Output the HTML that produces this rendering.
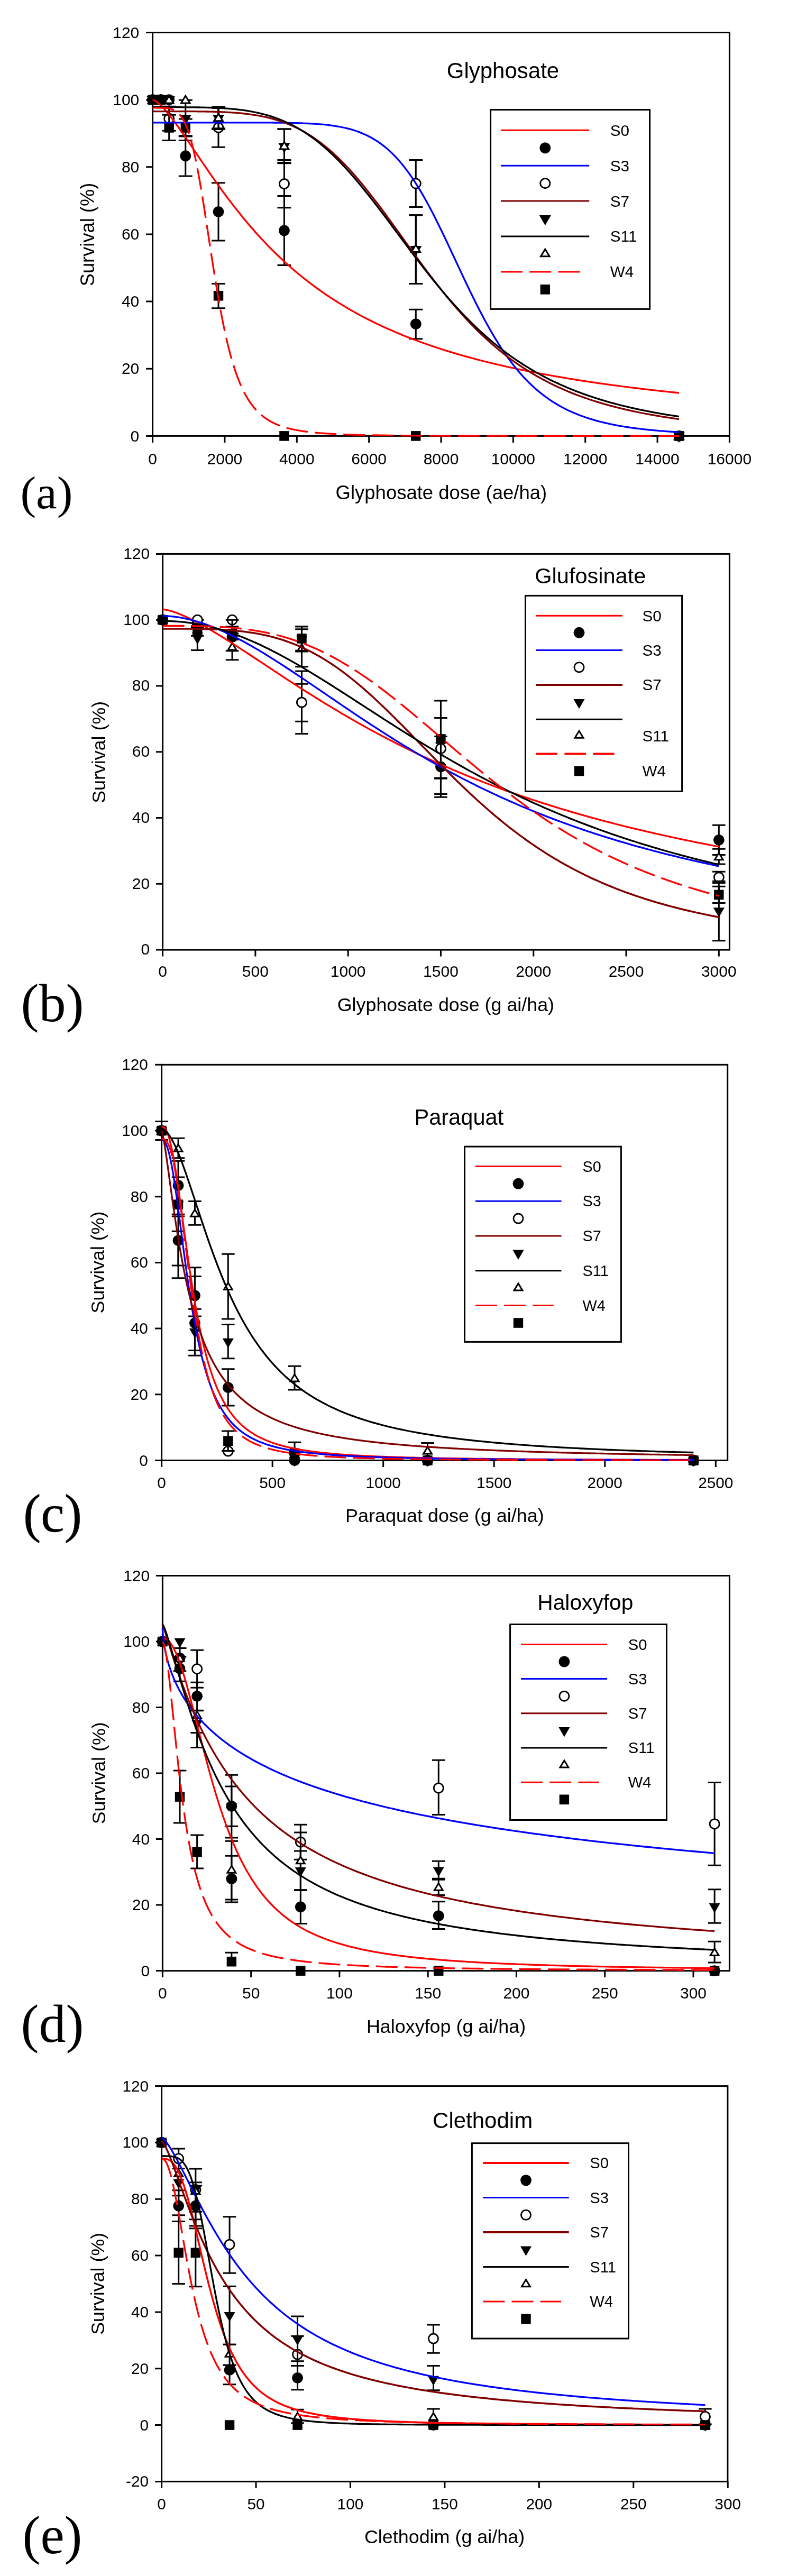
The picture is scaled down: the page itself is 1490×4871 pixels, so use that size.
<!DOCTYPE html>
<html><head><meta charset="utf-8"><title>Dose-response curves</title>
<style>html,body{margin:0;padding:0;background:#fff}svg{display:block;will-change:transform}text{fill:#000}</style></head>
<body>
<svg width="1490" height="4871" viewBox="0 0 1490 4871">
<rect width="1490" height="4871" fill="#fff"/>
<g id="panel_a">
<rect x="288.6" y="61.5" width="1090.8" height="762.9" fill="none" stroke="#000" stroke-width="3.0"/>
<path d="M288.6 824.4V836.9M424.95 824.4V836.9M561.3 824.4V836.9M697.65 824.4V836.9M834 824.4V836.9M970.35 824.4V836.9M1106.7 824.4V836.9M1243.05 824.4V836.9M1379.4 824.4V836.9M288.6 824.4H276.1M288.6 697.25H276.1M288.6 570.1H276.1M288.6 442.95H276.1M288.6 315.8H276.1M288.6 188.65H276.1M288.6 61.5H276.1" stroke="#000" stroke-width="3.0" fill="none"/>
<g font-family="Liberation Sans, sans-serif" font-size="30" fill="#000">
<text x="288.6" y="877.56" text-anchor="middle">0</text>
<text x="424.95" y="877.56" text-anchor="middle">2000</text>
<text x="561.3" y="877.56" text-anchor="middle">4000</text>
<text x="697.65" y="877.56" text-anchor="middle">6000</text>
<text x="834" y="877.56" text-anchor="middle">8000</text>
<text x="970.35" y="877.56" text-anchor="middle">10000</text>
<text x="1106.7" y="877.56" text-anchor="middle">12000</text>
<text x="1243.05" y="877.56" text-anchor="middle">14000</text>
<text x="1379.4" y="877.56" text-anchor="middle">16000</text>
<text x="263.3" y="834.56" text-anchor="end">0</text>
<text x="263.3" y="707.41" text-anchor="end">20</text>
<text x="263.3" y="580.26" text-anchor="end">40</text>
<text x="263.3" y="453.11" text-anchor="end">60</text>
<text x="263.3" y="325.96" text-anchor="end">80</text>
<text x="263.3" y="198.81" text-anchor="end">100</text>
<text x="263.3" y="71.66" text-anchor="end">120</text>
</g>
<path d="M350.78 256.68V332.97M337.78 256.68H363.78M337.78 332.97H363.78M413.02 345.68V455.03M400.02 345.68H426.02M400.02 455.03H426.02M537.44 370.47V501.44M524.44 370.47H550.44M524.44 501.44H550.44M786.28 585.36V640.67M773.28 585.36H799.28M773.28 640.67H799.28" stroke="#000" stroke-width="3.0" fill="none"/>
<circle cx="288.6" cy="188.65" r="10.45" fill="#000"/>
<circle cx="304.14" cy="188.65" r="10.45" fill="#000"/>
<circle cx="319.69" cy="188.65" r="10.45" fill="#000"/>
<circle cx="350.78" cy="294.82" r="10.45" fill="#000"/>
<circle cx="413.02" cy="400.35" r="10.45" fill="#000"/>
<circle cx="537.44" cy="435.96" r="10.45" fill="#000"/>
<circle cx="786.28" cy="612.7" r="10.45" fill="#000"/>
<circle cx="1283.95" cy="824.4" r="10.45" fill="#000"/>
<path d="M319.69 201.37V247.14M306.69 201.37H332.69M306.69 247.14H332.69M413.02 204.54V278.29M400.02 204.54H426.02M400.02 278.29H426.02M537.44 302.45V392.73M524.44 302.45H550.44M524.44 392.73H550.44M786.28 302.45V391.45M773.28 302.45H799.28M773.28 391.45H799.28" stroke="#000" stroke-width="3.0" fill="none"/>
<circle cx="288.6" cy="188.65" r="9.1" fill="#fff" stroke="#000" stroke-width="2.8"/>
<circle cx="304.14" cy="188.65" r="9.1" fill="#fff" stroke="#000" stroke-width="2.8"/>
<circle cx="319.69" cy="224.25" r="9.1" fill="#fff" stroke="#000" stroke-width="2.8"/>
<circle cx="413.02" cy="241.42" r="9.1" fill="#fff" stroke="#000" stroke-width="2.8"/>
<circle cx="537.44" cy="347.59" r="9.1" fill="#fff" stroke="#000" stroke-width="2.8"/>
<circle cx="786.28" cy="346.95" r="9.1" fill="#fff" stroke="#000" stroke-width="2.8"/>
<circle cx="1283.95" cy="824.4" r="9.1" fill="#fff" stroke="#000" stroke-width="2.8"/>
<path d="M350.78 189.29V257.95M337.78 189.29H363.78M337.78 257.95H363.78M413.02 202.64V244.6M400.02 202.64H426.02M400.02 244.6H426.02M537.44 243.96V308.81M524.44 243.96H550.44M524.44 308.81H550.44M786.28 406.71V536.41M773.28 406.71H799.28M773.28 536.41H799.28" stroke="#000" stroke-width="3.0" fill="none"/>
<path d="M277.52 182.05H299.68L288.6 201.25Z" fill="#000"/>
<path d="M293.07 182.05H315.22L304.14 201.25Z" fill="#000"/>
<path d="M308.61 182.05H330.77L319.69 201.25Z" fill="#000"/>
<path d="M339.7 217.02H361.85L350.78 236.22Z" fill="#000"/>
<path d="M401.94 217.02H424.1L413.02 236.22Z" fill="#000"/>
<path d="M526.36 270.42H548.52L537.44 289.62Z" fill="#000"/>
<path d="M775.2 464.96H797.36L786.28 484.16Z" fill="#000"/>
<path d="M1272.88 817.8H1295.03L1283.95 837Z" fill="#000"/>
<path d="M413.02 202V242.69M400.02 202H426.02M400.02 242.69H426.02M537.44 243.96V307.54M524.44 243.96H550.44M524.44 307.54H550.44M786.28 406.71V536.41M773.28 406.71H799.28M773.28 536.41H799.28" stroke="#000" stroke-width="3.0" fill="none"/>
<path d="M280.31 194.95H296.9L288.6 181.19Z" fill="#fff" stroke="#000" stroke-width="3.0" stroke-linejoin="miter"/>
<path d="M295.85 194.95H312.44L304.14 181.19Z" fill="#fff" stroke="#000" stroke-width="3.0" stroke-linejoin="miter"/>
<path d="M311.39 194.95H327.98L319.69 181.19Z" fill="#fff" stroke="#000" stroke-width="3.0" stroke-linejoin="miter"/>
<path d="M342.48 194.95H359.07L350.78 181.19Z" fill="#fff" stroke="#000" stroke-width="3.0" stroke-linejoin="miter"/>
<path d="M404.72 228.64H421.31L413.02 214.89Z" fill="#fff" stroke="#000" stroke-width="3.0" stroke-linejoin="miter"/>
<path d="M529.14 282.05H545.73L537.44 268.29Z" fill="#fff" stroke="#000" stroke-width="3.0" stroke-linejoin="miter"/>
<path d="M777.98 476.59H794.57L786.28 462.83Z" fill="#fff" stroke="#000" stroke-width="3.0" stroke-linejoin="miter"/>
<path d="M1275.66 830.7H1292.25L1283.95 816.94Z" fill="#fff" stroke="#000" stroke-width="3.0" stroke-linejoin="miter"/>
<path d="M319.69 217.26V265.58M306.69 217.26H332.69M306.69 265.58H332.69M350.78 224.89V265.58M337.78 224.89H363.78M337.78 265.58H363.78M413.02 536.41V582.81M400.02 536.41H426.02M400.02 582.81H426.02" stroke="#000" stroke-width="3.0" fill="none"/>
<rect x="279.4" y="179.35" width="18.4" height="18.6" fill="#000"/>
<rect x="294.94" y="179.35" width="18.4" height="18.6" fill="#000"/>
<rect x="310.49" y="232.12" width="18.4" height="18.6" fill="#000"/>
<rect x="341.58" y="232.12" width="18.4" height="18.6" fill="#000"/>
<rect x="403.82" y="549.99" width="18.4" height="18.6" fill="#000"/>
<rect x="528.24" y="815.1" width="18.4" height="18.6" fill="#000"/>
<rect x="777.08" y="815.1" width="18.4" height="18.6" fill="#000"/>
<rect x="1274.75" y="815.1" width="18.4" height="18.6" fill="#000"/>
<path d="M288.6 188.6 289.5 188.8 289.5 188.8 290.4 189.1 290.5 189.2 291.3 189.5 291.4 189.6 292.2 190.0 292.4 190.1 293.1 190.5 293.3 190.6 293.6 190.8 294.0 191.0 294.2 191.2 294.9 191.6 295.2 191.8 295.8 192.3 296.1 192.5 296.7 192.9 297.1 193.2 297.6 193.6 298.0 193.9 298.6 194.3 298.6 194.4 298.9 194.7 299.9 195.4 300.8 196.3 301.7 197.1 302.7 198.0 303.6 198.9 303.6 198.9 304.6 199.8 305.5 200.7 306.4 201.7 307.4 202.7 308.3 203.6 308.6 204.0 309.3 204.7 310.2 205.7 311.1 206.7 312.1 207.8 313.0 208.9 313.6 209.6 314.0 210.0 314.9 211.1 315.8 212.2 316.8 213.3 317.7 214.5 318.6 215.6 318.6 215.6 319.6 216.8 320.5 218.0 321.5 219.1 322.4 220.3 323.3 221.5 323.6 221.9 324.3 222.8 325.2 224.0 326.2 225.2 327.1 226.5 328.0 227.7 328.6 228.5 329.0 229.0 329.9 230.3 330.9 231.5 331.8 232.8 332.7 234.1 333.6 235.3 333.7 235.4 334.6 236.7 335.6 238.0 336.5 239.3 337.4 240.6 338.4 242.0 338.6 242.3 339.3 243.3 340.2 244.6 341.2 245.9 342.1 247.3 343.1 248.6 343.6 249.4 344.0 250.0 344.9 251.3 345.9 252.7 346.8 254.1 347.8 255.4 348.6 256.7 348.7 256.8 349.6 258.2 350.6 259.5 351.5 260.9 352.5 262.3 353.4 263.7 353.6 264.0 354.3 265.0 355.3 266.4 356.2 267.8 357.1 269.2 358.1 270.6 358.6 271.4 359.0 272.0 360.0 273.3 360.9 274.7 361.8 276.1 362.8 277.5 363.6 278.8 363.7 278.9 364.7 280.3 365.6 281.7 366.5 283.1 367.5 284.5 368.4 285.9 368.6 286.2 369.4 287.3 370.3 288.7 371.2 290.1 372.2 291.5 373.1 292.8 373.6 293.6 374.1 294.2 375.0 295.6 375.9 297.0 376.9 298.4 377.8 299.8 378.6 301.0 378.7 301.2 379.7 302.6 380.6 304.0 381.6 305.3 382.5 306.7 383.4 308.1 383.6 308.4 384.4 309.5 385.3 310.9 386.3 312.3 387.2 313.6 388.1 315.0 388.6 315.7 389.1 316.4 390.0 317.7 391.0 319.1 391.9 320.5 392.8 321.9 393.6 323.0 393.8 323.2 394.7 324.6 395.6 325.9 396.6 327.3 397.5 328.6 398.5 330.0 398.6 330.3 399.4 331.4 400.3 332.7 401.3 334.0 402.2 335.4 403.2 336.7 403.6 337.4 404.1 338.1 405.0 339.4 406.0 340.7 406.9 342.1 407.9 343.4 408.6 344.5 408.8 344.7 409.7 346.0 410.7 347.4 411.6 348.7 412.5 350.0 413.5 351.3 413.6 351.5 414.4 352.6 415.4 353.9 416.3 355.2 417.2 356.5 418.2 357.8 418.6 358.4 419.1 359.1 420.1 360.4 421.0 361.7 421.9 363.0 422.9 364.2 423.6 365.3 423.8 365.5 424.8 366.8 425.7 368.1 426.6 369.3 427.6 370.6 428.5 371.9 428.6 372.0 429.5 373.1 430.4 374.4 431.3 375.6 432.3 376.9 433.2 378.1 433.7 378.7 434.1 379.3 435.1 380.6 436.0 381.8 437.0 383.1 437.9 384.3 438.7 385.3 443.7 391.7 448.7 398.1 453.7 404.3 458.7 410.5 463.7 416.6 468.7 422.5 473.7 428.4 478.7 434.1 483.7 439.8 488.7 445.3 493.7 450.8 498.7 456.2 503.7 461.4 508.7 466.6 513.7 471.6 518.7 476.6 523.7 481.5 528.7 486.3 533.7 491.0 538.7 495.6 543.7 500.1 548.7 504.6 553.7 508.9 558.7 513.2 563.7 517.4 568.7 521.5 573.7 525.5 578.7 529.5 583.7 533.4 588.7 537.2 593.7 540.9 598.7 544.6 603.7 548.2 608.7 551.7 613.7 555.2 618.7 558.6 623.7 561.9 628.7 565.2 633.7 568.4 638.7 571.6 643.7 574.7 648.7 577.7 653.7 580.7 658.7 583.7 663.7 586.5 668.7 589.4 673.7 592.2 678.7 594.9 683.7 597.6 688.7 600.2 693.7 602.8 698.7 605.3 703.7 607.8 708.7 610.3 713.8 612.7 718.8 615.1 723.8 617.4 728.8 619.7 733.8 621.9 738.8 624.1 743.8 626.3 748.8 628.5 753.8 630.6 758.8 632.6 763.8 634.7 768.8 636.7 773.8 638.6 778.8 640.6 783.8 642.5 788.8 644.3 793.8 646.2 798.8 648.0 803.8 649.8 808.8 651.5 813.8 653.2 818.8 654.9 823.8 656.6 828.8 658.3 833.8 659.9 838.8 661.5 843.8 663.1 848.8 664.6 853.8 666.1 858.8 667.6 863.8 669.1 868.8 670.6 873.8 672.0 878.8 673.4 883.8 674.8 888.8 676.2 893.8 677.5 898.8 678.9 903.8 680.2 908.8 681.5 913.8 682.8 918.8 684.0 923.8 685.3 928.8 686.5 933.8 687.7 938.8 688.9 943.8 690.0 948.8 691.2 953.8 692.3 958.8 693.5 963.8 694.6 968.8 695.7 973.8 696.7 978.8 697.8 983.8 698.9 988.8 699.9 993.9 700.9 998.9 701.9 1003.9 702.9 1008.9 703.9 1013.9 704.9 1018.9 705.8 1023.9 706.8 1028.9 707.7 1033.9 708.6 1038.9 709.5 1043.9 710.4 1048.9 711.3 1053.9 712.2 1058.9 713.0 1063.9 713.9 1068.9 714.7 1073.9 715.6 1078.9 716.4 1083.9 717.2 1088.9 718.0 1093.9 718.8 1098.9 719.6 1103.9 720.4 1108.9 721.1 1113.9 721.9 1118.9 722.6 1123.9 723.4 1128.9 724.1 1133.9 724.8 1138.9 725.5 1143.9 726.2 1148.9 726.9 1153.9 727.6 1158.9 728.3 1163.9 728.9 1168.9 729.6 1173.9 730.3 1178.9 730.9 1183.9 731.6 1188.9 732.2 1193.9 732.8 1198.9 733.4 1203.9 734.0 1208.9 734.7 1213.9 735.3 1218.9 735.8 1223.9 736.4 1228.9 737.0 1233.9 737.6 1238.9 738.2 1243.9 738.7 1248.9 739.3 1253.9 739.8 1258.9 740.4 1263.9 740.9 1268.9 741.4 1274.0 742.0 1279.0 742.5 1284.0 743.0" fill="none" stroke="#ff0000" stroke-width="3.3" stroke-linejoin="round"/>
<path d="M288.6 231.8 289.5 231.8 289.5 231.8 290.4 231.8 290.5 231.8 291.3 231.8 291.4 231.8 292.2 231.8 292.4 231.8 293.1 231.8 293.3 231.8 293.6 231.8 294.0 231.8 294.2 231.8 294.9 231.8 295.2 231.8 295.8 231.8 296.1 231.8 296.7 231.8 297.1 231.8 297.6 231.8 298.0 231.8 298.6 231.8 298.6 231.8 298.9 231.8 299.9 231.8 300.8 231.8 301.7 231.8 302.7 231.8 303.6 231.8 303.6 231.8 304.6 231.8 305.5 231.8 306.4 231.8 307.4 231.8 308.3 231.8 308.6 231.8 309.3 231.8 310.2 231.8 311.1 231.8 312.1 231.8 313.0 231.8 313.6 231.8 314.0 231.8 314.9 231.8 315.8 231.8 316.8 231.8 317.7 231.8 318.6 231.8 318.6 231.8 319.6 231.8 320.5 231.8 321.5 231.8 322.4 231.8 323.3 231.8 323.6 231.8 324.3 231.8 325.2 231.8 326.2 231.8 327.1 231.8 328.0 231.8 328.6 231.8 329.0 231.8 329.9 231.8 330.9 231.8 331.8 231.8 332.7 231.8 333.6 231.8 333.7 231.8 334.6 231.8 335.6 231.8 336.5 231.8 337.4 231.8 338.4 231.8 338.6 231.8 339.3 231.8 340.2 231.8 341.2 231.8 342.1 231.8 343.1 231.8 343.6 231.8 344.0 231.8 344.9 231.8 345.9 231.8 346.8 231.8 347.8 231.8 348.6 231.8 348.7 231.8 349.6 231.8 350.6 231.8 351.5 231.8 352.5 231.8 353.4 231.8 353.6 231.8 354.3 231.8 355.3 231.8 356.2 231.8 357.1 231.8 358.1 231.8 358.6 231.8 359.0 231.8 360.0 231.8 360.9 231.8 361.8 231.8 362.8 231.8 363.6 231.8 363.7 231.8 364.7 231.8 365.6 231.8 366.5 231.8 367.5 231.8 368.4 231.8 368.6 231.8 369.4 231.8 370.3 231.8 371.2 231.8 372.2 231.8 373.1 231.8 373.6 231.8 374.1 231.8 375.0 231.8 375.9 231.8 376.9 231.8 377.8 231.8 378.6 231.8 378.7 231.8 379.7 231.8 380.6 231.8 381.6 231.8 382.5 231.8 383.4 231.8 383.6 231.8 384.4 231.8 385.3 231.8 386.3 231.8 387.2 231.8 388.1 231.8 388.6 231.8 389.1 231.8 390.0 231.8 391.0 231.8 391.9 231.8 392.8 231.8 393.6 231.8 393.8 231.8 394.7 231.8 395.6 231.8 396.6 231.8 397.5 231.8 398.5 231.8 398.6 231.8 399.4 231.8 400.3 231.8 401.3 231.8 402.2 231.8 403.2 231.8 403.6 231.8 404.1 231.8 405.0 231.8 406.0 231.8 406.9 231.8 407.9 231.8 408.6 231.8 408.8 231.8 409.7 231.8 410.7 231.8 411.6 231.8 412.5 231.8 413.5 231.8 413.6 231.8 414.4 231.8 415.4 231.8 416.3 231.8 417.2 231.8 418.2 231.8 418.6 231.8 419.1 231.8 420.1 231.8 421.0 231.8 421.9 231.8 422.9 231.8 423.6 231.8 423.8 231.8 424.8 231.8 425.7 231.8 426.6 231.8 427.6 231.8 428.5 231.8 428.6 231.8 429.5 231.8 430.4 231.8 431.3 231.8 432.3 231.8 433.2 231.8 433.7 231.8 434.1 231.8 435.1 231.8 436.0 231.8 437.0 231.8 437.9 231.8 438.7 231.8 443.7 231.8 448.7 231.8 453.7 231.8 458.7 231.8 463.7 231.8 468.7 231.8 473.7 231.8 478.7 231.8 483.7 231.8 488.7 231.8 493.7 231.8 498.7 231.9 503.7 231.9 508.7 231.9 513.7 231.9 518.7 232.0 523.7 232.0 528.7 232.1 533.7 232.1 538.7 232.2 543.7 232.3 548.7 232.4 553.7 232.5 558.7 232.6 563.7 232.7 568.7 232.9 573.7 233.1 578.7 233.3 583.7 233.5 588.7 233.8 593.7 234.1 598.7 234.4 603.7 234.8 608.7 235.2 613.7 235.7 618.7 236.2 623.7 236.8 628.7 237.5 633.7 238.3 638.7 239.1 643.7 240.0 648.7 241.0 653.7 242.1 658.7 243.4 663.7 244.7 668.7 246.2 673.7 247.8 678.7 249.6 683.7 251.6 688.7 253.7 693.7 256.0 698.7 258.5 703.7 261.3 708.7 264.2 713.8 267.4 718.8 270.9 723.8 274.6 728.8 278.6 733.8 282.8 738.8 287.4 743.8 292.2 748.8 297.4 753.8 302.9 758.8 308.8 763.8 314.9 768.8 321.4 773.8 328.3 778.8 335.4 783.8 342.9 788.8 350.8 793.8 358.9 798.8 367.4 803.8 376.2 808.8 385.2 813.8 394.6 818.8 404.1 823.8 413.9 828.8 424.0 833.8 434.2 838.8 444.5 843.8 455.0 848.8 465.6 853.8 476.3 858.8 487.0 863.8 497.7 868.8 508.4 873.8 519.1 878.8 529.7 883.8 540.2 888.8 550.6 893.8 560.8 898.8 570.9 903.8 580.8 908.8 590.5 913.8 600.0 918.8 609.3 923.8 618.3 928.8 627.1 933.8 635.6 938.8 643.9 943.8 651.8 948.8 659.6 953.8 667.0 958.8 674.2 963.8 681.1 968.8 687.7 973.8 694.1 978.8 700.2 983.8 706.1 988.8 711.7 993.9 717.0 998.9 722.2 1003.9 727.0 1008.9 731.7 1013.9 736.2 1018.9 740.4 1023.9 744.5 1028.9 748.4 1033.9 752.0 1038.9 755.5 1043.9 758.9 1048.9 762.0 1053.9 765.0 1058.9 767.9 1063.9 770.6 1068.9 773.2 1073.9 775.7 1078.9 778.0 1083.9 780.2 1088.9 782.3 1093.9 784.3 1098.9 786.2 1103.9 788.0 1108.9 789.8 1113.9 791.4 1118.9 792.9 1123.9 794.4 1128.9 795.8 1133.9 797.1 1138.9 798.4 1143.9 799.6 1148.9 800.7 1153.9 801.8 1158.9 802.8 1163.9 803.8 1168.9 804.8 1173.9 805.6 1178.9 806.5 1183.9 807.3 1188.9 808.0 1193.9 808.8 1198.9 809.5 1203.9 810.1 1208.9 810.7 1213.9 811.3 1218.9 811.9 1223.9 812.4 1228.9 813.0 1233.9 813.4 1238.9 813.9 1243.9 814.4 1248.9 814.8 1253.9 815.2 1258.9 815.6 1263.9 815.9 1268.9 816.3 1274.0 816.6 1279.0 816.9 1284.0 817.3" fill="none" stroke="#0000ff" stroke-width="3.3" stroke-linejoin="round"/>
<path d="M288.6 210.6 289.5 210.6 289.5 210.6 290.4 210.6 290.5 210.6 291.3 210.6 291.4 210.6 292.2 210.6 292.4 210.6 293.1 210.6 293.3 210.6 293.6 210.6 294.0 210.6 294.2 210.6 294.9 210.6 295.2 210.6 295.8 210.6 296.1 210.6 296.7 210.6 297.1 210.6 297.6 210.6 298.0 210.6 298.6 210.6 298.6 210.6 298.9 210.6 299.9 210.6 300.8 210.6 301.7 210.6 302.7 210.6 303.6 210.6 303.6 210.6 304.6 210.6 305.5 210.6 306.4 210.6 307.4 210.6 308.3 210.6 308.6 210.6 309.3 210.6 310.2 210.6 311.1 210.6 312.1 210.6 313.0 210.6 313.6 210.6 314.0 210.6 314.9 210.6 315.8 210.6 316.8 210.6 317.7 210.6 318.6 210.6 318.6 210.6 319.6 210.6 320.5 210.6 321.5 210.6 322.4 210.6 323.3 210.6 323.6 210.6 324.3 210.6 325.2 210.6 326.2 210.6 327.1 210.6 328.0 210.6 328.6 210.6 329.0 210.6 329.9 210.6 330.9 210.6 331.8 210.6 332.7 210.6 333.6 210.6 333.7 210.6 334.6 210.6 335.6 210.6 336.5 210.6 337.4 210.6 338.4 210.6 338.6 210.6 339.3 210.6 340.2 210.6 341.2 210.6 342.1 210.6 343.1 210.6 343.6 210.6 344.0 210.6 344.9 210.6 345.9 210.6 346.8 210.6 347.8 210.6 348.6 210.6 348.7 210.6 349.6 210.6 350.6 210.6 351.5 210.6 352.5 210.6 353.4 210.6 353.6 210.6 354.3 210.6 355.3 210.6 356.2 210.6 357.1 210.6 358.1 210.7 358.6 210.7 359.0 210.7 360.0 210.7 360.9 210.7 361.8 210.7 362.8 210.7 363.6 210.7 363.7 210.7 364.7 210.7 365.6 210.7 366.5 210.7 367.5 210.7 368.4 210.7 368.6 210.7 369.4 210.7 370.3 210.7 371.2 210.7 372.2 210.7 373.1 210.8 373.6 210.8 374.1 210.8 375.0 210.8 375.9 210.8 376.9 210.8 377.8 210.8 378.6 210.8 378.7 210.8 379.7 210.8 380.6 210.8 381.6 210.8 382.5 210.9 383.4 210.9 383.6 210.9 384.4 210.9 385.3 210.9 386.3 210.9 387.2 210.9 388.1 210.9 388.6 210.9 389.1 211.0 390.0 211.0 391.0 211.0 391.9 211.0 392.8 211.0 393.6 211.0 393.8 211.0 394.7 211.1 395.6 211.1 396.6 211.1 397.5 211.1 398.5 211.1 398.6 211.1 399.4 211.2 400.3 211.2 401.3 211.2 402.2 211.2 403.2 211.2 403.6 211.3 404.1 211.3 405.0 211.3 406.0 211.3 406.9 211.4 407.9 211.4 408.6 211.4 408.8 211.4 409.7 211.4 410.7 211.5 411.6 211.5 412.5 211.5 413.5 211.6 413.6 211.6 414.4 211.6 415.4 211.6 416.3 211.7 417.2 211.7 418.2 211.7 418.6 211.8 419.1 211.8 420.1 211.8 421.0 211.9 421.9 211.9 422.9 211.9 423.6 212.0 423.8 212.0 424.8 212.0 425.7 212.1 426.6 212.1 427.6 212.2 428.5 212.2 428.6 212.2 429.5 212.3 430.4 212.3 431.3 212.4 432.3 212.4 433.2 212.5 433.7 212.5 434.1 212.5 435.1 212.6 436.0 212.7 437.0 212.7 437.9 212.8 438.7 212.8 443.7 213.2 448.7 213.6 453.7 214.0 458.7 214.5 463.7 215.0 468.7 215.6 473.7 216.3 478.7 217.0 483.7 217.8 488.7 218.7 493.7 219.6 498.7 220.6 503.7 221.7 508.7 222.9 513.7 224.2 518.7 225.6 523.7 227.1 528.7 228.7 533.7 230.4 538.7 232.2 543.7 234.1 548.7 236.2 553.7 238.3 558.7 240.7 563.7 243.1 568.7 245.7 573.7 248.4 578.7 251.3 583.7 254.3 588.7 257.5 593.7 260.8 598.7 264.3 603.7 268.0 608.7 271.7 613.7 275.7 618.7 279.8 623.7 284.1 628.7 288.5 633.7 293.1 638.7 297.8 643.7 302.7 648.7 307.7 653.7 312.9 658.7 318.2 663.7 323.7 668.7 329.3 673.7 335.1 678.7 340.9 683.7 346.9 688.7 353.0 693.7 359.2 698.7 365.5 703.7 371.9 708.7 378.4 713.8 385.0 718.8 391.6 723.8 398.3 728.8 405.1 733.8 411.9 738.8 418.8 743.8 425.7 748.8 432.6 753.8 439.5 758.8 446.5 763.8 453.4 768.8 460.4 773.8 467.3 778.8 474.2 783.8 481.1 788.8 488.0 793.8 494.8 798.8 501.6 803.8 508.3 808.8 515.0 813.8 521.6 818.8 528.1 823.8 534.6 828.8 541.0 833.8 547.3 838.8 553.5 843.8 559.7 848.8 565.7 853.8 571.7 858.8 577.6 863.8 583.4 868.8 589.0 873.8 594.6 878.8 600.1 883.8 605.5 888.8 610.8 893.8 615.9 898.8 621.0 903.8 626.0 908.8 630.8 913.8 635.6 918.8 640.2 923.8 644.8 928.8 649.2 933.8 653.6 938.8 657.8 943.8 662.0 948.8 666.0 953.8 670.0 958.8 673.9 963.8 677.6 968.8 681.3 973.8 684.9 978.8 688.4 983.8 691.8 988.8 695.1 993.9 698.4 998.9 701.5 1003.9 704.6 1008.9 707.6 1013.9 710.5 1018.9 713.3 1023.9 716.1 1028.9 718.8 1033.9 721.4 1038.9 724.0 1043.9 726.5 1048.9 728.9 1053.9 731.2 1058.9 733.5 1063.9 735.8 1068.9 737.9 1073.9 740.1 1078.9 742.1 1083.9 744.1 1088.9 746.1 1093.9 748.0 1098.9 749.8 1103.9 751.6 1108.9 753.3 1113.9 755.0 1118.9 756.7 1123.9 758.3 1128.9 759.9 1133.9 761.4 1138.9 762.9 1143.9 764.3 1148.9 765.7 1153.9 767.1 1158.9 768.4 1163.9 769.7 1168.9 771.0 1173.9 772.2 1178.9 773.4 1183.9 774.6 1188.9 775.7 1193.9 776.8 1198.9 777.9 1203.9 779.0 1208.9 780.0 1213.9 781.0 1218.9 782.0 1223.9 782.9 1228.9 783.8 1233.9 784.7 1238.9 785.6 1243.9 786.4 1248.9 787.3 1253.9 788.1 1258.9 788.9 1263.9 789.6 1268.9 790.4 1274.0 791.1 1279.0 791.8 1284.0 792.5" fill="none" stroke="#800000" stroke-width="3.3" stroke-linejoin="round"/>
<path d="M288.6 202.7 289.5 202.7 289.5 202.7 290.4 202.7 290.5 202.7 291.3 202.7 291.4 202.7 292.2 202.7 292.4 202.7 293.1 202.7 293.3 202.7 293.6 202.7 294.0 202.7 294.2 202.7 294.9 202.7 295.2 202.7 295.8 202.7 296.1 202.7 296.7 202.7 297.1 202.7 297.6 202.7 298.0 202.7 298.6 202.7 298.6 202.7 298.9 202.7 299.9 202.7 300.8 202.7 301.7 202.7 302.7 202.7 303.6 202.7 303.6 202.7 304.6 202.7 305.5 202.7 306.4 202.7 307.4 202.7 308.3 202.7 308.6 202.7 309.3 202.7 310.2 202.7 311.1 202.7 312.1 202.7 313.0 202.7 313.6 202.7 314.0 202.7 314.9 202.7 315.8 202.7 316.8 202.7 317.7 202.7 318.6 202.7 318.6 202.7 319.6 202.7 320.5 202.7 321.5 202.7 322.4 202.7 323.3 202.7 323.6 202.7 324.3 202.7 325.2 202.7 326.2 202.7 327.1 202.7 328.0 202.7 328.6 202.7 329.0 202.7 329.9 202.7 330.9 202.7 331.8 202.7 332.7 202.7 333.6 202.7 333.7 202.7 334.6 202.7 335.6 202.7 336.5 202.7 337.4 202.7 338.4 202.7 338.6 202.7 339.3 202.7 340.2 202.7 341.2 202.7 342.1 202.7 343.1 202.7 343.6 202.7 344.0 202.7 344.9 202.8 345.9 202.8 346.8 202.8 347.8 202.8 348.6 202.8 348.7 202.8 349.6 202.8 350.6 202.8 351.5 202.8 352.5 202.8 353.4 202.8 353.6 202.8 354.3 202.8 355.3 202.8 356.2 202.8 357.1 202.8 358.1 202.8 358.6 202.8 359.0 202.8 360.0 202.8 360.9 202.8 361.8 202.9 362.8 202.9 363.6 202.9 363.7 202.9 364.7 202.9 365.6 202.9 366.5 202.9 367.5 202.9 368.4 202.9 368.6 202.9 369.4 202.9 370.3 202.9 371.2 203.0 372.2 203.0 373.1 203.0 373.6 203.0 374.1 203.0 375.0 203.0 375.9 203.0 376.9 203.0 377.8 203.1 378.6 203.1 378.7 203.1 379.7 203.1 380.6 203.1 381.6 203.1 382.5 203.1 383.4 203.2 383.6 203.2 384.4 203.2 385.3 203.2 386.3 203.2 387.2 203.3 388.1 203.3 388.6 203.3 389.1 203.3 390.0 203.3 391.0 203.3 391.9 203.4 392.8 203.4 393.6 203.4 393.8 203.4 394.7 203.5 395.6 203.5 396.6 203.5 397.5 203.5 398.5 203.6 398.6 203.6 399.4 203.6 400.3 203.6 401.3 203.7 402.2 203.7 403.2 203.7 403.6 203.8 404.1 203.8 405.0 203.8 406.0 203.9 406.9 203.9 407.9 203.9 408.6 204.0 408.8 204.0 409.7 204.0 410.7 204.1 411.6 204.1 412.5 204.2 413.5 204.2 413.6 204.2 414.4 204.2 415.4 204.3 416.3 204.3 417.2 204.4 418.2 204.5 418.6 204.5 419.1 204.5 420.1 204.6 421.0 204.6 421.9 204.7 422.9 204.7 423.6 204.8 423.8 204.8 424.8 204.9 425.7 204.9 426.6 205.0 427.6 205.1 428.5 205.1 428.6 205.1 429.5 205.2 430.4 205.3 431.3 205.3 432.3 205.4 433.2 205.5 433.7 205.5 434.1 205.6 435.1 205.6 436.0 205.7 437.0 205.8 437.9 205.9 438.7 206.0 443.7 206.4 448.7 207.0 453.7 207.6 458.7 208.2 463.7 208.9 468.7 209.7 473.7 210.6 478.7 211.5 483.7 212.5 488.7 213.6 493.7 214.8 498.7 216.0 503.7 217.4 508.7 218.8 513.7 220.4 518.7 222.1 523.7 223.9 528.7 225.8 533.7 227.8 538.7 229.9 543.7 232.2 548.7 234.6 553.7 237.1 558.7 239.8 563.7 242.6 568.7 245.6 573.7 248.7 578.7 251.9 583.7 255.3 588.7 258.8 593.7 262.5 598.7 266.3 603.7 270.3 608.7 274.4 613.7 278.7 618.7 283.1 623.7 287.7 628.7 292.4 633.7 297.2 638.7 302.2 643.7 307.3 648.7 312.6 653.7 318.0 658.7 323.5 663.7 329.1 668.7 334.9 673.7 340.7 678.7 346.7 683.7 352.7 688.7 358.9 693.7 365.1 698.7 371.4 703.7 377.8 708.7 384.3 713.8 390.8 718.8 397.4 723.8 404.0 728.8 410.6 733.8 417.3 738.8 424.0 743.8 430.7 748.8 437.4 753.8 444.1 758.8 450.9 763.8 457.6 768.8 464.3 773.8 470.9 778.8 477.6 783.8 484.2 788.8 490.8 793.8 497.3 798.8 503.8 803.8 510.2 808.8 516.6 813.8 522.9 818.8 529.1 823.8 535.2 828.8 541.3 833.8 547.3 838.8 553.3 843.8 559.1 848.8 564.9 853.8 570.5 858.8 576.1 863.8 581.6 868.8 587.0 873.8 592.3 878.8 597.6 883.8 602.7 888.8 607.7 893.8 612.7 898.8 617.5 903.8 622.2 908.8 626.9 913.8 631.4 918.8 635.9 923.8 640.3 928.8 644.6 933.8 648.7 938.8 652.8 943.8 656.8 948.8 660.7 953.8 664.6 958.8 668.3 963.8 672.0 968.8 675.5 973.8 679.0 978.8 682.4 983.8 685.7 988.8 689.0 993.9 692.2 998.9 695.2 1003.9 698.3 1008.9 701.2 1013.9 704.1 1018.9 706.9 1023.9 709.6 1028.9 712.3 1033.9 714.9 1038.9 717.4 1043.9 719.9 1048.9 722.3 1053.9 724.6 1058.9 726.9 1063.9 729.1 1068.9 731.3 1073.9 733.4 1078.9 735.5 1083.9 737.5 1088.9 739.5 1093.9 741.4 1098.9 743.3 1103.9 745.1 1108.9 746.9 1113.9 748.6 1118.9 750.3 1123.9 751.9 1128.9 753.5 1133.9 755.1 1138.9 756.6 1143.9 758.1 1148.9 759.6 1153.9 761.0 1158.9 762.4 1163.9 763.7 1168.9 765.0 1173.9 766.3 1178.9 767.5 1183.9 768.7 1188.9 769.9 1193.9 771.1 1198.9 772.2 1203.9 773.3 1208.9 774.4 1213.9 775.4 1218.9 776.4 1223.9 777.4 1228.9 778.4 1233.9 779.4 1238.9 780.3 1243.9 781.2 1248.9 782.1 1253.9 782.9 1258.9 783.8 1263.9 784.6 1268.9 785.4 1274.0 786.2 1279.0 786.9 1284.0 787.7" fill="none" stroke="#000000" stroke-width="3.3" stroke-linejoin="round"/>
<path d="M288.6 203.9 289.5 203.9 289.5 203.9 290.4 203.9 290.5 203.9 291.3 203.9 291.4 203.9 292.2 203.9 292.4 203.9 293.1 203.9 293.3 203.9 293.6 203.9 294.0 203.9 294.2 203.9 294.9 203.9 295.2 203.9 295.8 203.9 296.1 203.9 296.7 203.9 297.1 203.9 297.6 203.9 298.0 203.9 298.6 203.9 298.6 203.9 298.9 203.9 299.9 203.9 300.8 203.9 301.7 203.9 302.7 203.9 303.6 203.9 303.6 203.9 304.6 204.0 305.5 204.0 306.4 204.0 307.4 204.0 308.3 204.1 308.6 204.1 309.3 204.1 310.2 204.1 311.1 204.2 312.1 204.2 313.0 204.3 313.6 204.4 314.0 204.4 314.9 204.5 315.8 204.6 316.8 204.7 317.7 204.8 318.6 205.0 318.6 205.0 319.6 205.1 320.5 205.3 321.5 205.5 322.4 205.8 323.3 206.0 323.6 206.1 324.3 206.3 325.2 206.6 326.2 207.0 327.1 207.3 328.0 207.7 328.6 208.0 329.0 208.2 329.9 208.7 330.9 209.2 331.8 209.8 332.7 210.4 333.6 211.0 333.7 211.1 334.6 211.8 335.6 212.6 336.5 213.4 337.4 214.3 338.4 215.2 338.6 215.5 339.3 216.3 340.2 217.3 341.2 218.5 342.1 219.7 343.1 221.1 343.6 221.9 344.0 222.5 344.9 223.9 345.9 225.5 346.8 227.1 347.8 228.9 348.6 230.6 348.7 230.7 349.6 232.7 350.6 234.7 351.5 236.8 352.5 239.1 353.4 241.4 353.6 242.0 354.3 243.9 355.3 246.4 356.2 249.1 357.1 251.9 358.1 254.8 358.6 256.5 359.0 257.9 360.0 261.0 360.9 264.3 361.8 267.7 362.8 271.2 363.6 274.4 363.7 274.8 364.7 278.5 365.6 282.4 366.5 286.4 367.5 290.5 368.4 294.8 368.6 295.7 369.4 299.1 370.3 303.6 371.2 308.2 372.2 312.8 373.1 317.6 373.6 320.3 374.1 322.6 375.0 327.6 375.9 332.7 376.9 337.9 377.8 343.2 378.6 347.9 378.7 348.6 379.7 354.1 380.6 359.6 381.6 365.2 382.5 370.9 383.4 376.7 383.6 377.9 384.4 382.6 385.3 388.5 386.3 394.4 387.2 400.4 388.1 406.4 388.6 409.7 389.1 412.5 390.0 418.6 391.0 424.7 391.9 430.9 392.8 437.0 393.6 442.3 393.8 443.2 394.7 449.4 395.6 455.5 396.6 461.7 397.5 467.9 398.5 474.0 398.6 475.1 399.4 480.1 400.3 486.2 401.3 492.3 402.2 498.3 403.2 504.3 403.6 507.4 404.1 510.3 405.0 516.2 406.0 522.0 406.9 527.8 407.9 533.6 408.6 538.4 408.8 539.3 409.7 544.9 410.7 550.5 411.6 556.0 412.5 561.4 413.5 566.8 413.6 567.7 414.4 572.1 415.4 577.3 416.3 582.4 417.2 587.5 418.2 592.5 418.6 594.9 419.1 597.4 420.1 602.2 421.0 607.0 421.9 611.6 422.9 616.2 423.6 619.9 423.8 620.7 424.8 625.2 425.7 629.5 426.6 633.8 427.6 638.0 428.5 642.1 428.6 642.7 429.5 646.1 430.4 650.0 431.3 653.9 432.3 657.7 433.2 661.4 433.7 663.1 434.1 665.0 435.1 668.6 436.0 672.1 437.0 675.5 437.9 678.8 438.7 681.4 443.7 697.7 448.7 712.1 453.7 724.8 458.7 736.0 463.7 745.8 468.7 754.5 473.7 762.1 478.7 768.8 483.7 774.6 488.7 779.8 493.7 784.4 498.7 788.4 503.7 792.0 508.7 795.2 513.7 798.0 518.7 800.5 523.7 802.7 528.7 804.7 533.7 806.4 538.7 808.0 543.7 809.5 548.7 810.7 553.7 811.9 558.7 812.9 563.7 813.8 568.7 814.7 573.7 815.5 578.7 816.1 583.7 816.8 588.7 817.3 593.7 817.9 598.7 818.3 603.7 818.8 608.7 819.2 613.7 819.5 618.7 819.9 623.7 820.2 628.7 820.5 633.7 820.7 638.7 821.0 643.7 821.2 648.7 821.4 653.7 821.6 658.7 821.8 663.7 821.9 668.7 822.1 673.7 822.2 678.7 822.3 683.7 822.5 688.7 822.6 693.7 822.7 698.7 822.8 703.7 822.9 708.7 822.9 713.8 823.0 718.8 823.1 723.8 823.2 728.8 823.2 733.8 823.3 738.8 823.3 743.8 823.4 748.8 823.4 753.8 823.5 758.8 823.5 763.8 823.6 768.8 823.6 773.8 823.7 778.8 823.7 783.8 823.7 788.8 823.8 793.8 823.8 798.8 823.8 803.8 823.8 808.8 823.9 813.8 823.9 818.8 823.9 823.8 823.9 828.8 824.0 833.8 824.0 838.8 824.0 843.8 824.0 848.8 824.0 853.8 824.0 858.8 824.1 863.8 824.1 868.8 824.1 873.8 824.1 878.8 824.1 883.8 824.1 888.8 824.1 893.8 824.1 898.8 824.1 903.8 824.2 908.8 824.2 913.8 824.2 918.8 824.2 923.8 824.2 928.8 824.2 933.8 824.2 938.8 824.2 943.8 824.2 948.8 824.2 953.8 824.2 958.8 824.2 963.8 824.2 968.8 824.2 973.8 824.3 978.8 824.3 983.8 824.3 988.8 824.3 993.9 824.3 998.9 824.3 1003.9 824.3 1008.9 824.3 1013.9 824.3 1018.9 824.3 1023.9 824.3 1028.9 824.3 1033.9 824.3 1038.9 824.3 1043.9 824.3 1048.9 824.3 1053.9 824.3 1058.9 824.3 1063.9 824.3 1068.9 824.3 1073.9 824.3 1078.9 824.3 1083.9 824.3 1088.9 824.3 1093.9 824.3 1098.9 824.3 1103.9 824.3 1108.9 824.3 1113.9 824.3 1118.9 824.3 1123.9 824.3 1128.9 824.3 1133.9 824.3 1138.9 824.3 1143.9 824.3 1148.9 824.3 1153.9 824.4 1158.9 824.4 1163.9 824.4 1168.9 824.4 1173.9 824.4 1178.9 824.4 1183.9 824.4 1188.9 824.4 1193.9 824.4 1198.9 824.4 1203.9 824.4 1208.9 824.4 1213.9 824.4 1218.9 824.4 1223.9 824.4 1228.9 824.4 1233.9 824.4 1238.9 824.4 1243.9 824.4 1248.9 824.4 1253.9 824.4 1258.9 824.4 1263.9 824.4 1268.9 824.4 1274.0 824.4 1279.0 824.4 1284.0 824.4" fill="none" stroke="#ff0000" stroke-width="3.3" stroke-dasharray="41 13.2" stroke-linejoin="round"/>
<text x="951" y="148" font-family="Liberation Sans, sans-serif" font-size="42" text-anchor="middle" >Glyphosate</text>
<rect x="927.6" y="207.5" width="301" height="376.9" fill="#fff" stroke="#000" stroke-width="3.0"/>
<path d="M947.1 246.3H1114.2" stroke="#ff0000" stroke-width="3"/>
<circle cx="1030.8" cy="279.75" r="10.45" fill="#000"/>
<text x="1153.8" y="256.75" font-family="Liberation Sans, sans-serif" font-size="29.7">S0</text>
<path d="M947.1 313.2H1114.2" stroke="#0000ff" stroke-width="3"/>
<circle cx="1030.8" cy="346.65" r="9.1" fill="#fff" stroke="#000" stroke-width="2.8"/>
<text x="1153.8" y="323.65" font-family="Liberation Sans, sans-serif" font-size="29.7">S3</text>
<path d="M947.1 380.1H1114.2" stroke="#800000" stroke-width="3"/>
<path d="M1019.72 406.96H1041.88L1030.8 426.15Z" fill="#000"/>
<text x="1153.8" y="390.55" font-family="Liberation Sans, sans-serif" font-size="29.7">S7</text>
<path d="M947.1 447H1114.2" stroke="#000000" stroke-width="3"/>
<path d="M1022.5 484.85H1039.1L1030.8 471.1Z" fill="#fff" stroke="#000" stroke-width="3.0" stroke-linejoin="miter"/>
<text x="1153.8" y="457.45" font-family="Liberation Sans, sans-serif" font-size="29.7">S11</text>
<path d="M947.1 513.9H1110" stroke="#ff0000" stroke-width="3" stroke-dasharray="41 13.2"/>
<rect x="1021.6" y="538.05" width="18.4" height="18.6" fill="#000"/>
<text x="1153.8" y="524.35" font-family="Liberation Sans, sans-serif" font-size="29.7">W4</text>
<text x="834.4" y="944.2" font-family="Liberation Sans, sans-serif" font-size="36.5" text-anchor="middle" >Glyphosate dose (ae/ha)</text>
<text transform="translate(178.2 443.5) rotate(-90)" font-family="Liberation Sans, sans-serif" font-size="36.3" text-anchor="middle">Survival (%)</text>
<text x="38.4" y="960.5" font-family="Liberation Serif, serif" font-size="87" textLength="99" lengthAdjust="spacingAndGlyphs">(a)</text>
</g>
<g id="panel_b">
<rect x="307.6" y="1047.4" width="1071.8" height="748.7" fill="none" stroke="#000" stroke-width="3.0"/>
<path d="M307.6 1796.1V1808.6M482.88 1796.1V1808.6M658.17 1796.1V1808.6M833.46 1796.1V1808.6M1008.74 1796.1V1808.6M1184.03 1796.1V1808.6M1359.31 1796.1V1808.6M307.6 1796.1H295.1M307.6 1671.32H295.1M307.6 1546.53H295.1M307.6 1421.75H295.1M307.6 1296.97H295.1M307.6 1172.18H295.1M307.6 1047.4H295.1" stroke="#000" stroke-width="3.0" fill="none"/>
<g font-family="Liberation Sans, sans-serif" font-size="30" fill="#000">
<text x="307.6" y="1847.46" text-anchor="middle">0</text>
<text x="482.88" y="1847.46" text-anchor="middle">500</text>
<text x="658.17" y="1847.46" text-anchor="middle">1000</text>
<text x="833.46" y="1847.46" text-anchor="middle">1500</text>
<text x="1008.74" y="1847.46" text-anchor="middle">2000</text>
<text x="1184.03" y="1847.46" text-anchor="middle">2500</text>
<text x="1359.31" y="1847.46" text-anchor="middle">3000</text>
<text x="283.2" y="1805.46" text-anchor="end">0</text>
<text x="283.2" y="1680.68" text-anchor="end">20</text>
<text x="283.2" y="1555.89" text-anchor="end">40</text>
<text x="283.2" y="1431.11" text-anchor="end">60</text>
<text x="283.2" y="1306.33" text-anchor="end">80</text>
<text x="283.2" y="1181.54" text-anchor="end">100</text>
<text x="283.2" y="1056.76" text-anchor="end">120</text>
</g>
<path d="M373.33 1172.18V1187.16M361.03 1172.18H385.63M361.03 1187.16H385.63M570.53 1293.22V1364.35M558.23 1293.22H582.83M558.23 1364.35H582.83M833.46 1392.43V1507.23M821.16 1392.43H845.75M821.16 1507.23H845.75M1359.31 1560.26V1616.41M1347.01 1560.26H1371.61M1347.01 1616.41H1371.61" stroke="#000" stroke-width="3.0" fill="none"/>
<circle cx="307.6" cy="1172.18" r="10.45" fill="#000"/>
<circle cx="373.33" cy="1179.67" r="10.45" fill="#000"/>
<circle cx="439.06" cy="1204.63" r="10.45" fill="#000"/>
<circle cx="570.53" cy="1328.16" r="10.45" fill="#000"/>
<circle cx="833.46" cy="1449.83" r="10.45" fill="#000"/>
<circle cx="1359.31" cy="1588.34" r="10.45" fill="#000"/>
<path d="M570.53 1268.89V1387.43M558.23 1268.89H582.83M558.23 1387.43H582.83M833.46 1357.49V1472.29M821.16 1357.49H845.75M821.16 1472.29H845.75M1359.31 1648.23V1669.44M1347.01 1648.23H1371.61M1347.01 1669.44H1371.61" stroke="#000" stroke-width="3.0" fill="none"/>
<circle cx="307.6" cy="1172.18" r="9.1" fill="#fff" stroke="#000" stroke-width="2.8"/>
<circle cx="373.33" cy="1172.18" r="9.1" fill="#fff" stroke="#000" stroke-width="2.8"/>
<circle cx="439.06" cy="1172.18" r="9.1" fill="#fff" stroke="#000" stroke-width="2.8"/>
<circle cx="570.53" cy="1328.16" r="9.1" fill="#fff" stroke="#000" stroke-width="2.8"/>
<circle cx="833.46" cy="1415.51" r="9.1" fill="#fff" stroke="#000" stroke-width="2.8"/>
<circle cx="1359.31" cy="1658.84" r="9.1" fill="#fff" stroke="#000" stroke-width="2.8"/>
<path d="M373.33 1183.41V1229.58M361.03 1183.41H385.63M361.03 1229.58H385.63M439.06 1172.18V1230.83M426.76 1172.18H451.36M426.76 1230.83H451.36M570.53 1184.66V1232.08M558.23 1184.66H582.83M558.23 1232.08H582.83M1359.31 1666.33V1778.63M1347.01 1666.33H1371.61M1347.01 1778.63H1371.61" stroke="#000" stroke-width="3.0" fill="none"/>
<path d="M297.05 1165.88H318.15L307.6 1184.18Z" fill="#000"/>
<path d="M362.78 1200.2H383.88L373.33 1218.5Z" fill="#000"/>
<path d="M428.51 1195.21H449.61L439.06 1213.51Z" fill="#000"/>
<path d="M559.98 1202.07H581.08L570.53 1220.37Z" fill="#000"/>
<path d="M822.91 1391.12H844L833.46 1409.42Z" fill="#000"/>
<path d="M1348.76 1716.18H1369.86L1359.31 1734.48Z" fill="#000"/>
<path d="M439.06 1197.76V1247.68M426.76 1197.76H451.36M426.76 1247.68H451.36M570.53 1189.65V1260.78M558.23 1189.65H582.83M558.23 1260.78H582.83M833.46 1397.42V1501.61M821.16 1501.61H845.75M1359.31 1605.18V1633.88M1347.01 1605.18H1371.61M1347.01 1633.88H1371.61" stroke="#000" stroke-width="3.0" fill="none"/>
<path d="M299.7 1178.48H315.5L307.6 1165.38Z" fill="#fff" stroke="#000" stroke-width="3.0" stroke-linejoin="miter"/>
<path d="M365.43 1195.95H381.23L373.33 1182.85Z" fill="#fff" stroke="#000" stroke-width="3.0" stroke-linejoin="miter"/>
<path d="M431.16 1229.02H446.96L439.06 1215.92Z" fill="#fff" stroke="#000" stroke-width="3.0" stroke-linejoin="miter"/>
<path d="M562.63 1230.89H578.43L570.53 1217.79Z" fill="#fff" stroke="#000" stroke-width="3.0" stroke-linejoin="miter"/>
<path d="M825.56 1403.72H841.36L833.46 1390.62Z" fill="#fff" stroke="#000" stroke-width="3.0" stroke-linejoin="miter"/>
<path d="M1351.41 1625.83H1367.21L1359.31 1612.73Z" fill="#fff" stroke="#000" stroke-width="3.0" stroke-linejoin="miter"/>
<path d="M373.33 1184.66V1202.13M361.03 1184.66H385.63M361.03 1202.13H385.63M439.06 1184.66V1209.62M426.76 1184.66H451.36M426.76 1209.62H451.36M570.53 1184.66V1230.21M558.23 1184.66H582.83M558.23 1230.21H582.83M833.46 1325.04V1471.04M821.16 1325.04H845.75M821.16 1471.04H845.75M1359.31 1676.31V1707.5M1347.01 1676.31H1371.61M1347.01 1707.5H1371.61" stroke="#000" stroke-width="3.0" fill="none"/>
<rect x="298.4" y="1162.88" width="18.4" height="18.6" fill="#000"/>
<rect x="364.13" y="1184.1" width="18.4" height="18.6" fill="#000"/>
<rect x="429.86" y="1189.09" width="18.4" height="18.6" fill="#000"/>
<rect x="561.33" y="1198.13" width="18.4" height="18.6" fill="#000"/>
<rect x="824.25" y="1388.12" width="18.4" height="18.6" fill="#000"/>
<rect x="1350.11" y="1682.61" width="18.4" height="18.6" fill="#000"/>
<path d="M307.6 1152.2 308.6 1152.3 308.6 1152.3 309.5 1152.4 309.6 1152.4 310.5 1152.5 310.6 1152.5 311.4 1152.6 311.6 1152.6 312.4 1152.8 312.6 1152.8 312.9 1152.9 313.3 1153.0 313.6 1153.0 314.3 1153.1 314.5 1153.2 315.2 1153.3 315.5 1153.4 316.2 1153.6 316.5 1153.6 317.2 1153.8 317.5 1153.9 318.1 1154.0 318.2 1154.0 318.5 1154.1 319.5 1154.4 320.5 1154.6 321.5 1154.9 322.5 1155.2 323.5 1155.5 323.5 1155.5 324.5 1155.8 325.5 1156.1 326.5 1156.4 327.4 1156.7 328.4 1157.0 328.7 1157.1 329.4 1157.4 330.4 1157.7 331.4 1158.1 332.4 1158.4 333.4 1158.8 334.0 1159.0 334.4 1159.1 335.4 1159.5 336.4 1159.9 337.4 1160.3 338.4 1160.7 339.3 1161.0 339.3 1161.1 340.3 1161.5 341.3 1161.9 342.3 1162.3 343.3 1162.7 344.3 1163.1 344.6 1163.2 345.3 1163.5 346.3 1164.0 347.3 1164.4 348.3 1164.8 349.3 1165.3 349.9 1165.6 350.3 1165.7 351.3 1166.2 352.2 1166.6 353.2 1167.1 354.2 1167.6 355.2 1168.0 355.2 1168.0 356.2 1168.5 357.2 1169.0 358.2 1169.4 359.2 1169.9 360.2 1170.4 360.4 1170.5 361.2 1170.9 362.2 1171.4 363.2 1171.9 364.2 1172.4 365.1 1172.9 365.7 1173.2 366.1 1173.4 367.1 1173.9 368.1 1174.4 369.1 1174.9 370.1 1175.4 371.0 1175.9 371.1 1176.0 372.1 1176.5 373.1 1177.0 374.1 1177.5 375.1 1178.1 376.1 1178.6 376.3 1178.7 377.1 1179.1 378.0 1179.7 379.0 1180.2 380.0 1180.8 381.0 1181.3 381.6 1181.6 382.0 1181.9 383.0 1182.4 384.0 1183.0 385.0 1183.5 386.0 1184.1 386.9 1184.6 387.0 1184.6 388.0 1185.2 389.0 1185.8 390.0 1186.3 390.9 1186.9 391.9 1187.5 392.2 1187.6 392.9 1188.0 393.9 1188.6 394.9 1189.2 395.9 1189.8 396.9 1190.4 397.4 1190.7 397.9 1190.9 398.9 1191.5 399.9 1192.1 400.9 1192.7 401.9 1193.3 402.7 1193.8 402.8 1193.9 403.8 1194.5 404.8 1195.1 405.8 1195.7 406.8 1196.3 407.8 1196.9 408.0 1197.0 408.8 1197.5 409.8 1198.1 410.8 1198.7 411.8 1199.3 412.8 1199.9 413.3 1200.2 413.8 1200.5 414.8 1201.1 415.7 1201.7 416.7 1202.3 417.7 1202.9 418.6 1203.5 418.7 1203.5 419.7 1204.2 420.7 1204.8 421.7 1205.4 422.7 1206.0 423.7 1206.6 423.9 1206.8 424.7 1207.3 425.7 1207.9 426.7 1208.5 427.7 1209.1 428.6 1209.8 429.2 1210.1 429.6 1210.4 430.6 1211.0 431.6 1211.6 432.6 1212.3 433.6 1212.9 434.4 1213.4 434.6 1213.5 435.6 1214.2 436.6 1214.8 437.6 1215.4 438.6 1216.1 439.6 1216.7 439.7 1216.8 440.6 1217.3 441.5 1218.0 442.5 1218.6 443.5 1219.3 444.5 1219.9 445.0 1220.2 445.5 1220.5 446.5 1221.2 447.5 1221.8 448.5 1222.5 449.5 1223.1 450.3 1223.6 450.5 1223.8 451.5 1224.4 452.5 1225.0 453.5 1225.7 454.4 1226.3 455.4 1227.0 455.6 1227.1 456.4 1227.6 457.4 1228.3 458.4 1228.9 459.4 1229.6 460.4 1230.2 460.9 1230.5 461.4 1230.9 462.4 1231.5 463.4 1232.2 464.4 1232.8 465.4 1233.5 466.1 1234.0 471.4 1237.5 476.7 1241.0 482.0 1244.5 487.3 1248.0 492.6 1251.4 497.9 1254.9 503.1 1258.4 508.4 1261.9 513.7 1265.4 519.0 1268.9 524.3 1272.4 529.6 1275.9 534.9 1279.3 540.1 1282.8 545.4 1286.3 550.7 1289.7 556.0 1293.1 561.3 1296.5 566.6 1299.9 571.8 1303.3 577.1 1306.7 582.4 1310.0 587.7 1313.3 593.0 1316.7 598.3 1320.0 603.6 1323.2 608.8 1326.5 614.1 1329.8 619.4 1333.0 624.7 1336.2 630.0 1339.4 635.3 1342.5 640.6 1345.7 645.8 1348.8 651.1 1351.9 656.4 1355.0 661.7 1358.0 667.0 1361.1 672.3 1364.1 677.5 1367.1 682.8 1370.1 688.1 1373.0 693.4 1375.9 698.7 1378.9 704.0 1381.7 709.3 1384.6 714.5 1387.4 719.8 1390.3 725.1 1393.1 730.4 1395.8 735.7 1398.6 741.0 1401.3 746.3 1404.0 751.5 1406.7 756.8 1409.4 762.1 1412.0 767.4 1414.6 772.7 1417.2 778.0 1419.8 783.2 1422.3 788.5 1424.9 793.8 1427.4 799.1 1429.9 804.4 1432.3 809.7 1434.8 815.0 1437.2 820.2 1439.6 825.5 1442.0 830.8 1444.4 836.1 1446.7 841.4 1449.0 846.7 1451.3 852.0 1453.6 857.2 1455.9 862.5 1458.1 867.8 1460.3 873.1 1462.5 878.4 1464.7 883.7 1466.9 888.9 1469.0 894.2 1471.1 899.5 1473.2 904.8 1475.3 910.1 1477.4 915.4 1479.5 920.7 1481.5 925.9 1483.5 931.2 1485.5 936.5 1487.5 941.8 1489.4 947.1 1491.4 952.4 1493.3 957.7 1495.2 962.9 1497.1 968.2 1499.0 973.5 1500.8 978.8 1502.7 984.1 1504.5 989.4 1506.3 994.6 1508.1 999.9 1509.9 1005.2 1511.7 1010.5 1513.4 1015.8 1515.1 1021.1 1516.9 1026.4 1518.6 1031.6 1520.2 1036.9 1521.9 1042.2 1523.6 1047.5 1525.2 1052.8 1526.8 1058.1 1528.5 1063.4 1530.1 1068.6 1531.6 1073.9 1533.2 1079.2 1534.8 1084.5 1536.3 1089.8 1537.9 1095.1 1539.4 1100.3 1540.9 1105.6 1542.4 1110.9 1543.8 1116.2 1545.3 1121.5 1546.8 1126.8 1548.2 1132.1 1549.6 1137.3 1551.1 1142.6 1552.5 1147.9 1553.9 1153.2 1555.2 1158.5 1556.6 1163.8 1558.0 1169.1 1559.3 1174.3 1560.6 1179.6 1562.0 1184.9 1563.3 1190.2 1564.6 1195.5 1565.9 1200.8 1567.1 1206.0 1568.4 1211.3 1569.7 1216.6 1570.9 1221.9 1572.2 1227.2 1573.4 1232.5 1574.6 1237.8 1575.8 1243.0 1577.0 1248.3 1578.2 1253.6 1579.4 1258.9 1580.5 1264.2 1581.7 1269.5 1582.8 1274.8 1584.0 1280.0 1585.1 1285.3 1586.2 1290.6 1587.3 1295.9 1588.4 1301.2 1589.5 1306.5 1590.6 1311.7 1591.7 1317.0 1592.8 1322.3 1593.8 1327.6 1594.9 1332.9 1595.9 1338.2 1596.9 1343.5 1598.0 1348.7 1599.0 1354.0 1600.0 1359.3 1601.0" fill="none" stroke="#ff0000" stroke-width="3.3" stroke-linejoin="round"/>
<path d="M307.6 1164.7 308.6 1164.7 308.6 1164.7 309.5 1164.7 309.6 1164.7 310.5 1164.7 310.6 1164.7 311.4 1164.8 311.6 1164.8 312.4 1164.8 312.6 1164.8 312.9 1164.8 313.3 1164.8 313.6 1164.8 314.3 1164.9 314.5 1164.9 315.2 1164.9 315.5 1164.9 316.2 1164.9 316.5 1165.0 317.2 1165.0 317.5 1165.0 318.1 1165.1 318.2 1165.1 318.5 1165.1 319.5 1165.2 320.5 1165.2 321.5 1165.3 322.5 1165.4 323.5 1165.5 323.5 1165.5 324.5 1165.6 325.5 1165.7 326.5 1165.8 327.4 1165.9 328.4 1166.0 328.7 1166.0 329.4 1166.1 330.4 1166.2 331.4 1166.3 332.4 1166.5 333.4 1166.6 334.0 1166.7 334.4 1166.8 335.4 1166.9 336.4 1167.0 337.4 1167.2 338.4 1167.4 339.3 1167.5 339.3 1167.5 340.3 1167.7 341.3 1167.8 342.3 1168.0 343.3 1168.2 344.3 1168.4 344.6 1168.4 345.3 1168.6 346.3 1168.8 347.3 1169.0 348.3 1169.1 349.3 1169.4 349.9 1169.5 350.3 1169.6 351.3 1169.8 352.2 1170.0 353.2 1170.2 354.2 1170.4 355.2 1170.6 355.2 1170.6 356.2 1170.9 357.2 1171.1 358.2 1171.4 359.2 1171.6 360.2 1171.8 360.4 1171.9 361.2 1172.1 362.2 1172.3 363.2 1172.6 364.2 1172.9 365.1 1173.1 365.7 1173.3 366.1 1173.4 367.1 1173.7 368.1 1173.9 369.1 1174.2 370.1 1174.5 371.0 1174.8 371.1 1174.8 372.1 1175.1 373.1 1175.4 374.1 1175.7 375.1 1176.0 376.1 1176.3 376.3 1176.4 377.1 1176.6 378.0 1176.9 379.0 1177.2 380.0 1177.5 381.0 1177.8 381.6 1178.0 382.0 1178.2 383.0 1178.5 384.0 1178.8 385.0 1179.2 386.0 1179.5 386.9 1179.8 387.0 1179.8 388.0 1180.2 389.0 1180.5 390.0 1180.9 390.9 1181.2 391.9 1181.6 392.2 1181.7 392.9 1182.0 393.9 1182.3 394.9 1182.7 395.9 1183.1 396.9 1183.4 397.4 1183.7 397.9 1183.8 398.9 1184.2 399.9 1184.6 400.9 1185.0 401.9 1185.4 402.7 1185.7 402.8 1185.8 403.8 1186.2 404.8 1186.5 405.8 1187.0 406.8 1187.4 407.8 1187.8 408.0 1187.8 408.8 1188.2 409.8 1188.6 410.8 1189.0 411.8 1189.4 412.8 1189.8 413.3 1190.1 413.8 1190.3 414.8 1190.7 415.7 1191.1 416.7 1191.6 417.7 1192.0 418.6 1192.4 418.7 1192.4 419.7 1192.9 420.7 1193.3 421.7 1193.8 422.7 1194.2 423.7 1194.7 423.9 1194.8 424.7 1195.1 425.7 1195.6 426.7 1196.0 427.7 1196.5 428.6 1197.0 429.2 1197.2 429.6 1197.4 430.6 1197.9 431.6 1198.4 432.6 1198.9 433.6 1199.3 434.4 1199.7 434.6 1199.8 435.6 1200.3 436.6 1200.8 437.6 1201.3 438.6 1201.8 439.6 1202.2 439.7 1202.3 440.6 1202.7 441.5 1203.2 442.5 1203.7 443.5 1204.2 444.5 1204.7 445.0 1205.0 445.5 1205.2 446.5 1205.8 447.5 1206.3 448.5 1206.8 449.5 1207.3 450.3 1207.7 450.5 1207.8 451.5 1208.3 452.5 1208.9 453.5 1209.4 454.4 1209.9 455.4 1210.4 455.6 1210.5 456.4 1211.0 457.4 1211.5 458.4 1212.0 459.4 1212.6 460.4 1213.1 460.9 1213.4 461.4 1213.6 462.4 1214.2 463.4 1214.7 464.4 1215.3 465.4 1215.8 466.1 1216.3 471.4 1219.2 476.7 1222.2 482.0 1225.3 487.3 1228.4 492.6 1231.6 497.9 1234.7 503.1 1238.0 508.4 1241.3 513.7 1244.6 519.0 1247.9 524.3 1251.3 529.6 1254.7 534.9 1258.1 540.1 1261.5 545.4 1265.0 550.7 1268.5 556.0 1272.0 561.3 1275.6 566.6 1279.1 571.8 1282.7 577.1 1286.2 582.4 1289.8 587.7 1293.4 593.0 1297.0 598.3 1300.6 603.6 1304.2 608.8 1307.8 614.1 1311.4 619.4 1315.0 624.7 1318.6 630.0 1322.2 635.3 1325.8 640.6 1329.4 645.8 1333.0 651.1 1336.6 656.4 1340.2 661.7 1343.7 667.0 1347.3 672.3 1350.8 677.5 1354.3 682.8 1357.9 688.1 1361.4 693.4 1364.8 698.7 1368.3 704.0 1371.8 709.3 1375.2 714.5 1378.6 719.8 1382.0 725.1 1385.4 730.4 1388.8 735.7 1392.1 741.0 1395.5 746.3 1398.8 751.5 1402.1 756.8 1405.3 762.1 1408.6 767.4 1411.8 772.7 1415.0 778.0 1418.2 783.2 1421.3 788.5 1424.5 793.8 1427.6 799.1 1430.7 804.4 1433.7 809.7 1436.8 815.0 1439.8 820.2 1442.8 825.5 1445.7 830.8 1448.7 836.1 1451.6 841.4 1454.5 846.7 1457.4 852.0 1460.2 857.2 1463.0 862.5 1465.8 867.8 1468.6 873.1 1471.4 878.4 1474.1 883.7 1476.8 888.9 1479.5 894.2 1482.1 899.5 1484.8 904.8 1487.4 910.1 1490.0 915.4 1492.5 920.7 1495.0 925.9 1497.6 931.2 1500.0 936.5 1502.5 941.8 1504.9 947.1 1507.4 952.4 1509.8 957.7 1512.1 962.9 1514.5 968.2 1516.8 973.5 1519.1 978.8 1521.4 984.1 1523.7 989.4 1525.9 994.6 1528.1 999.9 1530.3 1005.2 1532.5 1010.5 1534.6 1015.8 1536.8 1021.1 1538.9 1026.4 1540.9 1031.6 1543.0 1036.9 1545.1 1042.2 1547.1 1047.5 1549.1 1052.8 1551.1 1058.1 1553.0 1063.4 1555.0 1068.6 1556.9 1073.9 1558.8 1079.2 1560.7 1084.5 1562.6 1089.8 1564.4 1095.1 1566.3 1100.3 1568.1 1105.6 1569.9 1110.9 1571.7 1116.2 1573.4 1121.5 1575.2 1126.8 1576.9 1132.1 1578.6 1137.3 1580.3 1142.6 1581.9 1147.9 1583.6 1153.2 1585.2 1158.5 1586.9 1163.8 1588.5 1169.1 1590.1 1174.3 1591.6 1179.6 1593.2 1184.9 1594.7 1190.2 1596.3 1195.5 1597.8 1200.8 1599.3 1206.0 1600.8 1211.3 1602.2 1216.6 1603.7 1221.9 1605.1 1227.2 1606.5 1232.5 1607.9 1237.8 1609.3 1243.0 1610.7 1248.3 1612.1 1253.6 1613.4 1258.9 1614.8 1264.2 1616.1 1269.5 1617.4 1274.8 1618.7 1280.0 1620.0 1285.3 1621.3 1290.6 1622.6 1295.9 1623.8 1301.2 1625.0 1306.5 1626.3 1311.7 1627.5 1317.0 1628.7 1322.3 1629.9 1327.6 1631.1 1332.9 1632.2 1338.2 1633.4 1343.5 1634.5 1348.7 1635.7 1354.0 1636.8 1359.3 1637.9" fill="none" stroke="#0000ff" stroke-width="3.3" stroke-linejoin="round"/>
<path d="M307.6 1188.9 308.6 1188.9 308.6 1188.9 309.5 1188.9 309.6 1188.9 310.5 1188.9 310.6 1188.9 311.4 1188.9 311.6 1188.9 312.4 1188.9 312.6 1188.9 312.9 1188.9 313.3 1188.9 313.6 1188.9 314.3 1188.9 314.5 1188.9 315.2 1188.9 315.5 1188.9 316.2 1188.9 316.5 1188.9 317.2 1188.9 317.5 1188.9 318.1 1188.9 318.2 1188.9 318.5 1188.9 319.5 1188.9 320.5 1188.9 321.5 1188.9 322.5 1188.9 323.5 1188.9 323.5 1188.9 324.5 1188.9 325.5 1188.9 326.5 1188.9 327.4 1188.9 328.4 1188.9 328.7 1188.9 329.4 1188.9 330.4 1188.9 331.4 1188.9 332.4 1188.9 333.4 1188.9 334.0 1188.9 334.4 1188.9 335.4 1188.9 336.4 1188.9 337.4 1188.9 338.4 1188.9 339.3 1188.9 339.3 1188.9 340.3 1188.9 341.3 1188.9 342.3 1188.9 343.3 1188.9 344.3 1188.9 344.6 1188.9 345.3 1188.9 346.3 1188.9 347.3 1188.9 348.3 1189.0 349.3 1189.0 349.9 1189.0 350.3 1189.0 351.3 1189.0 352.2 1189.0 353.2 1189.0 354.2 1189.0 355.2 1189.0 355.2 1189.0 356.2 1189.0 357.2 1189.0 358.2 1189.0 359.2 1189.0 360.2 1189.0 360.4 1189.0 361.2 1189.0 362.2 1189.0 363.2 1189.0 364.2 1189.1 365.1 1189.1 365.7 1189.1 366.1 1189.1 367.1 1189.1 368.1 1189.1 369.1 1189.1 370.1 1189.1 371.0 1189.1 371.1 1189.1 372.1 1189.1 373.1 1189.2 374.1 1189.2 375.1 1189.2 376.1 1189.2 376.3 1189.2 377.1 1189.2 378.0 1189.2 379.0 1189.3 380.0 1189.3 381.0 1189.3 381.6 1189.3 382.0 1189.3 383.0 1189.3 384.0 1189.3 385.0 1189.4 386.0 1189.4 386.9 1189.4 387.0 1189.4 388.0 1189.4 389.0 1189.5 390.0 1189.5 390.9 1189.5 391.9 1189.5 392.2 1189.5 392.9 1189.6 393.9 1189.6 394.9 1189.6 395.9 1189.6 396.9 1189.7 397.4 1189.7 397.9 1189.7 398.9 1189.7 399.9 1189.8 400.9 1189.8 401.9 1189.8 402.7 1189.9 402.8 1189.9 403.8 1189.9 404.8 1190.0 405.8 1190.0 406.8 1190.0 407.8 1190.1 408.0 1190.1 408.8 1190.1 409.8 1190.2 410.8 1190.2 411.8 1190.3 412.8 1190.3 413.3 1190.3 413.8 1190.3 414.8 1190.4 415.7 1190.4 416.7 1190.5 417.7 1190.5 418.6 1190.6 418.7 1190.6 419.7 1190.7 420.7 1190.7 421.7 1190.8 422.7 1190.8 423.7 1190.9 423.9 1190.9 424.7 1190.9 425.7 1191.0 426.7 1191.1 427.7 1191.1 428.6 1191.2 429.2 1191.2 429.6 1191.3 430.6 1191.3 431.6 1191.4 432.6 1191.5 433.6 1191.6 434.4 1191.6 434.6 1191.6 435.6 1191.7 436.6 1191.8 437.6 1191.9 438.6 1192.0 439.6 1192.0 439.7 1192.0 440.6 1192.1 441.5 1192.2 442.5 1192.3 443.5 1192.4 444.5 1192.5 445.0 1192.5 445.5 1192.6 446.5 1192.7 447.5 1192.8 448.5 1192.9 449.5 1193.0 450.3 1193.0 450.5 1193.1 451.5 1193.2 452.5 1193.3 453.5 1193.4 454.4 1193.5 455.4 1193.6 455.6 1193.6 456.4 1193.7 457.4 1193.8 458.4 1193.9 459.4 1194.1 460.4 1194.2 460.9 1194.2 461.4 1194.3 462.4 1194.4 463.4 1194.6 464.4 1194.7 465.4 1194.8 466.1 1194.9 471.4 1195.7 476.7 1196.5 482.0 1197.3 487.3 1198.3 492.6 1199.3 497.9 1200.4 503.1 1201.5 508.4 1202.8 513.7 1204.1 519.0 1205.5 524.3 1207.0 529.6 1208.5 534.9 1210.2 540.1 1212.0 545.4 1213.8 550.7 1215.8 556.0 1217.8 561.3 1220.0 566.6 1222.2 571.8 1224.6 577.1 1227.1 582.4 1229.6 587.7 1232.3 593.0 1235.1 598.3 1238.0 603.6 1240.9 608.8 1244.0 614.1 1247.2 619.4 1250.6 624.7 1254.0 630.0 1257.5 635.3 1261.1 640.6 1264.9 645.8 1268.7 651.1 1272.6 656.4 1276.6 661.7 1280.8 667.0 1285.0 672.3 1289.3 677.5 1293.7 682.8 1298.2 688.1 1302.7 693.4 1307.4 698.7 1312.1 704.0 1316.9 709.3 1321.8 714.5 1326.7 719.8 1331.7 725.1 1336.7 730.4 1341.8 735.7 1347.0 741.0 1352.2 746.3 1357.4 751.5 1362.7 756.8 1368.0 762.1 1373.3 767.4 1378.7 772.7 1384.1 778.0 1389.5 783.2 1394.9 788.5 1400.3 793.8 1405.7 799.1 1411.2 804.4 1416.6 809.7 1422.0 815.0 1427.4 820.2 1432.8 825.5 1438.2 830.8 1443.6 836.1 1448.9 841.4 1454.2 846.7 1459.5 852.0 1464.8 857.2 1470.0 862.5 1475.2 867.8 1480.3 873.1 1485.4 878.4 1490.5 883.7 1495.5 888.9 1500.5 894.2 1505.4 899.5 1510.2 904.8 1515.1 910.1 1519.8 915.4 1524.5 920.7 1529.2 925.9 1533.8 931.2 1538.3 936.5 1542.8 941.8 1547.2 947.1 1551.6 952.4 1555.9 957.7 1560.1 962.9 1564.3 968.2 1568.4 973.5 1572.4 978.8 1576.4 984.1 1580.3 989.4 1584.2 994.6 1588.0 999.9 1591.7 1005.2 1595.4 1010.5 1599.0 1015.8 1602.6 1021.1 1606.1 1026.4 1609.5 1031.6 1612.9 1036.9 1616.2 1042.2 1619.5 1047.5 1622.7 1052.8 1625.8 1058.1 1628.9 1063.4 1631.9 1068.6 1634.9 1073.9 1637.8 1079.2 1640.7 1084.5 1643.5 1089.8 1646.3 1095.1 1649.0 1100.3 1651.6 1105.6 1654.2 1110.9 1656.8 1116.2 1659.3 1121.5 1661.8 1126.8 1664.2 1132.1 1666.5 1137.3 1668.8 1142.6 1671.1 1147.9 1673.4 1153.2 1675.5 1158.5 1677.7 1163.8 1679.8 1169.1 1681.8 1174.3 1683.9 1179.6 1685.8 1184.9 1687.8 1190.2 1689.7 1195.5 1691.5 1200.8 1693.4 1206.0 1695.2 1211.3 1696.9 1216.6 1698.6 1221.9 1700.3 1227.2 1702.0 1232.5 1703.6 1237.8 1705.2 1243.0 1706.8 1248.3 1708.3 1253.6 1709.8 1258.9 1711.3 1264.2 1712.7 1269.5 1714.1 1274.8 1715.5 1280.0 1716.8 1285.3 1718.2 1290.6 1719.5 1295.9 1720.8 1301.2 1722.0 1306.5 1723.2 1311.7 1724.4 1317.0 1725.6 1322.3 1726.8 1327.6 1727.9 1332.9 1729.0 1338.2 1730.1 1343.5 1731.2 1348.7 1732.2 1354.0 1733.3 1359.3 1734.3" fill="none" stroke="#800000" stroke-width="3.5" stroke-linejoin="round"/>
<path d="M307.6 1174.3 308.6 1174.3 308.6 1174.3 309.5 1174.3 309.6 1174.3 310.5 1174.3 310.6 1174.3 311.4 1174.3 311.6 1174.3 312.4 1174.3 312.6 1174.3 312.9 1174.3 313.3 1174.3 313.6 1174.3 314.3 1174.4 314.5 1174.4 315.2 1174.4 315.5 1174.4 316.2 1174.4 316.5 1174.4 317.2 1174.4 317.5 1174.4 318.1 1174.4 318.2 1174.4 318.5 1174.4 319.5 1174.5 320.5 1174.5 321.5 1174.5 322.5 1174.6 323.5 1174.6 323.5 1174.6 324.5 1174.7 325.5 1174.7 326.5 1174.7 327.4 1174.8 328.4 1174.8 328.7 1174.9 329.4 1174.9 330.4 1175.0 331.4 1175.0 332.4 1175.1 333.4 1175.1 334.0 1175.2 334.4 1175.2 335.4 1175.3 336.4 1175.3 337.4 1175.4 338.4 1175.5 339.3 1175.6 339.3 1175.6 340.3 1175.7 341.3 1175.8 342.3 1175.8 343.3 1175.9 344.3 1176.0 344.6 1176.1 345.3 1176.1 346.3 1176.2 347.3 1176.3 348.3 1176.4 349.3 1176.5 349.9 1176.6 350.3 1176.7 351.3 1176.8 352.2 1176.9 353.2 1177.0 354.2 1177.1 355.2 1177.2 355.2 1177.2 356.2 1177.4 357.2 1177.5 358.2 1177.6 359.2 1177.8 360.2 1177.9 360.4 1178.0 361.2 1178.1 362.2 1178.2 363.2 1178.3 364.2 1178.5 365.1 1178.6 365.7 1178.7 366.1 1178.8 367.1 1179.0 368.1 1179.1 369.1 1179.3 370.1 1179.5 371.0 1179.6 371.1 1179.6 372.1 1179.8 373.1 1180.0 374.1 1180.1 375.1 1180.3 376.1 1180.5 376.3 1180.6 377.1 1180.7 378.0 1180.9 379.0 1181.1 380.0 1181.3 381.0 1181.5 381.6 1181.6 382.0 1181.7 383.0 1181.9 384.0 1182.1 385.0 1182.3 386.0 1182.5 386.9 1182.7 387.0 1182.7 388.0 1182.9 389.0 1183.1 390.0 1183.3 390.9 1183.6 391.9 1183.8 392.2 1183.8 392.9 1184.0 393.9 1184.3 394.9 1184.5 395.9 1184.7 396.9 1185.0 397.4 1185.1 397.9 1185.2 398.9 1185.5 399.9 1185.7 400.9 1186.0 401.9 1186.2 402.7 1186.4 402.8 1186.5 403.8 1186.7 404.8 1187.0 405.8 1187.2 406.8 1187.5 407.8 1187.8 408.0 1187.8 408.8 1188.0 409.8 1188.3 410.8 1188.6 411.8 1188.9 412.8 1189.2 413.3 1189.3 413.8 1189.4 414.8 1189.7 415.7 1190.0 416.7 1190.3 417.7 1190.6 418.6 1190.9 418.7 1190.9 419.7 1191.2 420.7 1191.5 421.7 1191.8 422.7 1192.1 423.7 1192.4 423.9 1192.5 424.7 1192.7 425.7 1193.1 426.7 1193.4 427.7 1193.7 428.6 1194.0 429.2 1194.2 429.6 1194.3 430.6 1194.7 431.6 1195.0 432.6 1195.3 433.6 1195.7 434.4 1195.9 434.6 1196.0 435.6 1196.3 436.6 1196.7 437.6 1197.0 438.6 1197.4 439.6 1197.7 439.7 1197.8 440.6 1198.1 441.5 1198.4 442.5 1198.8 443.5 1199.1 444.5 1199.5 445.0 1199.7 445.5 1199.9 446.5 1200.2 447.5 1200.6 448.5 1201.0 449.5 1201.3 450.3 1201.6 450.5 1201.7 451.5 1202.1 452.5 1202.5 453.5 1202.9 454.4 1203.2 455.4 1203.6 455.6 1203.7 456.4 1204.0 457.4 1204.4 458.4 1204.8 459.4 1205.2 460.4 1205.6 460.9 1205.8 461.4 1206.0 462.4 1206.4 463.4 1206.8 464.4 1207.2 465.4 1207.6 466.1 1207.9 471.4 1210.2 476.7 1212.4 482.0 1214.8 487.3 1217.2 492.6 1219.6 497.9 1222.2 503.1 1224.7 508.4 1227.3 513.7 1230.0 519.0 1232.7 524.3 1235.5 529.6 1238.3 534.9 1241.1 540.1 1244.0 545.4 1246.9 550.7 1249.9 556.0 1252.9 561.3 1255.9 566.6 1259.0 571.8 1262.1 577.1 1265.2 582.4 1268.4 587.7 1271.6 593.0 1274.8 598.3 1278.0 603.6 1281.3 608.8 1284.6 614.1 1287.9 619.4 1291.2 624.7 1294.5 630.0 1297.9 635.3 1301.3 640.6 1304.6 645.8 1308.0 651.1 1311.4 656.4 1314.8 661.7 1318.2 667.0 1321.6 672.3 1325.1 677.5 1328.5 682.8 1331.9 688.1 1335.3 693.4 1338.8 698.7 1342.2 704.0 1345.6 709.3 1349.0 714.5 1352.4 719.8 1355.9 725.1 1359.3 730.4 1362.7 735.7 1366.0 741.0 1369.4 746.3 1372.8 751.5 1376.2 756.8 1379.5 762.1 1382.8 767.4 1386.2 772.7 1389.5 778.0 1392.8 783.2 1396.1 788.5 1399.3 793.8 1402.6 799.1 1405.8 804.4 1409.1 809.7 1412.3 815.0 1415.4 820.2 1418.6 825.5 1421.8 830.8 1424.9 836.1 1428.0 841.4 1431.1 846.7 1434.2 852.0 1437.2 857.2 1440.3 862.5 1443.3 867.8 1446.3 873.1 1449.3 878.4 1452.2 883.7 1455.2 888.9 1458.1 894.2 1460.9 899.5 1463.8 904.8 1466.7 910.1 1469.5 915.4 1472.3 920.7 1475.1 925.9 1477.8 931.2 1480.6 936.5 1483.3 941.8 1486.0 947.1 1488.6 952.4 1491.3 957.7 1493.9 962.9 1496.5 968.2 1499.1 973.5 1501.6 978.8 1504.2 984.1 1506.7 989.4 1509.2 994.6 1511.6 999.9 1514.1 1005.2 1516.5 1010.5 1518.9 1015.8 1521.3 1021.1 1523.6 1026.4 1525.9 1031.6 1528.3 1036.9 1530.6 1042.2 1532.8 1047.5 1535.1 1052.8 1537.3 1058.1 1539.5 1063.4 1541.7 1068.6 1543.8 1073.9 1546.0 1079.2 1548.1 1084.5 1550.2 1089.8 1552.3 1095.1 1554.4 1100.3 1556.4 1105.6 1558.4 1110.9 1560.4 1116.2 1562.4 1121.5 1564.4 1126.8 1566.3 1132.1 1568.2 1137.3 1570.1 1142.6 1572.0 1147.9 1573.9 1153.2 1575.7 1158.5 1577.6 1163.8 1579.4 1169.1 1581.2 1174.3 1582.9 1179.6 1584.7 1184.9 1586.4 1190.2 1588.2 1195.5 1589.9 1200.8 1591.5 1206.0 1593.2 1211.3 1594.9 1216.6 1596.5 1221.9 1598.1 1227.2 1599.7 1232.5 1601.3 1237.8 1602.9 1243.0 1604.4 1248.3 1606.0 1253.6 1607.5 1258.9 1609.0 1264.2 1610.5 1269.5 1612.0 1274.8 1613.5 1280.0 1614.9 1285.3 1616.4 1290.6 1617.8 1295.9 1619.2 1301.2 1620.6 1306.5 1621.9 1311.7 1623.3 1317.0 1624.7 1322.3 1626.0 1327.6 1627.3 1332.9 1628.6 1338.2 1629.9 1343.5 1631.2 1348.7 1632.5 1354.0 1633.7 1359.3 1635.0" fill="none" stroke="#000000" stroke-width="3.3" stroke-linejoin="round"/>
<path d="M307.6 1183.5 308.6 1183.5 308.6 1183.5 309.5 1183.5 309.6 1183.5 310.5 1183.5 310.6 1183.5 311.4 1183.5 311.6 1183.5 312.4 1183.5 312.6 1183.5 312.9 1183.5 313.3 1183.5 313.6 1183.5 314.3 1183.5 314.5 1183.5 315.2 1183.5 315.5 1183.5 316.2 1183.5 316.5 1183.5 317.2 1183.5 317.5 1183.5 318.1 1183.5 318.2 1183.5 318.5 1183.5 319.5 1183.5 320.5 1183.5 321.5 1183.5 322.5 1183.5 323.5 1183.5 323.5 1183.5 324.5 1183.5 325.5 1183.5 326.5 1183.5 327.4 1183.5 328.4 1183.5 328.7 1183.5 329.4 1183.5 330.4 1183.5 331.4 1183.5 332.4 1183.5 333.4 1183.5 334.0 1183.5 334.4 1183.5 335.4 1183.5 336.4 1183.5 337.4 1183.5 338.4 1183.5 339.3 1183.5 339.3 1183.5 340.3 1183.5 341.3 1183.5 342.3 1183.5 343.3 1183.5 344.3 1183.5 344.6 1183.5 345.3 1183.5 346.3 1183.5 347.3 1183.5 348.3 1183.6 349.3 1183.6 349.9 1183.6 350.3 1183.6 351.3 1183.6 352.2 1183.6 353.2 1183.6 354.2 1183.6 355.2 1183.6 355.2 1183.6 356.2 1183.6 357.2 1183.6 358.2 1183.6 359.2 1183.6 360.2 1183.7 360.4 1183.7 361.2 1183.7 362.2 1183.7 363.2 1183.7 364.2 1183.7 365.1 1183.7 365.7 1183.7 366.1 1183.7 367.1 1183.7 368.1 1183.8 369.1 1183.8 370.1 1183.8 371.0 1183.8 371.1 1183.8 372.1 1183.8 373.1 1183.8 374.1 1183.9 375.1 1183.9 376.1 1183.9 376.3 1183.9 377.1 1183.9 378.0 1183.9 379.0 1184.0 380.0 1184.0 381.0 1184.0 381.6 1184.0 382.0 1184.0 383.0 1184.1 384.0 1184.1 385.0 1184.1 386.0 1184.1 386.9 1184.2 387.0 1184.2 388.0 1184.2 389.0 1184.2 390.0 1184.3 390.9 1184.3 391.9 1184.3 392.2 1184.3 392.9 1184.3 393.9 1184.4 394.9 1184.4 395.9 1184.5 396.9 1184.5 397.4 1184.5 397.9 1184.5 398.9 1184.6 399.9 1184.6 400.9 1184.6 401.9 1184.7 402.7 1184.7 402.8 1184.7 403.8 1184.8 404.8 1184.8 405.8 1184.9 406.8 1184.9 407.8 1184.9 408.0 1185.0 408.8 1185.0 409.8 1185.0 410.8 1185.1 411.8 1185.1 412.8 1185.2 413.3 1185.2 413.8 1185.2 414.8 1185.3 415.7 1185.4 416.7 1185.4 417.7 1185.5 418.6 1185.5 418.7 1185.5 419.7 1185.6 420.7 1185.6 421.7 1185.7 422.7 1185.8 423.7 1185.8 423.9 1185.9 424.7 1185.9 425.7 1186.0 426.7 1186.0 427.7 1186.1 428.6 1186.2 429.2 1186.2 429.6 1186.3 430.6 1186.3 431.6 1186.4 432.6 1186.5 433.6 1186.6 434.4 1186.6 434.6 1186.6 435.6 1186.7 436.6 1186.8 437.6 1186.9 438.6 1187.0 439.6 1187.1 439.7 1187.1 440.6 1187.1 441.5 1187.2 442.5 1187.3 443.5 1187.4 444.5 1187.5 445.0 1187.6 445.5 1187.6 446.5 1187.7 447.5 1187.8 448.5 1187.9 449.5 1188.0 450.3 1188.1 450.5 1188.1 451.5 1188.2 452.5 1188.3 453.5 1188.4 454.4 1188.5 455.4 1188.6 455.6 1188.7 456.4 1188.8 457.4 1188.9 458.4 1189.0 459.4 1189.1 460.4 1189.2 460.9 1189.3 461.4 1189.3 462.4 1189.5 463.4 1189.6 464.4 1189.7 465.4 1189.8 466.1 1189.9 471.4 1190.7 476.7 1191.4 482.0 1192.3 487.3 1193.1 492.6 1194.1 497.9 1195.1 503.1 1196.1 508.4 1197.3 513.7 1198.4 519.0 1199.7 524.3 1201.0 529.6 1202.4 534.9 1203.8 540.1 1205.4 545.4 1207.0 550.7 1208.6 556.0 1210.4 561.3 1212.2 566.6 1214.1 571.8 1216.1 577.1 1218.1 582.4 1220.2 587.7 1222.4 593.0 1224.7 598.3 1227.0 603.6 1229.5 608.8 1232.0 614.1 1234.6 619.4 1237.2 624.7 1240.0 630.0 1242.8 635.3 1245.7 640.6 1248.6 645.8 1251.7 651.1 1254.8 656.4 1258.0 661.7 1261.3 667.0 1264.6 672.3 1268.0 677.5 1271.4 682.8 1275.0 688.1 1278.6 693.4 1282.2 698.7 1285.9 704.0 1289.7 709.3 1293.6 714.5 1297.4 719.8 1301.4 725.1 1305.4 730.4 1309.4 735.7 1313.5 741.0 1317.6 746.3 1321.8 751.5 1326.0 756.8 1330.3 762.1 1334.6 767.4 1338.9 772.7 1343.2 778.0 1347.6 783.2 1352.0 788.5 1356.4 793.8 1360.9 799.1 1365.3 804.4 1369.8 809.7 1374.3 815.0 1378.8 820.2 1383.3 825.5 1387.8 830.8 1392.4 836.1 1396.9 841.4 1401.4 846.7 1405.9 852.0 1410.4 857.2 1414.9 862.5 1419.4 867.8 1423.9 873.1 1428.4 878.4 1432.8 883.7 1437.3 888.9 1441.7 894.2 1446.1 899.5 1450.5 904.8 1454.9 910.1 1459.2 915.4 1463.5 920.7 1467.8 925.9 1472.0 931.2 1476.3 936.5 1480.5 941.8 1484.6 947.1 1488.8 952.4 1492.9 957.7 1496.9 962.9 1500.9 968.2 1504.9 973.5 1508.9 978.8 1512.8 984.1 1516.7 989.4 1520.5 994.6 1524.3 999.9 1528.1 1005.2 1531.8 1010.5 1535.5 1015.8 1539.1 1021.1 1542.7 1026.4 1546.3 1031.6 1549.8 1036.9 1553.3 1042.2 1556.7 1047.5 1560.1 1052.8 1563.4 1058.1 1566.7 1063.4 1570.0 1068.6 1573.2 1073.9 1576.4 1079.2 1579.6 1084.5 1582.6 1089.8 1585.7 1095.1 1588.7 1100.3 1591.7 1105.6 1594.6 1110.9 1597.5 1116.2 1600.4 1121.5 1603.2 1126.8 1605.9 1132.1 1608.7 1137.3 1611.4 1142.6 1614.0 1147.9 1616.6 1153.2 1619.2 1158.5 1621.7 1163.8 1624.2 1169.1 1626.7 1174.3 1629.1 1179.6 1631.5 1184.9 1633.9 1190.2 1636.2 1195.5 1638.5 1200.8 1640.7 1206.0 1642.9 1211.3 1645.1 1216.6 1647.3 1221.9 1649.4 1227.2 1651.5 1232.5 1653.5 1237.8 1655.5 1243.0 1657.5 1248.3 1659.5 1253.6 1661.4 1258.9 1663.3 1264.2 1665.1 1269.5 1667.0 1274.8 1668.8 1280.0 1670.6 1285.3 1672.3 1290.6 1674.0 1295.9 1675.7 1301.2 1677.4 1306.5 1679.0 1311.7 1680.6 1317.0 1682.2 1322.3 1683.8 1327.6 1685.3 1332.9 1686.9 1338.2 1688.3 1343.5 1689.8 1348.7 1691.3 1354.0 1692.7 1359.3 1694.1" fill="none" stroke="#ff0000" stroke-width="3.3" stroke-dasharray="41 13.2" stroke-linejoin="round"/>
<text x="1116.3" y="1102.9" font-family="Liberation Sans, sans-serif" font-size="41.5" text-anchor="middle" >Glufosinate</text>
<rect x="993.5" y="1126.4" width="296.1" height="370" fill="#fff" stroke="#000" stroke-width="3.0"/>
<path d="M1013.3 1164.3H1176.9" stroke="#ff0000" stroke-width="3"/>
<circle cx="1095" cy="1196.3" r="10.45" fill="#000"/>
<text x="1214.5" y="1174.75" font-family="Liberation Sans, sans-serif" font-size="29.7">S0</text>
<path d="M1013.3 1229.6H1176.9" stroke="#0000ff" stroke-width="3"/>
<circle cx="1095" cy="1261.8" r="9.1" fill="#fff" stroke="#000" stroke-width="2.8"/>
<text x="1214.5" y="1240.05" font-family="Liberation Sans, sans-serif" font-size="29.7">S3</text>
<path d="M1013.3 1294.9H1176.9" stroke="#800000" stroke-width="4"/>
<path d="M1084.45 1321.9H1105.55L1095 1340.2Z" fill="#000"/>
<text x="1214.5" y="1305.35" font-family="Liberation Sans, sans-serif" font-size="29.7">S7</text>
<path d="M1013.3 1360.2H1176.9" stroke="#000000" stroke-width="3"/>
<path d="M1087.1 1395.2H1102.9L1095 1382.1Z" fill="#fff" stroke="#000" stroke-width="3.0" stroke-linejoin="miter"/>
<text x="1214.5" y="1402.15" font-family="Liberation Sans, sans-serif" font-size="29.7">S11</text>
<path d="M1013.3 1425.5H1161.5" stroke="#ff0000" stroke-width="4" stroke-dasharray="40.5 13.6"/>
<rect x="1085.8" y="1448.7" width="18.4" height="18.6" fill="#000"/>
<text x="1214.5" y="1468.45" font-family="Liberation Sans, sans-serif" font-size="29.7">W4</text>
<text x="842.9" y="1912.3" font-family="Liberation Sans, sans-serif" font-size="35.85" text-anchor="middle" >Glyphosate dose (g ai/ha)</text>
<text transform="translate(199 1422.3) rotate(-90)" font-family="Liberation Sans, sans-serif" font-size="35.8" text-anchor="middle">Survival (%)</text>
<text x="39.5" y="1931.3" font-family="Liberation Serif, serif" font-size="102" textLength="119" lengthAdjust="spacingAndGlyphs">(b)</text>
</g>
<g id="panel_c">
<rect x="305.6" y="2013.3" width="1070.1" height="748.2" fill="none" stroke="#000" stroke-width="3.0"/>
<path d="M305.6 2761.5V2774M515.14 2761.5V2774M724.68 2761.5V2774M934.22 2761.5V2774M1143.76 2761.5V2774M1353.3 2761.5V2774M305.6 2761.5H293.1M305.6 2636.8H293.1M305.6 2512.1H293.1M305.6 2387.4H293.1M305.6 2262.7H293.1M305.6 2138H293.1M305.6 2013.3H293.1" stroke="#000" stroke-width="3.0" fill="none"/>
<g font-family="Liberation Sans, sans-serif" font-size="29.8" fill="#000">
<text x="305.6" y="2813.59" text-anchor="middle">0</text>
<text x="515.14" y="2813.59" text-anchor="middle">500</text>
<text x="724.68" y="2813.59" text-anchor="middle">1000</text>
<text x="934.22" y="2813.59" text-anchor="middle">1500</text>
<text x="1143.76" y="2813.59" text-anchor="middle">2000</text>
<text x="1353.3" y="2813.59" text-anchor="middle">2500</text>
<text x="279.9" y="2771.59" text-anchor="end">0</text>
<text x="279.9" y="2646.89" text-anchor="end">20</text>
<text x="279.9" y="2522.19" text-anchor="end">40</text>
<text x="279.9" y="2397.49" text-anchor="end">60</text>
<text x="279.9" y="2272.79" text-anchor="end">80</text>
<text x="279.9" y="2148.09" text-anchor="end">100</text>
<text x="279.9" y="2023.39" text-anchor="end">120</text>
</g>
<path d="M305.6 2120.54V2155.46M293.3 2120.54H317.9M293.3 2155.46H317.9M337.03 2225.91V2296.37M324.73 2225.91H349.33M324.73 2296.37H349.33M368.46 2396.75V2489.03M356.16 2396.75H380.76M356.16 2489.03H380.76M431.32 2588.79V2658M419.02 2588.79H443.62M419.02 2658H443.62" stroke="#000" stroke-width="3.0" fill="none"/>
<circle cx="305.6" cy="2138" r="10.45" fill="#000"/>
<circle cx="337.03" cy="2241.5" r="10.45" fill="#000"/>
<circle cx="368.46" cy="2449.75" r="10.45" fill="#000"/>
<circle cx="431.32" cy="2623.71" r="10.45" fill="#000"/>
<circle cx="557.05" cy="2761.5" r="10.45" fill="#000"/>
<circle cx="808.5" cy="2761.5" r="10.45" fill="#000"/>
<circle cx="1311.39" cy="2761.5" r="10.45" fill="#000"/>
<path d="M337.03 2328.17V2416.7M324.73 2328.17H349.33M324.73 2416.7H349.33M368.46 2475.31V2553.56M356.16 2475.31H380.76M356.16 2553.56H380.76" stroke="#000" stroke-width="3.0" fill="none"/>
<circle cx="305.6" cy="2138" r="10.45" fill="#000"/>
<circle cx="337.03" cy="2345.63" r="10.45" fill="#000"/>
<circle cx="368.46" cy="2501.81" r="10.45" fill="#000"/>
<path d="M557.05 2727.21V2761.5M544.75 2727.21H569.35M544.75 2761.5H569.35" stroke="#000" stroke-width="3.0" fill="none"/>
<circle cx="431.32" cy="2744.04" r="9.1" fill="#fff" stroke="#000" stroke-width="2.8"/>
<circle cx="557.05" cy="2747.78" r="9.1" fill="#fff" stroke="#000" stroke-width="2.8"/>
<circle cx="808.5" cy="2761.5" r="9.1" fill="#fff" stroke="#000" stroke-width="2.8"/>
<circle cx="1311.39" cy="2761.5" r="9.1" fill="#fff" stroke="#000" stroke-width="2.8"/>
<path d="M337.03 2195.36V2393.01M324.73 2195.36H349.33M324.73 2393.01H349.33M368.46 2413.59V2563.23M356.16 2413.59H380.76M356.16 2563.23H380.76M431.32 2504.62V2568.84M419.02 2504.62H443.62M419.02 2568.84H443.62" stroke="#000" stroke-width="3.0" fill="none"/>
<path d="M295.05 2131.7H316.15L305.6 2150Z" fill="#000"/>
<path d="M326.48 2271.36H347.58L337.03 2289.66Z" fill="#000"/>
<path d="M357.91 2512.03H379.01L368.46 2530.34Z" fill="#000"/>
<path d="M420.77 2530.74H441.87L431.32 2549.04Z" fill="#000"/>
<path d="M546.5 2755.2H567.6L557.05 2773.5Z" fill="#000"/>
<path d="M797.95 2755.2H819.05L808.5 2773.5Z" fill="#000"/>
<path d="M1300.84 2755.2H1321.94L1311.39 2773.5Z" fill="#000"/>
<path d="M337.03 2152.34V2189.75M324.73 2152.34H349.33M324.73 2189.75H349.33M368.46 2271.43V2316.32M356.16 2271.43H380.76M356.16 2316.32H380.76M431.32 2371.19V2494.02M419.02 2371.19H443.62M419.02 2494.02H443.62M557.05 2583.18V2628.07M544.75 2583.18H569.35M544.75 2628.07H569.35M808.5 2728.45V2757.14M796.2 2728.45H820.8M796.2 2757.14H820.8" stroke="#000" stroke-width="3.0" fill="none"/>
<path d="M297.7 2144.3H313.5L305.6 2131.2Z" fill="#fff" stroke="#000" stroke-width="3.0" stroke-linejoin="miter"/>
<path d="M329.13 2177.35H344.93L337.03 2164.25Z" fill="#fff" stroke="#000" stroke-width="3.0" stroke-linejoin="miter"/>
<path d="M360.56 2300.18H376.36L368.46 2287.08Z" fill="#fff" stroke="#000" stroke-width="3.0" stroke-linejoin="miter"/>
<path d="M423.42 2438.59H439.22L431.32 2425.49Z" fill="#fff" stroke="#000" stroke-width="3.0" stroke-linejoin="miter"/>
<path d="M549.15 2611.93H564.95L557.05 2598.83Z" fill="#fff" stroke="#000" stroke-width="3.0" stroke-linejoin="miter"/>
<path d="M800.6 2749.1H816.4L808.5 2736Z" fill="#fff" stroke="#000" stroke-width="3.0" stroke-linejoin="miter"/>
<path d="M1303.49 2767.8H1319.29L1311.39 2754.7Z" fill="#fff" stroke="#000" stroke-width="3.0" stroke-linejoin="miter"/>
<path d="M337.03 2277.66V2300.11M324.73 2300.11H349.33M431.32 2706.01V2743.42M419.02 2706.01H443.62M419.02 2743.42H443.62" stroke="#000" stroke-width="3.0" fill="none"/>
<rect x="296.4" y="2128.7" width="18.4" height="18.6" fill="#000"/>
<rect x="327.83" y="2268.36" width="18.4" height="18.6" fill="#000"/>
<rect x="422.12" y="2715.41" width="18.4" height="18.6" fill="#000"/>
<rect x="547.85" y="2738.48" width="18.4" height="18.6" fill="#000"/>
<rect x="799.3" y="2752.2" width="18.4" height="18.6" fill="#000"/>
<rect x="1302.19" y="2752.2" width="18.4" height="18.6" fill="#000"/>
<path d="M305.6 2130.5 306.5 2130.6 306.5 2130.6 307.4 2130.7 307.5 2130.7 308.3 2131.0 308.4 2131.1 309.3 2131.5 309.4 2131.6 310.2 2132.2 310.3 2132.3 310.7 2132.6 311.1 2133.0 311.3 2133.2 312.0 2134.1 312.2 2134.4 312.9 2135.3 313.2 2135.8 313.8 2136.8 314.1 2137.4 314.7 2138.5 315.1 2139.3 315.7 2140.5 315.7 2140.6 316.0 2141.4 317.0 2143.7 317.9 2146.4 318.9 2149.2 319.8 2152.3 320.8 2155.6 320.8 2155.7 321.7 2159.3 322.7 2163.2 323.6 2167.3 324.6 2171.6 325.5 2176.1 325.8 2177.6 326.5 2180.9 327.4 2185.9 328.4 2191.1 329.3 2196.4 330.3 2202.0 330.9 2205.6 331.2 2207.7 332.2 2213.5 333.1 2219.6 334.1 2225.7 335.0 2232.0 335.9 2238.1 336.0 2238.4 336.9 2244.9 337.9 2251.5 338.8 2258.2 339.8 2265.0 340.7 2271.8 341.0 2273.7 341.7 2278.6 342.6 2285.6 343.6 2292.5 344.5 2299.5 345.5 2306.4 346.0 2310.7 346.4 2313.4 347.3 2320.4 348.3 2327.3 349.2 2334.3 350.2 2341.2 351.1 2347.7 351.1 2348.1 352.1 2354.9 353.0 2361.7 354.0 2368.4 354.9 2375.1 355.9 2381.8 356.1 2383.5 356.8 2388.3 357.8 2394.8 358.7 2401.2 359.7 2407.5 360.6 2413.8 361.2 2417.5 361.6 2420.0 362.5 2426.1 363.5 2432.1 364.4 2438.0 365.4 2443.8 366.3 2449.1 366.3 2449.6 367.3 2455.2 368.2 2460.8 369.2 2466.2 370.1 2471.6 371.1 2476.9 371.3 2478.2 372.0 2482.1 373.0 2487.1 373.9 2492.1 374.9 2497.1 375.8 2501.9 376.4 2504.6 376.8 2506.6 377.7 2511.2 378.7 2515.8 379.6 2520.2 380.6 2524.6 381.4 2528.5 381.5 2528.9 382.5 2533.1 383.4 2537.2 384.4 2541.2 385.3 2545.2 386.3 2549.0 386.5 2549.9 387.2 2552.8 388.2 2556.5 389.1 2560.2 390.0 2563.7 391.0 2567.2 391.5 2569.1 391.9 2570.6 392.9 2574.0 393.8 2577.3 394.8 2580.5 395.7 2583.6 396.6 2586.3 396.7 2586.7 397.6 2589.7 398.6 2592.6 399.5 2595.5 400.5 2598.4 401.4 2601.1 401.6 2601.7 402.4 2603.8 403.3 2606.5 404.3 2609.1 405.2 2611.6 406.2 2614.1 406.7 2615.4 407.1 2616.5 408.1 2618.9 409.0 2621.3 410.0 2623.5 410.9 2625.8 411.7 2627.7 411.9 2628.0 412.8 2630.1 413.8 2632.2 414.7 2634.3 415.7 2636.3 416.6 2638.3 416.8 2638.7 417.6 2640.2 418.5 2642.1 419.5 2644.0 420.4 2645.8 421.4 2647.6 421.8 2648.5 422.3 2649.3 423.3 2651.1 424.2 2652.7 425.2 2654.4 426.1 2656.0 426.9 2657.3 427.1 2657.6 428.0 2659.1 429.0 2660.7 429.9 2662.1 430.8 2663.6 431.8 2665.0 432.0 2665.3 432.7 2666.4 433.7 2667.8 434.6 2669.2 435.6 2670.5 436.5 2671.8 437.0 2672.4 437.5 2673.1 438.4 2674.3 439.4 2675.6 440.3 2676.8 441.3 2677.9 442.1 2678.9 442.2 2679.1 443.2 2680.2 444.1 2681.4 445.1 2682.5 446.0 2683.5 447.0 2684.6 447.1 2684.7 447.9 2685.6 448.9 2686.6 449.8 2687.6 450.8 2688.6 451.7 2689.6 452.2 2690.0 452.7 2690.5 453.6 2691.5 454.6 2692.4 455.5 2693.3 456.5 2694.2 457.2 2694.9 462.3 2699.2 467.3 2703.2 472.4 2706.9 477.4 2710.2 482.5 2713.3 487.6 2716.1 492.6 2718.7 497.7 2721.1 502.7 2723.3 507.8 2725.4 512.8 2727.3 517.9 2729.0 522.9 2730.6 528.0 2732.2 533.0 2733.6 538.1 2734.9 543.1 2736.1 548.2 2737.3 553.3 2738.4 558.3 2739.4 563.4 2740.4 568.4 2741.3 573.5 2742.1 578.5 2742.9 583.6 2743.6 588.6 2744.4 593.7 2745.0 598.7 2745.7 603.8 2746.3 608.9 2746.8 613.9 2747.4 619.0 2747.9 624.0 2748.4 629.1 2748.8 634.1 2749.3 639.2 2749.7 644.2 2750.1 649.3 2750.4 654.3 2750.8 659.4 2751.1 664.5 2751.5 669.5 2751.8 674.6 2752.1 679.6 2752.4 684.7 2752.7 689.7 2752.9 694.8 2753.2 699.8 2753.4 704.9 2753.6 709.9 2753.9 715.0 2754.1 720.0 2754.3 725.1 2754.5 730.2 2754.7 735.2 2754.8 740.3 2755.0 745.3 2755.2 750.4 2755.4 755.4 2755.5 760.5 2755.7 765.5 2755.8 770.6 2756.0 775.6 2756.1 780.7 2756.2 785.8 2756.3 790.8 2756.5 795.9 2756.6 800.9 2756.7 806.0 2756.8 811.0 2756.9 816.1 2757.0 821.1 2757.1 826.2 2757.2 831.2 2757.3 836.3 2757.4 841.3 2757.5 846.4 2757.6 851.5 2757.7 856.5 2757.7 861.6 2757.8 866.6 2757.9 871.7 2758.0 876.7 2758.0 881.8 2758.1 886.8 2758.2 891.9 2758.2 896.9 2758.3 902.0 2758.4 907.1 2758.4 912.1 2758.5 917.2 2758.5 922.2 2758.6 927.3 2758.7 932.3 2758.7 937.4 2758.8 942.4 2758.8 947.5 2758.9 952.5 2758.9 957.6 2758.9 962.7 2759.0 967.7 2759.0 972.8 2759.1 977.8 2759.1 982.9 2759.2 987.9 2759.2 993.0 2759.2 998.0 2759.3 1003.1 2759.3 1008.1 2759.3 1013.2 2759.4 1018.2 2759.4 1023.3 2759.5 1028.4 2759.5 1033.4 2759.5 1038.5 2759.5 1043.5 2759.6 1048.6 2759.6 1053.6 2759.6 1058.7 2759.7 1063.7 2759.7 1068.8 2759.7 1073.8 2759.7 1078.9 2759.8 1084.0 2759.8 1089.0 2759.8 1094.1 2759.9 1099.1 2759.9 1104.2 2759.9 1109.2 2759.9 1114.3 2759.9 1119.3 2760.0 1124.4 2760.0 1129.4 2760.0 1134.5 2760.0 1139.5 2760.1 1144.6 2760.1 1149.7 2760.1 1154.7 2760.1 1159.8 2760.1 1164.8 2760.1 1169.9 2760.2 1174.9 2760.2 1180.0 2760.2 1185.0 2760.2 1190.1 2760.2 1195.1 2760.3 1200.2 2760.3 1205.3 2760.3 1210.3 2760.3 1215.4 2760.3 1220.4 2760.3 1225.5 2760.3 1230.5 2760.4 1235.6 2760.4 1240.6 2760.4 1245.7 2760.4 1250.7 2760.4 1255.8 2760.4 1260.8 2760.4 1265.9 2760.5 1271.0 2760.5 1276.0 2760.5 1281.1 2760.5 1286.1 2760.5 1291.2 2760.5 1296.2 2760.5 1301.3 2760.5 1306.3 2760.5 1311.4 2760.6" fill="none" stroke="#ff0000" stroke-width="3.3" stroke-linejoin="round"/>
<path d="M305.6 2155.6 306.5 2155.7 306.5 2155.7 307.4 2155.9 307.5 2155.9 308.3 2156.3 308.4 2156.3 309.3 2156.8 309.4 2156.9 310.2 2157.6 310.3 2157.8 310.7 2158.1 311.1 2158.6 311.3 2158.9 312.0 2159.9 312.2 2160.3 312.9 2161.4 313.2 2161.9 313.8 2163.2 314.1 2163.9 314.7 2165.2 315.1 2166.1 315.7 2167.5 315.7 2167.7 316.0 2168.6 317.0 2171.4 317.9 2174.4 318.9 2177.8 319.8 2181.4 320.8 2185.3 320.8 2185.4 321.7 2189.6 322.7 2194.0 323.6 2198.7 324.6 2203.7 325.5 2208.9 325.8 2210.5 326.5 2214.3 327.4 2220.0 328.4 2225.8 329.3 2231.8 330.3 2238.1 330.9 2242.1 331.2 2244.4 332.2 2251.0 333.1 2257.6 334.1 2264.4 335.0 2271.3 335.9 2278.0 336.0 2278.3 336.9 2285.3 337.9 2292.4 338.8 2299.6 339.8 2306.9 340.7 2314.1 341.0 2316.2 341.7 2321.4 342.6 2328.7 343.6 2335.9 344.5 2343.2 345.5 2350.5 346.0 2354.9 346.4 2357.7 347.3 2364.9 348.3 2372.0 349.2 2379.1 350.2 2386.1 351.1 2392.6 351.1 2393.0 352.1 2399.9 353.0 2406.7 354.0 2413.4 354.9 2420.0 355.9 2426.6 356.1 2428.3 356.8 2433.0 357.8 2439.4 358.7 2445.6 359.7 2451.8 360.6 2457.8 361.2 2461.4 361.6 2463.8 362.5 2469.6 363.5 2475.4 364.4 2481.0 365.4 2486.5 366.3 2491.5 366.3 2492.0 367.3 2497.3 368.2 2502.5 369.2 2507.6 370.1 2512.6 371.1 2517.5 371.3 2518.7 372.0 2522.3 373.0 2527.0 373.9 2531.6 374.9 2536.1 375.8 2540.5 376.4 2543.0 376.8 2544.8 377.7 2549.1 378.7 2553.2 379.6 2557.2 380.6 2561.2 381.4 2564.6 381.5 2565.0 382.5 2568.8 383.4 2572.5 384.4 2576.1 385.3 2579.6 386.3 2583.1 386.5 2583.8 387.2 2586.4 388.2 2589.7 389.1 2592.9 390.0 2596.1 391.0 2599.1 391.5 2600.8 391.9 2602.1 392.9 2605.1 393.8 2607.9 394.8 2610.7 395.7 2613.5 396.6 2615.8 396.7 2616.1 397.6 2618.8 398.6 2621.3 399.5 2623.8 400.5 2626.3 401.4 2628.6 401.6 2629.1 402.4 2631.0 403.3 2633.3 404.3 2635.5 405.2 2637.7 406.2 2639.8 406.7 2640.9 407.1 2641.9 408.1 2643.9 409.0 2645.9 410.0 2647.9 410.9 2649.8 411.7 2651.4 411.9 2651.6 412.8 2653.5 413.8 2655.2 414.7 2657.0 415.7 2658.7 416.6 2660.4 416.8 2660.7 417.6 2662.0 418.5 2663.6 419.5 2665.2 420.4 2666.7 421.4 2668.2 421.8 2669.0 422.3 2669.7 423.3 2671.1 424.2 2672.5 425.2 2673.9 426.1 2675.3 426.9 2676.4 427.1 2676.6 428.0 2677.9 429.0 2679.2 429.9 2680.4 430.8 2681.6 431.8 2682.8 432.0 2683.0 432.7 2684.0 433.7 2685.1 434.6 2686.3 435.6 2687.4 436.5 2688.5 437.0 2689.0 437.5 2689.5 438.4 2690.6 439.4 2691.6 440.3 2692.6 441.3 2693.5 442.1 2694.3 442.2 2694.5 443.2 2695.4 444.1 2696.4 445.1 2697.3 446.0 2698.2 447.0 2699.0 447.1 2699.2 447.9 2699.9 448.9 2700.7 449.8 2701.6 450.8 2702.4 451.7 2703.2 452.2 2703.5 452.7 2703.9 453.6 2704.7 454.6 2705.5 455.5 2706.2 456.5 2706.9 457.2 2707.5 462.3 2711.1 467.3 2714.4 472.4 2717.3 477.4 2720.1 482.5 2722.6 487.6 2724.9 492.6 2727.0 497.7 2728.9 502.7 2730.7 507.8 2732.4 512.8 2733.9 517.9 2735.3 522.9 2736.6 528.0 2737.9 533.0 2739.0 538.1 2740.1 543.1 2741.1 548.2 2742.0 553.3 2742.9 558.3 2743.7 563.4 2744.5 568.4 2745.2 573.5 2745.9 578.5 2746.5 583.6 2747.1 588.6 2747.7 593.7 2748.2 598.7 2748.7 603.8 2749.2 608.9 2749.7 613.9 2750.1 619.0 2750.5 624.0 2750.9 629.1 2751.3 634.1 2751.6 639.2 2752.0 644.2 2752.3 649.3 2752.6 654.3 2752.9 659.4 2753.2 664.5 2753.4 669.5 2753.7 674.6 2753.9 679.6 2754.1 684.7 2754.4 689.7 2754.6 694.8 2754.8 699.8 2755.0 704.9 2755.2 709.9 2755.3 715.0 2755.5 720.0 2755.7 725.1 2755.8 730.2 2756.0 735.2 2756.1 740.3 2756.3 745.3 2756.4 750.4 2756.5 755.4 2756.7 760.5 2756.8 765.5 2756.9 770.6 2757.0 775.6 2757.1 780.7 2757.2 785.8 2757.3 790.8 2757.4 795.9 2757.5 800.9 2757.6 806.0 2757.7 811.0 2757.8 816.1 2757.9 821.1 2758.0 826.2 2758.0 831.2 2758.1 836.3 2758.2 841.3 2758.3 846.4 2758.3 851.5 2758.4 856.5 2758.5 861.6 2758.5 866.6 2758.6 871.7 2758.6 876.7 2758.7 881.8 2758.8 886.8 2758.8 891.9 2758.9 896.9 2758.9 902.0 2759.0 907.1 2759.0 912.1 2759.1 917.2 2759.1 922.2 2759.1 927.3 2759.2 932.3 2759.2 937.4 2759.3 942.4 2759.3 947.5 2759.4 952.5 2759.4 957.6 2759.4 962.7 2759.5 967.7 2759.5 972.8 2759.5 977.8 2759.6 982.9 2759.6 987.9 2759.6 993.0 2759.7 998.0 2759.7 1003.1 2759.7 1008.1 2759.8 1013.2 2759.8 1018.2 2759.8 1023.3 2759.8 1028.4 2759.9 1033.4 2759.9 1038.5 2759.9 1043.5 2759.9 1048.6 2760.0 1053.6 2760.0 1058.7 2760.0 1063.7 2760.0 1068.8 2760.1 1073.8 2760.1 1078.9 2760.1 1084.0 2760.1 1089.0 2760.1 1094.1 2760.2 1099.1 2760.2 1104.2 2760.2 1109.2 2760.2 1114.3 2760.2 1119.3 2760.3 1124.4 2760.3 1129.4 2760.3 1134.5 2760.3 1139.5 2760.3 1144.6 2760.3 1149.7 2760.4 1154.7 2760.4 1159.8 2760.4 1164.8 2760.4 1169.9 2760.4 1174.9 2760.4 1180.0 2760.4 1185.0 2760.5 1190.1 2760.5 1195.1 2760.5 1200.2 2760.5 1205.3 2760.5 1210.3 2760.5 1215.4 2760.5 1220.4 2760.5 1225.5 2760.6 1230.5 2760.6 1235.6 2760.6 1240.6 2760.6 1245.7 2760.6 1250.7 2760.6 1255.8 2760.6 1260.8 2760.6 1265.9 2760.6 1271.0 2760.7 1276.0 2760.7 1281.1 2760.7 1286.1 2760.7 1291.2 2760.7 1296.2 2760.7 1301.3 2760.7 1306.3 2760.7 1311.4 2760.7" fill="none" stroke="#0000ff" stroke-width="3.3" stroke-linejoin="round"/>
<path d="M305.6 2138.5 306.5 2140.7 306.5 2140.8 307.4 2144.2 307.5 2144.5 308.3 2148.4 308.4 2148.9 309.3 2153.2 309.4 2153.9 310.2 2158.4 310.3 2159.4 310.7 2161.2 311.1 2163.9 311.3 2165.2 312.0 2169.7 312.2 2171.2 312.9 2175.7 313.2 2177.5 313.8 2181.8 314.1 2184.0 314.7 2188.2 315.1 2190.6 315.7 2194.6 315.7 2195.0 316.0 2197.3 317.0 2204.1 317.9 2210.9 318.9 2217.8 319.8 2224.7 320.8 2231.5 320.8 2231.6 321.7 2238.5 322.7 2245.4 323.6 2252.3 324.6 2259.1 325.5 2265.8 325.8 2267.9 326.5 2272.5 327.4 2279.2 328.4 2285.8 329.3 2292.3 330.3 2298.7 330.9 2302.7 331.2 2305.0 332.2 2311.3 333.1 2317.5 334.1 2323.6 335.0 2329.6 335.9 2335.3 336.0 2335.5 336.9 2341.3 337.9 2347.1 338.8 2352.7 339.8 2358.3 340.7 2363.8 341.0 2365.3 341.7 2369.1 342.6 2374.4 343.6 2379.6 344.5 2384.7 345.5 2389.8 346.0 2392.8 346.4 2394.7 347.3 2399.6 348.3 2404.3 349.2 2409.0 350.2 2413.6 351.1 2417.9 351.1 2418.1 352.1 2422.6 353.0 2426.9 354.0 2431.2 354.9 2435.4 355.9 2439.6 356.1 2440.7 356.8 2443.6 357.8 2447.6 358.7 2451.5 359.7 2455.4 360.6 2459.2 361.2 2461.4 361.6 2462.9 362.5 2466.5 363.5 2470.1 364.4 2473.6 365.4 2477.1 366.3 2480.2 366.3 2480.5 367.3 2483.8 368.2 2487.1 369.2 2490.3 370.1 2493.5 371.1 2496.6 371.3 2497.3 372.0 2499.6 373.0 2502.6 373.9 2505.6 374.9 2508.5 375.8 2511.3 376.4 2512.9 376.8 2514.1 377.7 2516.9 378.7 2519.6 379.6 2522.2 380.6 2524.8 381.4 2527.2 381.5 2527.4 382.5 2529.9 383.4 2532.4 384.4 2534.9 385.3 2537.3 386.3 2539.6 386.5 2540.2 387.2 2542.0 388.2 2544.3 389.1 2546.5 390.0 2548.7 391.0 2550.9 391.5 2552.1 391.9 2553.0 392.9 2555.2 393.8 2557.2 394.8 2559.3 395.7 2561.3 396.6 2563.0 396.7 2563.3 397.6 2565.2 398.6 2567.1 399.5 2569.0 400.5 2570.9 401.4 2572.7 401.6 2573.1 402.4 2574.5 403.3 2576.3 404.3 2578.0 405.2 2579.8 406.2 2581.5 406.7 2582.4 407.1 2583.1 408.1 2584.8 409.0 2586.4 410.0 2588.0 410.9 2589.6 411.7 2590.9 411.9 2591.1 412.8 2592.7 413.8 2594.2 414.7 2595.7 415.7 2597.1 416.6 2598.6 416.8 2598.8 417.6 2600.0 418.5 2601.4 419.5 2602.8 420.4 2604.2 421.4 2605.5 421.8 2606.2 422.3 2606.8 423.3 2608.1 424.2 2609.4 425.2 2610.7 426.1 2612.0 426.9 2613.0 427.1 2613.2 428.0 2614.4 429.0 2615.6 429.9 2616.8 430.8 2618.0 431.8 2619.2 432.0 2619.4 432.7 2620.3 433.7 2621.4 434.6 2622.6 435.6 2623.7 436.5 2624.7 437.0 2625.3 437.5 2625.8 438.4 2626.9 439.4 2627.9 440.3 2629.0 441.3 2630.0 442.1 2630.8 442.2 2631.0 443.2 2632.0 444.1 2633.0 445.1 2633.9 446.0 2634.9 447.0 2635.8 447.1 2636.0 447.9 2636.8 448.9 2637.7 449.8 2638.6 450.8 2639.5 451.7 2640.4 452.2 2640.8 452.7 2641.3 453.6 2642.1 454.6 2643.0 455.5 2643.8 456.5 2644.7 457.2 2645.3 462.3 2649.6 467.3 2653.6 472.4 2657.4 477.4 2661.0 482.5 2664.3 487.6 2667.5 492.6 2670.5 497.7 2673.4 502.7 2676.1 507.8 2678.6 512.8 2681.1 517.9 2683.4 522.9 2685.6 528.0 2687.7 533.0 2689.8 538.1 2691.7 543.1 2693.5 548.2 2695.3 553.3 2697.0 558.3 2698.6 563.4 2700.1 568.4 2701.6 573.5 2703.0 578.5 2704.4 583.6 2705.7 588.6 2707.0 593.7 2708.2 598.7 2709.4 603.8 2710.5 608.9 2711.6 613.9 2712.6 619.0 2713.6 624.0 2714.6 629.1 2715.6 634.1 2716.5 639.2 2717.4 644.2 2718.2 649.3 2719.0 654.3 2719.8 659.4 2720.6 664.5 2721.4 669.5 2722.1 674.6 2722.8 679.6 2723.5 684.7 2724.1 689.7 2724.8 694.8 2725.4 699.8 2726.0 704.9 2726.6 709.9 2727.2 715.0 2727.7 720.0 2728.3 725.1 2728.8 730.2 2729.3 735.2 2729.8 740.3 2730.3 745.3 2730.8 750.4 2731.2 755.4 2731.7 760.5 2732.1 765.5 2732.6 770.6 2733.0 775.6 2733.4 780.7 2733.8 785.8 2734.2 790.8 2734.6 795.9 2734.9 800.9 2735.3 806.0 2735.6 811.0 2736.0 816.1 2736.3 821.1 2736.7 826.2 2737.0 831.2 2737.3 836.3 2737.6 841.3 2737.9 846.4 2738.2 851.5 2738.5 856.5 2738.8 861.6 2739.0 866.6 2739.3 871.7 2739.6 876.7 2739.8 881.8 2740.1 886.8 2740.4 891.9 2740.6 896.9 2740.8 902.0 2741.1 907.1 2741.3 912.1 2741.5 917.2 2741.8 922.2 2742.0 927.3 2742.2 932.3 2742.4 937.4 2742.6 942.4 2742.8 947.5 2743.0 952.5 2743.2 957.6 2743.4 962.7 2743.6 967.7 2743.8 972.8 2744.0 977.8 2744.1 982.9 2744.3 987.9 2744.5 993.0 2744.6 998.0 2744.8 1003.1 2745.0 1008.1 2745.1 1013.2 2745.3 1018.2 2745.5 1023.3 2745.6 1028.4 2745.8 1033.4 2745.9 1038.5 2746.1 1043.5 2746.2 1048.6 2746.3 1053.6 2746.5 1058.7 2746.6 1063.7 2746.8 1068.8 2746.9 1073.8 2747.0 1078.9 2747.1 1084.0 2747.3 1089.0 2747.4 1094.1 2747.5 1099.1 2747.6 1104.2 2747.8 1109.2 2747.9 1114.3 2748.0 1119.3 2748.1 1124.4 2748.2 1129.4 2748.3 1134.5 2748.4 1139.5 2748.5 1144.6 2748.7 1149.7 2748.8 1154.7 2748.9 1159.8 2749.0 1164.8 2749.1 1169.9 2749.2 1174.9 2749.3 1180.0 2749.4 1185.0 2749.5 1190.1 2749.6 1195.1 2749.6 1200.2 2749.7 1205.3 2749.8 1210.3 2749.9 1215.4 2750.0 1220.4 2750.1 1225.5 2750.2 1230.5 2750.3 1235.6 2750.3 1240.6 2750.4 1245.7 2750.5 1250.7 2750.6 1255.8 2750.7 1260.8 2750.7 1265.9 2750.8 1271.0 2750.9 1276.0 2751.0 1281.1 2751.1 1286.1 2751.1 1291.2 2751.2 1296.2 2751.3 1301.3 2751.3 1306.3 2751.4 1311.4 2751.5" fill="none" stroke="#800000" stroke-width="3.3" stroke-linejoin="round"/>
<path d="M305.6 2134.9 306.5 2135.0 306.5 2135.0 307.4 2135.2 307.5 2135.2 308.3 2135.5 308.4 2135.6 309.3 2135.9 309.4 2136.0 310.2 2136.4 310.3 2136.5 310.7 2136.7 311.1 2137.0 311.3 2137.2 312.0 2137.7 312.2 2137.9 312.9 2138.4 313.2 2138.7 313.8 2139.2 314.1 2139.5 314.7 2140.1 315.1 2140.5 315.7 2141.1 315.7 2141.2 316.0 2141.5 317.0 2142.6 317.9 2143.8 318.9 2145.1 319.8 2146.4 320.8 2147.7 320.8 2147.8 321.7 2149.2 322.7 2150.7 323.6 2152.3 324.6 2153.9 325.5 2155.6 325.8 2156.2 326.5 2157.4 327.4 2159.2 328.4 2161.1 329.3 2163.0 330.3 2164.9 330.9 2166.2 331.2 2166.9 332.2 2169.0 333.1 2171.1 334.1 2173.2 335.0 2175.4 335.9 2177.6 336.0 2177.7 336.9 2179.9 337.9 2182.2 338.8 2184.6 339.8 2187.0 340.7 2189.4 341.0 2190.1 341.7 2191.8 342.6 2194.3 343.6 2196.8 344.5 2199.3 345.5 2201.9 346.0 2203.5 346.4 2204.5 347.3 2207.1 348.3 2209.7 349.2 2212.4 350.2 2215.1 351.1 2217.6 351.1 2217.8 352.1 2220.5 353.0 2223.2 354.0 2226.0 354.9 2228.8 355.9 2231.5 356.1 2232.3 356.8 2234.3 357.8 2237.1 358.7 2240.0 359.7 2242.8 360.6 2245.6 361.2 2247.3 361.6 2248.5 362.5 2251.3 363.5 2254.2 364.4 2257.1 365.4 2259.9 366.3 2262.6 366.3 2262.8 367.3 2265.7 368.2 2268.6 369.2 2271.4 370.1 2274.3 371.1 2277.2 371.3 2277.9 372.0 2280.1 373.0 2283.0 373.9 2285.9 374.9 2288.7 375.8 2291.6 376.4 2293.2 376.8 2294.5 377.7 2297.3 378.7 2300.2 379.6 2303.1 380.6 2305.9 381.4 2308.5 381.5 2308.7 382.5 2311.6 383.4 2314.4 384.4 2317.2 385.3 2320.0 386.3 2322.9 386.5 2323.5 387.2 2325.6 388.2 2328.4 389.1 2331.2 390.0 2334.0 391.0 2336.7 391.5 2338.2 391.9 2339.5 392.9 2342.2 393.8 2344.9 394.8 2347.6 395.7 2350.3 396.6 2352.7 396.7 2353.0 397.6 2355.7 398.6 2358.4 399.5 2361.0 400.5 2363.6 401.4 2366.3 401.6 2366.8 402.4 2368.9 403.3 2371.5 404.3 2374.0 405.2 2376.6 406.2 2379.1 406.7 2380.5 407.1 2381.7 408.1 2384.2 409.0 2386.7 410.0 2389.2 410.9 2391.7 411.7 2393.8 411.9 2394.1 412.8 2396.6 413.8 2399.0 414.7 2401.4 415.7 2403.8 416.6 2406.2 416.8 2406.7 417.6 2408.6 418.5 2411.0 419.5 2413.3 420.4 2415.6 421.4 2417.9 421.8 2419.1 422.3 2420.2 423.3 2422.5 424.2 2424.8 425.2 2427.0 426.1 2429.2 426.9 2431.1 427.1 2431.5 428.0 2433.7 429.0 2435.8 429.9 2438.0 430.8 2440.2 431.8 2442.3 432.0 2442.6 432.7 2444.4 433.7 2446.5 434.6 2448.6 435.6 2450.7 436.5 2452.7 437.0 2453.8 437.5 2454.8 438.4 2456.8 439.4 2458.8 440.3 2460.8 441.3 2462.8 442.1 2464.4 442.2 2464.8 443.2 2466.7 444.1 2468.7 445.1 2470.6 446.0 2472.5 447.0 2474.4 447.1 2474.7 447.9 2476.3 448.9 2478.2 449.8 2480.0 450.8 2481.9 451.7 2483.7 452.2 2484.5 452.7 2485.5 453.6 2487.3 454.6 2489.1 455.5 2490.8 456.5 2492.6 457.2 2494.0 462.3 2503.0 467.3 2511.7 472.4 2520.0 477.4 2528.0 482.5 2535.6 487.6 2542.9 492.6 2549.9 497.7 2556.6 502.7 2563.1 507.8 2569.2 512.8 2575.1 517.9 2580.8 522.9 2586.2 528.0 2591.4 533.0 2596.4 538.1 2601.2 543.1 2605.8 548.2 2610.2 553.3 2614.4 558.3 2618.5 563.4 2622.4 568.4 2626.2 573.5 2629.8 578.5 2633.3 583.6 2636.6 588.6 2639.9 593.7 2643.0 598.7 2646.0 603.8 2648.8 608.9 2651.6 613.9 2654.3 619.0 2656.9 624.0 2659.4 629.1 2661.8 634.1 2664.1 639.2 2666.4 644.2 2668.6 649.3 2670.7 654.3 2672.7 659.4 2674.7 664.5 2676.6 669.5 2678.4 674.6 2680.2 679.6 2681.9 684.7 2683.6 689.7 2685.2 694.8 2686.8 699.8 2688.3 704.9 2689.8 709.9 2691.2 715.0 2692.6 720.0 2693.9 725.1 2695.3 730.2 2696.5 735.2 2697.8 740.3 2699.0 745.3 2700.1 750.4 2701.3 755.4 2702.4 760.5 2703.4 765.5 2704.5 770.6 2705.5 775.6 2706.5 780.7 2707.5 785.8 2708.4 790.8 2709.3 795.9 2710.2 800.9 2711.1 806.0 2711.9 811.0 2712.7 816.1 2713.5 821.1 2714.3 826.2 2715.1 831.2 2715.8 836.3 2716.6 841.3 2717.3 846.4 2718.0 851.5 2718.6 856.5 2719.3 861.6 2719.9 866.6 2720.6 871.7 2721.2 876.7 2721.8 881.8 2722.4 886.8 2723.0 891.9 2723.5 896.9 2724.1 902.0 2724.6 907.1 2725.1 912.1 2725.7 917.2 2726.2 922.2 2726.6 927.3 2727.1 932.3 2727.6 937.4 2728.1 942.4 2728.5 947.5 2729.0 952.5 2729.4 957.6 2729.8 962.7 2730.2 967.7 2730.7 972.8 2731.1 977.8 2731.4 982.9 2731.8 987.9 2732.2 993.0 2732.6 998.0 2732.9 1003.1 2733.3 1008.1 2733.6 1013.2 2734.0 1018.2 2734.3 1023.3 2734.7 1028.4 2735.0 1033.4 2735.3 1038.5 2735.6 1043.5 2735.9 1048.6 2736.2 1053.6 2736.5 1058.7 2736.8 1063.7 2737.1 1068.8 2737.4 1073.8 2737.7 1078.9 2737.9 1084.0 2738.2 1089.0 2738.4 1094.1 2738.7 1099.1 2739.0 1104.2 2739.2 1109.2 2739.5 1114.3 2739.7 1119.3 2739.9 1124.4 2740.2 1129.4 2740.4 1134.5 2740.6 1139.5 2740.8 1144.6 2741.0 1149.7 2741.3 1154.7 2741.5 1159.8 2741.7 1164.8 2741.9 1169.9 2742.1 1174.9 2742.3 1180.0 2742.5 1185.0 2742.7 1190.1 2742.9 1195.1 2743.0 1200.2 2743.2 1205.3 2743.4 1210.3 2743.6 1215.4 2743.8 1220.4 2743.9 1225.5 2744.1 1230.5 2744.3 1235.6 2744.4 1240.6 2744.6 1245.7 2744.8 1250.7 2744.9 1255.8 2745.1 1260.8 2745.2 1265.9 2745.4 1271.0 2745.5 1276.0 2745.7 1281.1 2745.8 1286.1 2745.9 1291.2 2746.1 1296.2 2746.2 1301.3 2746.4 1306.3 2746.5 1311.4 2746.6" fill="none" stroke="#000000" stroke-width="3.3" stroke-linejoin="round"/>
<path d="M305.6 2153.6 306.5 2153.6 306.5 2153.6 307.4 2153.6 307.5 2153.7 308.3 2153.8 308.4 2153.8 309.3 2154.0 309.4 2154.0 310.2 2154.3 310.3 2154.4 310.7 2154.5 311.1 2154.7 311.3 2154.8 312.0 2155.3 312.2 2155.4 312.9 2156.0 313.2 2156.2 313.8 2156.9 314.1 2157.2 314.7 2157.9 315.1 2158.3 315.7 2159.1 315.7 2159.2 316.0 2159.7 317.0 2161.3 317.9 2163.0 318.9 2165.1 319.8 2167.3 320.8 2169.7 320.8 2169.8 321.7 2172.5 322.7 2175.5 323.6 2178.8 324.6 2182.2 325.5 2186.0 325.8 2187.2 326.5 2190.0 327.4 2194.2 328.4 2198.7 329.3 2203.5 330.3 2208.4 330.9 2211.7 331.2 2213.6 332.2 2219.1 333.1 2224.7 334.1 2230.5 335.0 2236.6 335.9 2242.5 336.0 2242.8 336.9 2249.2 337.9 2255.7 338.8 2262.4 339.8 2269.2 340.7 2276.2 341.0 2278.2 341.7 2283.2 342.6 2290.4 343.6 2297.6 344.5 2305.0 345.5 2312.3 346.0 2316.9 346.4 2319.8 347.3 2327.2 348.3 2334.7 349.2 2342.2 350.2 2349.7 351.1 2356.7 351.1 2357.2 352.1 2364.6 353.0 2372.1 354.0 2379.5 354.9 2386.8 355.9 2394.1 356.1 2396.0 356.8 2401.3 357.8 2408.5 358.7 2415.6 359.7 2422.6 360.6 2429.6 361.2 2433.6 361.6 2436.4 362.5 2443.1 363.5 2449.8 364.4 2456.3 365.4 2462.8 366.3 2468.6 366.3 2469.1 367.3 2475.3 368.2 2481.5 369.2 2487.5 370.1 2493.4 371.1 2499.2 371.3 2500.6 372.0 2504.8 373.0 2510.4 373.9 2515.8 374.9 2521.2 375.8 2526.4 376.4 2529.3 376.8 2531.5 377.7 2536.5 378.7 2541.4 379.6 2546.1 380.6 2550.8 381.4 2554.9 381.5 2555.4 382.5 2559.8 383.4 2564.2 384.4 2568.5 385.3 2572.6 386.3 2576.7 386.5 2577.6 387.2 2580.6 388.2 2584.5 389.1 2588.3 390.0 2592.0 391.0 2595.6 391.5 2597.5 391.9 2599.1 392.9 2602.5 393.8 2605.8 394.8 2609.1 395.7 2612.3 396.6 2615.0 396.7 2615.4 397.6 2618.4 398.6 2621.4 399.5 2624.2 400.5 2627.0 401.4 2629.8 401.6 2630.3 402.4 2632.5 403.3 2635.1 404.3 2637.6 405.2 2640.1 406.2 2642.5 406.7 2643.8 407.1 2644.9 408.1 2647.2 409.0 2649.4 410.0 2651.6 410.9 2653.8 411.7 2655.6 411.9 2655.9 412.8 2657.9 413.8 2659.9 414.7 2661.8 415.7 2663.7 416.6 2665.6 416.8 2665.9 417.6 2667.4 418.5 2669.2 419.5 2670.9 420.4 2672.6 421.4 2674.2 421.8 2675.0 422.3 2675.8 423.3 2677.4 424.2 2678.9 425.2 2680.4 426.1 2681.9 426.9 2683.1 427.1 2683.3 428.0 2684.7 429.0 2686.1 429.9 2687.4 430.8 2688.7 431.8 2690.0 432.0 2690.2 432.7 2691.2 433.7 2692.4 434.6 2693.6 435.6 2694.8 436.5 2695.9 437.0 2696.5 437.5 2697.0 438.4 2698.1 439.4 2699.2 440.3 2700.2 441.3 2701.2 442.1 2702.0 442.2 2702.2 443.2 2703.2 444.1 2704.1 445.1 2705.1 446.0 2706.0 447.0 2706.9 447.1 2707.0 447.9 2707.8 448.9 2708.6 449.8 2709.5 450.8 2710.3 451.7 2711.1 452.2 2711.5 452.7 2711.9 453.6 2712.6 454.6 2713.4 455.5 2714.1 456.5 2714.9 457.2 2715.4 462.3 2719.0 467.3 2722.2 472.4 2725.1 477.4 2727.7 482.5 2730.1 487.6 2732.2 492.6 2734.2 497.7 2736.0 502.7 2737.6 507.8 2739.1 512.8 2740.5 517.9 2741.7 522.9 2742.9 528.0 2744.0 533.0 2744.9 538.1 2745.9 543.1 2746.7 548.2 2747.5 553.3 2748.2 558.3 2748.9 563.4 2749.5 568.4 2750.1 573.5 2750.7 578.5 2751.2 583.6 2751.7 588.6 2752.1 593.7 2752.5 598.7 2752.9 603.8 2753.3 608.9 2753.7 613.9 2754.0 619.0 2754.3 624.0 2754.6 629.1 2754.9 634.1 2755.1 639.2 2755.4 644.2 2755.6 649.3 2755.9 654.3 2756.1 659.4 2756.3 664.5 2756.5 669.5 2756.6 674.6 2756.8 679.6 2757.0 684.7 2757.1 689.7 2757.3 694.8 2757.4 699.8 2757.6 704.9 2757.7 709.9 2757.8 715.0 2757.9 720.0 2758.0 725.1 2758.2 730.2 2758.3 735.2 2758.4 740.3 2758.5 745.3 2758.5 750.4 2758.6 755.4 2758.7 760.5 2758.8 765.5 2758.9 770.6 2759.0 775.6 2759.0 780.7 2759.1 785.8 2759.2 790.8 2759.2 795.9 2759.3 800.9 2759.3 806.0 2759.4 811.0 2759.5 816.1 2759.5 821.1 2759.6 826.2 2759.6 831.2 2759.7 836.3 2759.7 841.3 2759.7 846.4 2759.8 851.5 2759.8 856.5 2759.9 861.6 2759.9 866.6 2759.9 871.7 2760.0 876.7 2760.0 881.8 2760.1 886.8 2760.1 891.9 2760.1 896.9 2760.1 902.0 2760.2 907.1 2760.2 912.1 2760.2 917.2 2760.3 922.2 2760.3 927.3 2760.3 932.3 2760.3 937.4 2760.4 942.4 2760.4 947.5 2760.4 952.5 2760.4 957.6 2760.5 962.7 2760.5 967.7 2760.5 972.8 2760.5 977.8 2760.5 982.9 2760.6 987.9 2760.6 993.0 2760.6 998.0 2760.6 1003.1 2760.6 1008.1 2760.6 1013.2 2760.7 1018.2 2760.7 1023.3 2760.7 1028.4 2760.7 1033.4 2760.7 1038.5 2760.7 1043.5 2760.7 1048.6 2760.8 1053.6 2760.8 1058.7 2760.8 1063.7 2760.8 1068.8 2760.8 1073.8 2760.8 1078.9 2760.8 1084.0 2760.8 1089.0 2760.9 1094.1 2760.9 1099.1 2760.9 1104.2 2760.9 1109.2 2760.9 1114.3 2760.9 1119.3 2760.9 1124.4 2760.9 1129.4 2760.9 1134.5 2760.9 1139.5 2761.0 1144.6 2761.0 1149.7 2761.0 1154.7 2761.0 1159.8 2761.0 1164.8 2761.0 1169.9 2761.0 1174.9 2761.0 1180.0 2761.0 1185.0 2761.0 1190.1 2761.0 1195.1 2761.0 1200.2 2761.0 1205.3 2761.1 1210.3 2761.1 1215.4 2761.1 1220.4 2761.1 1225.5 2761.1 1230.5 2761.1 1235.6 2761.1 1240.6 2761.1 1245.7 2761.1 1250.7 2761.1 1255.8 2761.1 1260.8 2761.1 1265.9 2761.1 1271.0 2761.1 1276.0 2761.1 1281.1 2761.1 1286.1 2761.1 1291.2 2761.2 1296.2 2761.2 1301.3 2761.2 1306.3 2761.2 1311.4 2761.2" fill="none" stroke="#ff0000" stroke-width="3.3" stroke-dasharray="41 13.2" stroke-linejoin="round"/>
<text x="867.8" y="2126.7" font-family="Liberation Sans, sans-serif" font-size="41.6" text-anchor="middle" >Paraquat</text>
<rect x="878.5" y="2168.1" width="295.9" height="369.3" fill="#fff" stroke="#000" stroke-width="3.0"/>
<path d="M898.9 2205.4H1061.5" stroke="#ff0000" stroke-width="3"/>
<circle cx="980" cy="2238.3" r="10.45" fill="#000"/>
<text x="1101.6" y="2215.54" font-family="Liberation Sans, sans-serif" font-size="28.8">S0</text>
<path d="M898.9 2271.2H1061.5" stroke="#0000ff" stroke-width="3"/>
<circle cx="980" cy="2304.1" r="9.1" fill="#fff" stroke="#000" stroke-width="2.8"/>
<text x="1101.6" y="2281.34" font-family="Liberation Sans, sans-serif" font-size="28.8">S3</text>
<path d="M898.9 2337H1061.5" stroke="#800000" stroke-width="3"/>
<path d="M969.45 2363.6H990.55L980 2381.9Z" fill="#000"/>
<text x="1101.6" y="2347.14" font-family="Liberation Sans, sans-serif" font-size="28.8">S7</text>
<path d="M898.9 2402.8H1061.5" stroke="#000000" stroke-width="3"/>
<path d="M972.1 2440.1H987.9L980 2427Z" fill="#fff" stroke="#000" stroke-width="3.0" stroke-linejoin="miter"/>
<text x="1101.6" y="2412.94" font-family="Liberation Sans, sans-serif" font-size="28.8">S11</text>
<path d="M898.9 2468.6H1046.8" stroke="#ff0000" stroke-width="3" stroke-dasharray="41 13.2"/>
<rect x="970.8" y="2492.2" width="18.4" height="18.6" fill="#000"/>
<text x="1101.6" y="2478.74" font-family="Liberation Sans, sans-serif" font-size="28.8">W4</text>
<text x="840.9" y="2878.2" font-family="Liberation Sans, sans-serif" font-size="35.95" text-anchor="middle" >Paraquat dose (g ai/ha)</text>
<text transform="translate(196.5 2387) rotate(-90)" font-family="Liberation Sans, sans-serif" font-size="35.8" text-anchor="middle">Survival (%)</text>
<text x="44" y="2895.5" font-family="Liberation Serif, serif" font-size="101" stroke="#000" stroke-width="0.5" textLength="111" lengthAdjust="spacingAndGlyphs">(c)</text>
</g>
<g id="panel_d">
<rect x="307.4" y="2979.5" width="1072" height="747.1" fill="none" stroke="#000" stroke-width="3.0"/>
<path d="M307.4 3726.6V3739.1M474.66 3726.6V3739.1M641.93 3726.6V3739.1M809.19 3726.6V3739.1M976.46 3726.6V3739.1M1143.72 3726.6V3739.1M1310.99 3726.6V3739.1M307.4 3726.6H294.9M307.4 3602.08H294.9M307.4 3477.57H294.9M307.4 3353.05H294.9M307.4 3228.53H294.9M307.4 3104.02H294.9M307.4 2979.5H294.9" stroke="#000" stroke-width="3.0" fill="none"/>
<g font-family="Liberation Sans, sans-serif" font-size="30" fill="#000">
<text x="307.4" y="3778.56" text-anchor="middle">0</text>
<text x="474.66" y="3778.56" text-anchor="middle">50</text>
<text x="641.93" y="3778.56" text-anchor="middle">100</text>
<text x="809.19" y="3778.56" text-anchor="middle">150</text>
<text x="976.46" y="3778.56" text-anchor="middle">200</text>
<text x="1143.72" y="3778.56" text-anchor="middle">250</text>
<text x="1310.99" y="3778.56" text-anchor="middle">300</text>
<text x="283.2" y="3736.76" text-anchor="end">0</text>
<text x="283.2" y="3612.24" text-anchor="end">20</text>
<text x="283.2" y="3487.73" text-anchor="end">40</text>
<text x="283.2" y="3363.21" text-anchor="end">60</text>
<text x="283.2" y="3238.69" text-anchor="end">80</text>
<text x="283.2" y="3114.18" text-anchor="end">100</text>
<text x="283.2" y="2989.66" text-anchor="end">120</text>
</g>
<path d="M340.02 3116.47V3159.74M327.72 3116.47H352.32M327.72 3159.74H352.32M372.63 3181.22V3234.14M360.33 3181.22H384.93M360.33 3234.14H384.93M437.87 3356.16V3475.08M425.57 3356.16H450.17M425.57 3475.08H450.17M568.33 3574.07V3637.57M556.03 3574.07H580.63M556.03 3637.57H580.63M829.27 3595.86V3647.53M816.97 3595.86H841.57M816.97 3647.53H841.57" stroke="#000" stroke-width="3.0" fill="none"/>
<circle cx="307.4" cy="3104.02" r="10.45" fill="#000"/>
<circle cx="340.02" cy="3135.15" r="10.45" fill="#000"/>
<circle cx="372.63" cy="3207.37" r="10.45" fill="#000"/>
<circle cx="437.87" cy="3415.31" r="10.45" fill="#000"/>
<circle cx="568.33" cy="3605.82" r="10.45" fill="#000"/>
<circle cx="829.27" cy="3622.63" r="10.45" fill="#000"/>
<circle cx="1351.13" cy="3726.6" r="10.45" fill="#000"/>
<path d="M340.02 3155.07V3179.35M327.72 3179.35H352.32M437.87 3509.32V3597.1M425.57 3509.32H450.17M425.57 3597.1H450.17" stroke="#000" stroke-width="3.0" fill="none"/>
<circle cx="340.02" cy="3155.07" r="10.45" fill="#000"/>
<circle cx="437.87" cy="3552.59" r="10.45" fill="#000"/>
<path d="M372.63 3120.2V3191.18M360.33 3120.2H384.93M360.33 3191.18H384.93M568.33 3450.17V3516.17M556.03 3450.17H580.63M556.03 3516.17H580.63M829.27 3328.15V3431.5M816.97 3328.15H841.57M816.97 3431.5H841.57M1351.13 3370.48V3527.37M1338.83 3370.48H1363.43M1338.83 3527.37H1363.43" stroke="#000" stroke-width="3.0" fill="none"/>
<circle cx="307.4" cy="3104.02" r="9.1" fill="#fff" stroke="#000" stroke-width="2.8"/>
<circle cx="372.63" cy="3155.69" r="9.1" fill="#fff" stroke="#000" stroke-width="2.8"/>
<circle cx="568.33" cy="3483.17" r="9.1" fill="#fff" stroke="#000" stroke-width="2.8"/>
<circle cx="829.27" cy="3381.07" r="9.1" fill="#fff" stroke="#000" stroke-width="2.8"/>
<circle cx="1351.13" cy="3448.93" r="9.1" fill="#fff" stroke="#000" stroke-width="2.8"/>
<path d="M340.02 3104.02V3116.47M327.72 3116.47H352.32M372.63 3258.42V3304.49M360.33 3304.49H384.93M437.87 3377.95V3453.29M425.57 3377.95H450.17M425.57 3453.29H450.17M568.33 3499.98V3574.07M556.03 3499.98H580.63M556.03 3574.07H580.63M829.27 3519.28V3554.14M816.97 3519.28H841.57M816.97 3554.14H841.57M1351.13 3572.82V3636.33M1338.83 3572.82H1363.43M1338.83 3636.33H1363.43" stroke="#000" stroke-width="3.0" fill="none"/>
<path d="M296.85 3097.72H317.95L307.4 3116.02Z" fill="#000"/>
<path d="M329.47 3097.72H350.57L340.02 3116.02Z" fill="#000"/>
<path d="M362.08 3252.12H383.18L372.63 3270.42Z" fill="#000"/>
<path d="M427.32 3409.01H448.42L437.87 3427.31Z" fill="#000"/>
<path d="M557.78 3531.03H578.88L568.33 3549.33Z" fill="#000"/>
<path d="M818.72 3530.41H839.82L829.27 3548.71Z" fill="#000"/>
<path d="M1340.58 3598.9H1361.68L1351.13 3617.2Z" fill="#000"/>
<path d="M340.02 3132.66V3135.15M327.72 3132.66H352.32M372.63 3234.76V3276.47M360.33 3234.76H384.93M360.33 3276.47H384.93M437.87 3481.3V3592.12M425.57 3481.3H450.17M425.57 3592.12H450.17M568.33 3465.11V3574.07M556.03 3465.11H580.63M556.03 3574.07H580.63M829.27 3552.28V3583.41M816.97 3552.28H841.57M816.97 3583.41H841.57M1351.13 3671.19V3711.04M1338.83 3671.19H1363.43M1338.83 3711.04H1363.43" stroke="#000" stroke-width="3.0" fill="none"/>
<path d="M299.5 3110.32H315.3L307.4 3097.22Z" fill="#fff" stroke="#000" stroke-width="3.0" stroke-linejoin="miter"/>
<path d="M332.12 3141.45H347.92L340.02 3128.35Z" fill="#fff" stroke="#000" stroke-width="3.0" stroke-linejoin="miter"/>
<path d="M364.73 3249.15H380.53L372.63 3236.05Z" fill="#fff" stroke="#000" stroke-width="3.0" stroke-linejoin="miter"/>
<path d="M429.97 3541.14H445.77L437.87 3528.04Z" fill="#fff" stroke="#000" stroke-width="3.0" stroke-linejoin="miter"/>
<path d="M560.43 3523.71H576.23L568.33 3510.61Z" fill="#fff" stroke="#000" stroke-width="3.0" stroke-linejoin="miter"/>
<path d="M821.37 3574.14H837.17L829.27 3561.04Z" fill="#fff" stroke="#000" stroke-width="3.0" stroke-linejoin="miter"/>
<path d="M1343.23 3697.41H1359.03L1351.13 3684.31Z" fill="#fff" stroke="#000" stroke-width="3.0" stroke-linejoin="miter"/>
<path d="M340.02 3348.07V3447.06M327.72 3348.07H352.32M327.72 3447.06H352.32M372.63 3470.1V3532.98M360.33 3470.1H384.93M360.33 3532.98H384.93M437.87 3692.36V3709.17M425.57 3692.36H450.17" stroke="#000" stroke-width="3.0" fill="none"/>
<rect x="298.2" y="3094.72" width="18.4" height="18.6" fill="#000"/>
<rect x="330.82" y="3388.26" width="18.4" height="18.6" fill="#000"/>
<rect x="363.43" y="3492.55" width="18.4" height="18.6" fill="#000"/>
<rect x="428.67" y="3699.87" width="18.4" height="18.6" fill="#000"/>
<rect x="559.13" y="3717.3" width="18.4" height="18.6" fill="#000"/>
<rect x="820.07" y="3717.3" width="18.4" height="18.6" fill="#000"/>
<rect x="1341.93" y="3717.3" width="18.4" height="18.6" fill="#000"/>
<path d="M307.4 3097.6 308.3 3097.6 308.4 3097.6 309.3 3097.7 309.4 3097.7 310.2 3097.9 310.4 3097.9 311.2 3098.1 311.3 3098.2 312.1 3098.4 312.3 3098.5 312.6 3098.6 313.1 3098.8 313.3 3098.9 314.0 3099.3 314.3 3099.5 315.0 3099.9 315.3 3100.1 315.9 3100.5 316.3 3100.8 316.9 3101.2 317.2 3101.5 317.8 3102.1 317.9 3102.1 318.2 3102.4 319.2 3103.4 320.2 3104.4 321.2 3105.6 322.2 3106.8 323.1 3108.1 323.2 3108.2 324.1 3109.6 325.1 3111.1 326.1 3112.7 327.1 3114.4 328.1 3116.2 328.4 3116.8 329.1 3118.1 330.0 3120.0 331.0 3122.1 332.0 3124.2 333.0 3126.4 333.6 3127.8 334.0 3128.7 335.0 3131.0 336.0 3133.5 336.9 3136.0 337.9 3138.6 338.9 3141.1 338.9 3141.2 339.9 3144.0 340.9 3146.8 341.9 3149.6 342.8 3152.6 343.8 3155.5 344.1 3156.4 344.8 3158.6 345.8 3161.7 346.8 3164.9 347.8 3168.1 348.8 3171.4 349.4 3173.4 349.7 3174.7 350.7 3178.0 351.7 3181.4 352.7 3184.9 353.7 3188.4 354.6 3191.7 354.7 3191.9 355.6 3195.5 356.6 3199.1 357.6 3202.7 358.6 3206.4 359.6 3210.1 359.8 3211.1 360.6 3213.8 361.6 3217.5 362.5 3221.3 363.5 3225.1 364.5 3228.9 365.1 3231.1 365.5 3232.7 366.5 3236.5 367.5 3240.3 368.4 3244.2 369.4 3248.0 370.3 3251.6 370.4 3251.9 371.4 3255.8 372.4 3259.6 373.4 3263.5 374.4 3267.4 375.3 3271.3 375.6 3272.2 376.3 3275.1 377.3 3279.0 378.3 3282.9 379.3 3286.7 380.3 3290.6 380.8 3292.8 381.2 3294.4 382.2 3298.2 383.2 3302.0 384.2 3305.8 385.2 3309.6 386.1 3313.0 386.2 3313.4 387.2 3317.1 388.1 3320.9 389.1 3324.6 390.1 3328.3 391.1 3332.0 391.3 3332.8 392.1 3335.7 393.1 3339.3 394.0 3342.9 395.0 3346.5 396.0 3350.1 396.6 3352.1 397.0 3353.7 398.0 3357.2 399.0 3360.7 400.0 3364.2 400.9 3367.7 401.8 3370.7 401.9 3371.1 402.9 3374.5 403.9 3377.9 404.9 3381.2 405.9 3384.6 406.9 3387.9 407.1 3388.5 407.8 3391.1 408.8 3394.4 409.8 3397.6 410.8 3400.8 411.8 3404.0 412.3 3405.6 412.8 3407.1 413.7 3410.2 414.7 3413.3 415.7 3416.3 416.7 3419.4 417.5 3421.9 417.7 3422.3 418.7 3425.3 419.7 3428.3 420.6 3431.2 421.6 3434.0 422.6 3436.9 422.8 3437.4 423.6 3439.7 424.6 3442.5 425.6 3445.3 426.5 3448.0 427.5 3450.7 428.0 3452.1 428.5 3453.4 429.5 3456.1 430.5 3458.7 431.5 3461.3 432.5 3463.9 433.3 3466.0 433.4 3466.4 434.4 3468.9 435.4 3471.4 436.4 3473.9 437.4 3476.3 438.4 3478.7 438.5 3479.1 439.3 3481.1 440.3 3483.5 441.3 3485.8 442.3 3488.1 443.3 3490.4 443.8 3491.5 444.3 3492.7 445.3 3494.9 446.2 3497.1 447.2 3499.3 448.2 3501.5 449.0 3503.2 449.2 3503.6 450.2 3505.7 451.2 3507.8 452.1 3509.9 453.1 3511.9 454.1 3513.9 454.3 3514.2 455.1 3515.9 456.1 3517.9 457.1 3519.8 458.1 3521.8 459.0 3523.7 459.5 3524.6 460.0 3525.6 461.0 3527.4 462.0 3529.3 463.0 3531.1 464.0 3532.9 464.7 3534.3 470.0 3543.5 475.2 3552.1 480.5 3560.2 485.7 3567.9 491.0 3575.1 496.2 3581.9 501.5 3588.2 506.7 3594.3 512.0 3599.9 517.2 3605.3 522.4 3610.3 527.7 3615.1 532.9 3619.6 538.2 3623.9 543.4 3627.9 548.7 3631.8 553.9 3635.4 559.2 3638.8 564.4 3642.1 569.6 3645.2 574.9 3648.1 580.1 3650.9 585.4 3653.5 590.6 3656.1 595.9 3658.5 601.1 3660.8 606.4 3662.9 611.6 3665.0 616.8 3667.0 622.1 3668.9 627.3 3670.7 632.6 3672.5 637.8 3674.1 643.1 3675.7 648.3 3677.2 653.6 3678.7 658.8 3680.1 664.1 3681.4 669.3 3682.7 674.5 3683.9 679.8 3685.1 685.0 3686.3 690.3 3687.3 695.5 3688.4 700.8 3689.4 706.0 3690.4 711.3 3691.3 716.5 3692.2 721.7 3693.1 727.0 3693.9 732.2 3694.7 737.5 3695.5 742.7 3696.3 748.0 3697.0 753.2 3697.7 758.5 3698.4 763.7 3699.0 769.0 3699.7 774.2 3700.3 779.4 3700.9 784.7 3701.4 789.9 3702.0 795.2 3702.5 800.4 3703.0 805.7 3703.6 810.9 3704.0 816.2 3704.5 821.4 3705.0 826.6 3705.4 831.9 3705.9 837.1 3706.3 842.4 3706.7 847.6 3707.1 852.9 3707.5 858.1 3707.8 863.4 3708.2 868.6 3708.6 873.8 3708.9 879.1 3709.2 884.3 3709.6 889.6 3709.9 894.8 3710.2 900.1 3710.5 905.3 3710.8 910.6 3711.1 915.8 3711.3 921.1 3711.6 926.3 3711.9 931.5 3712.1 936.8 3712.4 942.0 3712.6 947.3 3712.8 952.5 3713.1 957.8 3713.3 963.0 3713.5 968.3 3713.7 973.5 3713.9 978.7 3714.2 984.0 3714.4 989.2 3714.5 994.5 3714.7 999.7 3714.9 1005.0 3715.1 1010.2 3715.3 1015.5 3715.5 1020.7 3715.6 1026.0 3715.8 1031.2 3716.0 1036.4 3716.1 1041.7 3716.3 1046.9 3716.4 1052.2 3716.6 1057.4 3716.7 1062.7 3716.9 1067.9 3717.0 1073.2 3717.1 1078.4 3717.3 1083.6 3717.4 1088.9 3717.5 1094.1 3717.7 1099.4 3717.8 1104.6 3717.9 1109.9 3718.0 1115.1 3718.1 1120.4 3718.3 1125.6 3718.4 1130.8 3718.5 1136.1 3718.6 1141.3 3718.7 1146.6 3718.8 1151.8 3718.9 1157.1 3719.0 1162.3 3719.1 1167.6 3719.2 1172.8 3719.3 1178.1 3719.4 1183.3 3719.5 1188.5 3719.6 1193.8 3719.6 1199.0 3719.7 1204.3 3719.8 1209.5 3719.9 1214.8 3720.0 1220.0 3720.1 1225.3 3720.1 1230.5 3720.2 1235.7 3720.3 1241.0 3720.4 1246.2 3720.4 1251.5 3720.5 1256.7 3720.6 1262.0 3720.6 1267.2 3720.7 1272.5 3720.8 1277.7 3720.8 1282.9 3720.9 1288.2 3721.0 1293.4 3721.0 1298.7 3721.1 1303.9 3721.2 1309.2 3721.2 1314.4 3721.3 1319.7 3721.3 1324.9 3721.4 1330.2 3721.5 1335.4 3721.5 1340.6 3721.6 1345.9 3721.6 1351.1 3721.7" fill="none" stroke="#ff0000" stroke-width="3.3" stroke-linejoin="round"/>
<path d="M307.4 3078.5 308.3 3094.5 308.4 3094.8 309.3 3102.7 309.4 3103.2 310.2 3109.2 310.4 3109.9 311.2 3114.9 311.3 3115.7 312.1 3119.9 312.3 3120.8 312.6 3122.4 313.1 3124.5 313.3 3125.5 314.0 3128.8 314.3 3129.8 315.0 3132.7 315.3 3133.9 315.9 3136.4 316.3 3137.7 316.9 3140.0 317.2 3141.3 317.8 3143.3 317.9 3143.5 318.2 3144.7 319.2 3147.9 320.2 3151.1 321.2 3154.1 322.2 3157.0 323.1 3159.7 323.2 3159.8 324.1 3162.5 325.1 3165.1 326.1 3167.6 327.1 3170.1 328.1 3172.5 328.4 3173.2 329.1 3174.8 330.0 3177.1 331.0 3179.3 332.0 3181.5 333.0 3183.6 333.6 3184.9 334.0 3185.7 335.0 3187.7 336.0 3189.7 336.9 3191.6 337.9 3193.5 338.9 3195.3 338.9 3195.4 339.9 3197.2 340.9 3199.0 341.9 3200.8 342.8 3202.5 343.8 3204.2 344.1 3204.7 344.8 3205.9 345.8 3207.6 346.8 3209.2 347.8 3210.8 348.8 3212.4 349.4 3213.3 349.7 3213.9 350.7 3215.4 351.7 3217.0 352.7 3218.4 353.7 3219.9 354.6 3221.3 354.7 3221.3 355.6 3222.8 356.6 3224.2 357.6 3225.6 358.6 3226.9 359.6 3228.3 359.8 3228.6 360.6 3229.6 361.6 3230.9 362.5 3232.2 363.5 3233.5 364.5 3234.8 365.1 3235.5 365.5 3236.1 366.5 3237.3 367.5 3238.5 368.4 3239.7 369.4 3240.9 370.3 3242.0 370.4 3242.1 371.4 3243.3 372.4 3244.5 373.4 3245.6 374.4 3246.8 375.3 3247.9 375.6 3248.2 376.3 3249.0 377.3 3250.1 378.3 3251.2 379.3 3252.3 380.3 3253.3 380.8 3254.0 381.2 3254.4 382.2 3255.5 383.2 3256.5 384.2 3257.5 385.2 3258.6 386.1 3259.5 386.2 3259.6 387.2 3260.6 388.1 3261.6 389.1 3262.6 390.1 3263.5 391.1 3264.5 391.3 3264.7 392.1 3265.5 393.1 3266.4 394.0 3267.4 395.0 3268.3 396.0 3269.2 396.6 3269.7 397.0 3270.1 398.0 3271.1 399.0 3272.0 400.0 3272.9 400.9 3273.7 401.8 3274.5 401.9 3274.6 402.9 3275.5 403.9 3276.4 404.9 3277.2 405.9 3278.1 406.9 3278.9 407.1 3279.1 407.8 3279.8 408.8 3280.6 409.8 3281.5 410.8 3282.3 411.8 3283.1 412.3 3283.5 412.8 3283.9 413.7 3284.7 414.7 3285.5 415.7 3286.3 416.7 3287.1 417.5 3287.8 417.7 3287.9 418.7 3288.7 419.7 3289.5 420.6 3290.2 421.6 3291.0 422.6 3291.7 422.8 3291.9 423.6 3292.5 424.6 3293.2 425.6 3294.0 426.5 3294.7 427.5 3295.5 428.0 3295.8 428.5 3296.2 429.5 3296.9 430.5 3297.6 431.5 3298.4 432.5 3299.1 433.3 3299.7 433.4 3299.8 434.4 3300.5 435.4 3301.2 436.4 3301.9 437.4 3302.5 438.4 3303.2 438.5 3303.3 439.3 3303.9 440.3 3304.6 441.3 3305.3 442.3 3305.9 443.3 3306.6 443.8 3306.9 444.3 3307.3 445.3 3307.9 446.2 3308.6 447.2 3309.2 448.2 3309.9 449.0 3310.4 449.2 3310.5 450.2 3311.1 451.2 3311.8 452.1 3312.4 453.1 3313.0 454.1 3313.6 454.3 3313.7 455.1 3314.3 456.1 3314.9 457.1 3315.5 458.1 3316.1 459.0 3316.7 459.5 3317.0 460.0 3317.3 461.0 3317.9 462.0 3318.5 463.0 3319.1 464.0 3319.7 464.7 3320.2 470.0 3323.2 475.2 3326.2 480.5 3329.2 485.7 3332.0 491.0 3334.8 496.2 3337.5 501.5 3340.1 506.7 3342.7 512.0 3345.2 517.2 3347.7 522.4 3350.1 527.7 3352.4 532.9 3354.7 538.2 3357.0 543.4 3359.2 548.7 3361.4 553.9 3363.5 559.2 3365.6 564.4 3367.6 569.6 3369.6 574.9 3371.6 580.1 3373.5 585.4 3375.4 590.6 3377.2 595.9 3379.1 601.1 3380.9 606.4 3382.6 611.6 3384.4 616.8 3386.1 622.1 3387.7 627.3 3389.4 632.6 3391.0 637.8 3392.6 643.1 3394.2 648.3 3395.8 653.6 3397.3 658.8 3398.8 664.1 3400.3 669.3 3401.7 674.5 3403.2 679.8 3404.6 685.0 3406.0 690.3 3407.4 695.5 3408.7 700.8 3410.1 706.0 3411.4 711.3 3412.7 716.5 3414.0 721.7 3415.3 727.0 3416.5 732.2 3417.8 737.5 3419.0 742.7 3420.2 748.0 3421.4 753.2 3422.6 758.5 3423.8 763.7 3424.9 769.0 3426.1 774.2 3427.2 779.4 3428.3 784.7 3429.4 789.9 3430.5 795.2 3431.6 800.4 3432.6 805.7 3433.7 810.9 3434.7 816.2 3435.7 821.4 3436.7 826.6 3437.8 831.9 3438.7 837.1 3439.7 842.4 3440.7 847.6 3441.7 852.9 3442.6 858.1 3443.6 863.4 3444.5 868.6 3445.4 873.8 3446.3 879.1 3447.2 884.3 3448.1 889.6 3449.0 894.8 3449.9 900.1 3450.8 905.3 3451.6 910.6 3452.5 915.8 3453.3 921.1 3454.2 926.3 3455.0 931.5 3455.8 936.8 3456.6 942.0 3457.5 947.3 3458.3 952.5 3459.0 957.8 3459.8 963.0 3460.6 968.3 3461.4 973.5 3462.1 978.7 3462.9 984.0 3463.7 989.2 3464.4 994.5 3465.1 999.7 3465.9 1005.0 3466.6 1010.2 3467.3 1015.5 3468.0 1020.7 3468.7 1026.0 3469.4 1031.2 3470.1 1036.4 3470.8 1041.7 3471.5 1046.9 3472.2 1052.2 3472.9 1057.4 3473.5 1062.7 3474.2 1067.9 3474.9 1073.2 3475.5 1078.4 3476.2 1083.6 3476.8 1088.9 3477.5 1094.1 3478.1 1099.4 3478.7 1104.6 3479.3 1109.9 3480.0 1115.1 3480.6 1120.4 3481.2 1125.6 3481.8 1130.8 3482.4 1136.1 3483.0 1141.3 3483.6 1146.6 3484.2 1151.8 3484.8 1157.1 3485.3 1162.3 3485.9 1167.6 3486.5 1172.8 3487.1 1178.1 3487.6 1183.3 3488.2 1188.5 3488.7 1193.8 3489.3 1199.0 3489.8 1204.3 3490.4 1209.5 3490.9 1214.8 3491.5 1220.0 3492.0 1225.3 3492.5 1230.5 3493.0 1235.7 3493.6 1241.0 3494.1 1246.2 3494.6 1251.5 3495.1 1256.7 3495.6 1262.0 3496.1 1267.2 3496.6 1272.5 3497.1 1277.7 3497.6 1282.9 3498.1 1288.2 3498.6 1293.4 3499.1 1298.7 3499.6 1303.9 3500.1 1309.2 3500.5 1314.4 3501.0 1319.7 3501.5 1324.9 3502.0 1330.2 3502.4 1335.4 3502.9 1340.6 3503.3 1345.9 3503.8 1351.1 3504.3" fill="none" stroke="#0000ff" stroke-width="3.3" stroke-linejoin="round"/>
<path d="M307.4 3071.6 308.3 3074.2 308.4 3074.3 309.3 3077.0 309.4 3077.2 310.2 3079.9 310.4 3080.2 311.2 3082.9 311.3 3083.3 312.1 3085.9 312.3 3086.5 312.6 3087.5 313.1 3088.9 313.3 3089.6 314.0 3092.0 314.3 3092.8 315.0 3095.0 315.3 3095.9 315.9 3098.1 316.3 3099.1 316.9 3101.1 317.2 3102.3 317.8 3104.2 317.9 3104.4 318.2 3105.4 319.2 3108.6 320.2 3111.8 321.2 3114.9 322.2 3118.0 323.1 3121.1 323.2 3121.1 324.1 3124.2 325.1 3127.3 326.1 3130.4 327.1 3133.4 328.1 3136.4 328.4 3137.3 329.1 3139.4 330.0 3142.4 331.0 3145.4 332.0 3148.3 333.0 3151.3 333.6 3153.1 334.0 3154.2 335.0 3157.1 336.0 3159.9 336.9 3162.8 337.9 3165.6 338.9 3168.3 338.9 3168.4 339.9 3171.2 340.9 3174.0 341.9 3176.7 342.8 3179.4 343.8 3182.1 344.1 3182.9 344.8 3184.8 345.8 3187.5 346.8 3190.1 347.8 3192.7 348.8 3195.4 349.4 3196.9 349.7 3197.9 350.7 3200.5 351.7 3203.0 352.7 3205.6 353.7 3208.1 354.6 3210.4 354.7 3210.5 355.6 3213.0 356.6 3215.5 357.6 3217.9 358.6 3220.3 359.6 3222.7 359.8 3223.3 360.6 3225.0 361.6 3227.4 362.5 3229.7 363.5 3232.0 364.5 3234.3 365.1 3235.7 365.5 3236.6 366.5 3238.9 367.5 3241.1 368.4 3243.4 369.4 3245.6 370.3 3247.6 370.4 3247.8 371.4 3249.9 372.4 3252.1 373.4 3254.2 374.4 3256.3 375.3 3258.5 375.6 3259.0 376.3 3260.5 377.3 3262.6 378.3 3264.7 379.3 3266.7 380.3 3268.8 380.8 3269.9 381.2 3270.8 382.2 3272.8 383.2 3274.7 384.2 3276.7 385.2 3278.7 386.1 3280.4 386.2 3280.6 387.2 3282.5 388.1 3284.4 389.1 3286.3 390.1 3288.2 391.1 3290.1 391.3 3290.5 392.1 3291.9 393.1 3293.8 394.0 3295.6 395.0 3297.4 396.0 3299.2 396.6 3300.2 397.0 3301.0 398.0 3302.7 399.0 3304.5 400.0 3306.2 400.9 3308.0 401.8 3309.5 401.9 3309.7 402.9 3311.4 403.9 3313.1 404.9 3314.8 405.9 3316.4 406.9 3318.1 407.1 3318.4 407.8 3319.8 408.8 3321.4 409.8 3323.0 410.8 3324.6 411.8 3326.2 412.3 3327.1 412.8 3327.8 413.7 3329.4 414.7 3330.9 415.7 3332.5 416.7 3334.0 417.5 3335.4 417.7 3335.6 418.7 3337.1 419.7 3338.6 420.6 3340.1 421.6 3341.6 422.6 3343.1 422.8 3343.3 423.6 3344.5 424.6 3346.0 425.6 3347.4 426.5 3348.9 427.5 3350.3 428.0 3351.0 428.5 3351.7 429.5 3353.1 430.5 3354.5 431.5 3355.9 432.5 3357.3 433.3 3358.5 433.4 3358.7 434.4 3360.0 435.4 3361.4 436.4 3362.7 437.4 3364.1 438.4 3365.4 438.5 3365.6 439.3 3366.7 440.3 3368.0 441.3 3369.3 442.3 3370.6 443.3 3371.9 443.8 3372.5 444.3 3373.2 445.3 3374.4 446.2 3375.7 447.2 3377.0 448.2 3378.2 449.0 3379.2 449.2 3379.4 450.2 3380.7 451.2 3381.9 452.1 3383.1 453.1 3384.3 454.1 3385.5 454.3 3385.6 455.1 3386.7 456.1 3387.8 457.1 3389.0 458.1 3390.2 459.0 3391.3 459.5 3391.9 460.0 3392.5 461.0 3393.6 462.0 3394.8 463.0 3395.9 464.0 3397.0 464.7 3397.9 470.0 3403.7 475.2 3409.4 480.5 3414.8 485.7 3420.1 491.0 3425.2 496.2 3430.2 501.5 3435.0 506.7 3439.7 512.0 3444.2 517.2 3448.6 522.4 3452.9 527.7 3457.1 532.9 3461.1 538.2 3465.0 543.4 3468.8 548.7 3472.6 553.9 3476.2 559.2 3479.7 564.4 3483.1 569.6 3486.5 574.9 3489.7 580.1 3492.9 585.4 3496.0 590.6 3499.0 595.9 3502.0 601.1 3504.9 606.4 3507.7 611.6 3510.4 616.8 3513.1 622.1 3515.7 627.3 3518.3 632.6 3520.8 637.8 3523.2 643.1 3525.6 648.3 3527.9 653.6 3530.2 658.8 3532.4 664.1 3534.6 669.3 3536.8 674.5 3538.9 679.8 3540.9 685.0 3542.9 690.3 3544.9 695.5 3546.8 700.8 3548.7 706.0 3550.6 711.3 3552.4 716.5 3554.2 721.7 3555.9 727.0 3557.7 732.2 3559.3 737.5 3561.0 742.7 3562.6 748.0 3564.2 753.2 3565.8 758.5 3567.3 763.7 3568.8 769.0 3570.3 774.2 3571.8 779.4 3573.2 784.7 3574.6 789.9 3576.0 795.2 3577.3 800.4 3578.7 805.7 3580.0 810.9 3581.3 816.2 3582.5 821.4 3583.8 826.6 3585.0 831.9 3586.2 837.1 3587.4 842.4 3588.6 847.6 3589.7 852.9 3590.8 858.1 3592.0 863.4 3593.1 868.6 3594.1 873.8 3595.2 879.1 3596.2 884.3 3597.3 889.6 3598.3 894.8 3599.3 900.1 3600.3 905.3 3601.2 910.6 3602.2 915.8 3603.1 921.1 3604.1 926.3 3605.0 931.5 3605.9 936.8 3606.8 942.0 3607.7 947.3 3608.5 952.5 3609.4 957.8 3610.2 963.0 3611.1 968.3 3611.9 973.5 3612.7 978.7 3613.5 984.0 3614.3 989.2 3615.1 994.5 3615.8 999.7 3616.6 1005.0 3617.3 1010.2 3618.1 1015.5 3618.8 1020.7 3619.5 1026.0 3620.2 1031.2 3620.9 1036.4 3621.6 1041.7 3622.3 1046.9 3623.0 1052.2 3623.6 1057.4 3624.3 1062.7 3625.0 1067.9 3625.6 1073.2 3626.2 1078.4 3626.9 1083.6 3627.5 1088.9 3628.1 1094.1 3628.7 1099.4 3629.3 1104.6 3629.9 1109.9 3630.5 1115.1 3631.1 1120.4 3631.6 1125.6 3632.2 1130.8 3632.8 1136.1 3633.3 1141.3 3633.9 1146.6 3634.4 1151.8 3634.9 1157.1 3635.5 1162.3 3636.0 1167.6 3636.5 1172.8 3637.0 1178.1 3637.5 1183.3 3638.0 1188.5 3638.5 1193.8 3639.0 1199.0 3639.5 1204.3 3640.0 1209.5 3640.4 1214.8 3640.9 1220.0 3641.4 1225.3 3641.8 1230.5 3642.3 1235.7 3642.7 1241.0 3643.2 1246.2 3643.6 1251.5 3644.1 1256.7 3644.5 1262.0 3644.9 1267.2 3645.3 1272.5 3645.8 1277.7 3646.2 1282.9 3646.6 1288.2 3647.0 1293.4 3647.4 1298.7 3647.8 1303.9 3648.2 1309.2 3648.6 1314.4 3649.0 1319.7 3649.4 1324.9 3649.7 1330.2 3650.1 1335.4 3650.5 1340.6 3650.9 1345.9 3651.2 1351.1 3651.6" fill="none" stroke="#800000" stroke-width="3.3" stroke-linejoin="round"/>
<path d="M307.4 3071.6 308.3 3072.9 308.4 3073.0 309.3 3074.8 309.4 3074.9 310.2 3076.9 310.4 3077.2 311.2 3079.2 311.3 3079.6 312.1 3081.7 312.3 3082.2 312.6 3083.1 313.1 3084.3 313.3 3084.9 314.0 3087.0 314.3 3087.7 315.0 3089.8 315.3 3090.6 315.9 3092.6 316.3 3093.6 316.9 3095.6 317.2 3096.7 317.8 3098.5 317.9 3098.7 318.2 3099.8 319.2 3102.9 320.2 3106.1 321.2 3109.4 322.2 3112.6 323.1 3115.9 323.2 3115.9 324.1 3119.3 325.1 3122.6 326.1 3125.9 327.1 3129.3 328.1 3132.7 328.4 3133.7 329.1 3136.0 330.0 3139.4 331.0 3142.8 332.0 3146.2 333.0 3149.6 333.6 3151.7 334.0 3152.9 335.0 3156.3 336.0 3159.7 336.9 3163.0 337.9 3166.4 338.9 3169.6 338.9 3169.7 339.9 3173.1 340.9 3176.4 341.9 3179.7 342.8 3183.0 343.8 3186.3 344.1 3187.2 344.8 3189.5 345.8 3192.8 346.8 3196.0 347.8 3199.2 348.8 3202.4 349.4 3204.4 349.7 3205.6 350.7 3208.8 351.7 3211.9 352.7 3215.0 353.7 3218.1 354.6 3221.1 354.7 3221.2 355.6 3224.3 356.6 3227.4 357.6 3230.4 358.6 3233.4 359.6 3236.4 359.8 3237.2 360.6 3239.3 361.6 3242.3 362.5 3245.2 363.5 3248.1 364.5 3251.0 365.1 3252.7 365.5 3253.9 366.5 3256.7 367.5 3259.5 368.4 3262.3 369.4 3265.1 370.3 3267.7 370.4 3267.9 371.4 3270.6 372.4 3273.3 373.4 3276.0 374.4 3278.7 375.3 3281.4 375.6 3282.0 376.3 3284.0 377.3 3286.6 378.3 3289.2 379.3 3291.8 380.3 3294.3 380.8 3295.8 381.2 3296.9 382.2 3299.4 383.2 3301.9 384.2 3304.3 385.2 3306.8 386.1 3309.0 386.2 3309.2 387.2 3311.6 388.1 3314.0 389.1 3316.4 390.1 3318.8 391.1 3321.1 391.3 3321.6 392.1 3323.4 393.1 3325.7 394.0 3328.0 395.0 3330.2 396.0 3332.5 396.6 3333.7 397.0 3334.7 398.0 3336.9 399.0 3339.1 400.0 3341.3 400.9 3343.4 401.8 3345.3 401.9 3345.6 402.9 3347.7 403.9 3349.8 404.9 3351.9 405.9 3353.9 406.9 3356.0 407.1 3356.4 407.8 3358.0 408.8 3360.0 409.8 3362.0 410.8 3364.0 411.8 3366.0 412.3 3367.0 412.8 3367.9 413.7 3369.8 414.7 3371.8 415.7 3373.7 416.7 3375.5 417.5 3377.1 417.7 3377.4 418.7 3379.3 419.7 3381.1 420.6 3382.9 421.6 3384.7 422.6 3386.5 422.8 3386.9 423.6 3388.3 424.6 3390.1 425.6 3391.8 426.5 3393.6 427.5 3395.3 428.0 3396.2 428.5 3397.0 429.5 3398.7 430.5 3400.4 431.5 3402.1 432.5 3403.7 433.3 3405.1 433.4 3405.4 434.4 3407.0 435.4 3408.6 436.4 3410.2 437.4 3411.8 438.4 3413.4 438.5 3413.6 439.3 3415.0 440.3 3416.5 441.3 3418.0 442.3 3419.6 443.3 3421.1 443.8 3421.8 444.3 3422.6 445.3 3424.1 446.2 3425.6 447.2 3427.0 448.2 3428.5 449.0 3429.7 449.2 3430.0 450.2 3431.4 451.2 3432.8 452.1 3434.2 453.1 3435.6 454.1 3437.0 454.3 3437.2 455.1 3438.4 456.1 3439.8 457.1 3441.1 458.1 3442.5 459.0 3443.8 459.5 3444.5 460.0 3445.2 461.0 3446.5 462.0 3447.8 463.0 3449.1 464.0 3450.4 464.7 3451.4 470.0 3458.1 475.2 3464.5 480.5 3470.7 485.7 3476.6 491.0 3482.3 496.2 3487.8 501.5 3493.1 506.7 3498.2 512.0 3503.1 517.2 3507.9 522.4 3512.5 527.7 3516.9 532.9 3521.1 538.2 3525.3 543.4 3529.3 548.7 3533.1 553.9 3536.9 559.2 3540.5 564.4 3544.0 569.6 3547.3 574.9 3550.6 580.1 3553.8 585.4 3556.9 590.6 3559.9 595.9 3562.8 601.1 3565.6 606.4 3568.3 611.6 3571.0 616.8 3573.6 622.1 3576.1 627.3 3578.5 632.6 3580.9 637.8 3583.2 643.1 3585.4 648.3 3587.6 653.6 3589.8 658.8 3591.8 664.1 3593.8 669.3 3595.8 674.5 3597.7 679.8 3599.6 685.0 3601.4 690.3 3603.2 695.5 3604.9 700.8 3606.6 706.0 3608.3 711.3 3609.9 716.5 3611.5 721.7 3613.0 727.0 3614.5 732.2 3616.0 737.5 3617.4 742.7 3618.8 748.0 3620.2 753.2 3621.5 758.5 3622.9 763.7 3624.1 769.0 3625.4 774.2 3626.6 779.4 3627.8 784.7 3629.0 789.9 3630.2 795.2 3631.3 800.4 3632.4 805.7 3633.5 810.9 3634.6 816.2 3635.6 821.4 3636.6 826.6 3637.6 831.9 3638.6 837.1 3639.6 842.4 3640.5 847.6 3641.5 852.9 3642.4 858.1 3643.3 863.4 3644.1 868.6 3645.0 873.8 3645.9 879.1 3646.7 884.3 3647.5 889.6 3648.3 894.8 3649.1 900.1 3649.9 905.3 3650.6 910.6 3651.4 915.8 3652.1 921.1 3652.8 926.3 3653.5 931.5 3654.2 936.8 3654.9 942.0 3655.6 947.3 3656.3 952.5 3656.9 957.8 3657.6 963.0 3658.2 968.3 3658.8 973.5 3659.4 978.7 3660.0 984.0 3660.6 989.2 3661.2 994.5 3661.8 999.7 3662.4 1005.0 3662.9 1010.2 3663.5 1015.5 3664.0 1020.7 3664.5 1026.0 3665.1 1031.2 3665.6 1036.4 3666.1 1041.7 3666.6 1046.9 3667.1 1052.2 3667.6 1057.4 3668.0 1062.7 3668.5 1067.9 3669.0 1073.2 3669.5 1078.4 3669.9 1083.6 3670.4 1088.9 3670.8 1094.1 3671.2 1099.4 3671.7 1104.6 3672.1 1109.9 3672.5 1115.1 3672.9 1120.4 3673.3 1125.6 3673.7 1130.8 3674.1 1136.1 3674.5 1141.3 3674.9 1146.6 3675.3 1151.8 3675.7 1157.1 3676.0 1162.3 3676.4 1167.6 3676.8 1172.8 3677.1 1178.1 3677.5 1183.3 3677.8 1188.5 3678.2 1193.8 3678.5 1199.0 3678.8 1204.3 3679.2 1209.5 3679.5 1214.8 3679.8 1220.0 3680.1 1225.3 3680.4 1230.5 3680.8 1235.7 3681.1 1241.0 3681.4 1246.2 3681.7 1251.5 3682.0 1256.7 3682.3 1262.0 3682.6 1267.2 3682.8 1272.5 3683.1 1277.7 3683.4 1282.9 3683.7 1288.2 3684.0 1293.4 3684.2 1298.7 3684.5 1303.9 3684.8 1309.2 3685.0 1314.4 3685.3 1319.7 3685.5 1324.9 3685.8 1330.2 3686.0 1335.4 3686.3 1340.6 3686.5 1345.9 3686.8 1351.1 3687.0" fill="none" stroke="#000000" stroke-width="3.3" stroke-linejoin="round"/>
<path d="M307.4 3105.4 308.3 3106.0 308.4 3106.1 309.3 3107.7 309.4 3107.9 310.2 3110.3 310.4 3110.7 311.2 3113.7 311.3 3114.3 312.1 3117.8 312.3 3118.7 312.6 3120.3 313.1 3122.7 313.3 3123.9 314.0 3128.1 314.3 3129.7 315.0 3134.2 315.3 3136.1 315.9 3140.8 316.3 3143.1 316.9 3147.8 317.2 3150.6 317.8 3155.3 317.9 3155.7 318.2 3158.5 319.2 3166.8 320.2 3175.5 321.2 3184.4 322.2 3193.6 323.1 3202.8 323.2 3203.0 324.1 3212.6 325.1 3222.2 326.1 3231.9 327.1 3241.7 328.1 3251.5 328.4 3254.5 329.1 3261.3 330.0 3271.1 331.0 3280.8 332.0 3290.4 333.0 3299.9 333.6 3305.9 334.0 3309.3 335.0 3318.6 336.0 3327.7 336.9 3336.7 337.9 3345.5 338.9 3353.8 338.9 3354.2 339.9 3362.7 340.9 3371.0 341.9 3379.1 342.8 3387.1 343.8 3394.9 344.1 3397.1 344.8 3402.5 345.8 3409.9 346.8 3417.2 347.8 3424.2 348.8 3431.1 349.4 3435.2 349.7 3437.8 350.7 3444.3 351.7 3450.7 352.7 3456.9 353.7 3462.9 354.6 3468.4 354.7 3468.8 355.6 3474.5 356.6 3480.0 357.6 3485.4 358.6 3490.7 359.6 3495.8 359.8 3497.1 360.6 3500.8 361.6 3505.6 362.5 3510.3 363.5 3514.9 364.5 3519.3 365.1 3521.9 365.5 3523.6 366.5 3527.8 367.5 3531.9 368.4 3535.9 369.4 3539.8 370.3 3543.2 370.4 3543.5 371.4 3547.2 372.4 3550.8 373.4 3554.2 374.4 3557.6 375.3 3560.9 375.6 3561.7 376.3 3564.1 377.3 3567.2 378.3 3570.2 379.3 3573.2 380.3 3576.1 380.8 3577.7 381.2 3578.9 382.2 3581.6 383.2 3584.3 384.2 3586.9 385.2 3589.4 386.1 3591.6 386.2 3591.8 387.2 3594.2 388.1 3596.6 389.1 3598.9 390.1 3601.1 391.1 3603.2 391.3 3603.7 392.1 3605.4 393.1 3607.4 394.0 3609.4 395.0 3611.4 396.0 3613.3 396.6 3614.4 397.0 3615.2 398.0 3617.0 399.0 3618.8 400.0 3620.5 400.9 3622.2 401.8 3623.7 401.9 3623.9 402.9 3625.5 403.9 3627.1 404.9 3628.7 405.9 3630.2 406.9 3631.7 407.1 3632.0 407.8 3633.1 408.8 3634.5 409.8 3635.9 410.8 3637.3 411.8 3638.6 412.3 3639.3 412.8 3639.9 413.7 3641.2 414.7 3642.4 415.7 3643.6 416.7 3644.8 417.5 3645.8 417.7 3646.0 418.7 3647.1 419.7 3648.3 420.6 3649.3 421.6 3650.4 422.6 3651.5 422.8 3651.7 423.6 3652.5 424.6 3653.5 425.6 3654.5 426.5 3655.5 427.5 3656.4 428.0 3656.9 428.5 3657.3 429.5 3658.3 430.5 3659.1 431.5 3660.0 432.5 3660.9 433.3 3661.6 433.4 3661.7 434.4 3662.6 435.4 3663.4 436.4 3664.2 437.4 3664.9 438.4 3665.7 438.5 3665.8 439.3 3666.5 440.3 3667.2 441.3 3667.9 442.3 3668.6 443.3 3669.3 443.8 3669.7 444.3 3670.0 445.3 3670.7 446.2 3671.4 447.2 3672.0 448.2 3672.7 449.0 3673.2 449.2 3673.3 450.2 3673.9 451.2 3674.5 452.1 3675.1 453.1 3675.7 454.1 3676.3 454.3 3676.4 455.1 3676.8 456.1 3677.4 457.1 3677.9 458.1 3678.5 459.0 3679.0 459.5 3679.3 460.0 3679.5 461.0 3680.0 462.0 3680.5 463.0 3681.0 464.0 3681.5 464.7 3681.9 470.0 3684.4 475.2 3686.6 480.5 3688.7 485.7 3690.6 491.0 3692.3 496.2 3694.0 501.5 3695.5 506.7 3696.9 512.0 3698.3 517.2 3699.5 522.4 3700.6 527.7 3701.7 532.9 3702.7 538.2 3703.7 543.4 3704.6 548.7 3705.4 553.9 3706.2 559.2 3707.0 564.4 3707.7 569.6 3708.4 574.9 3709.0 580.1 3709.6 585.4 3710.2 590.6 3710.7 595.9 3711.2 601.1 3711.7 606.4 3712.2 611.6 3712.6 616.8 3713.0 622.1 3713.4 627.3 3713.8 632.6 3714.2 637.8 3714.6 643.1 3714.9 648.3 3715.2 653.6 3715.5 658.8 3715.8 664.1 3716.1 669.3 3716.4 674.5 3716.6 679.8 3716.9 685.0 3717.1 690.3 3717.4 695.5 3717.6 700.8 3717.8 706.0 3718.0 711.3 3718.2 716.5 3718.4 721.7 3718.6 727.0 3718.8 732.2 3719.0 737.5 3719.1 742.7 3719.3 748.0 3719.5 753.2 3719.6 758.5 3719.8 763.7 3719.9 769.0 3720.0 774.2 3720.2 779.4 3720.3 784.7 3720.4 789.9 3720.5 795.2 3720.7 800.4 3720.8 805.7 3720.9 810.9 3721.0 816.2 3721.1 821.4 3721.2 826.6 3721.3 831.9 3721.4 837.1 3721.5 842.4 3721.6 847.6 3721.7 852.9 3721.8 858.1 3721.8 863.4 3721.9 868.6 3722.0 873.8 3722.1 879.1 3722.2 884.3 3722.2 889.6 3722.3 894.8 3722.4 900.1 3722.4 905.3 3722.5 910.6 3722.6 915.8 3722.6 921.1 3722.7 926.3 3722.8 931.5 3722.8 936.8 3722.9 942.0 3722.9 947.3 3723.0 952.5 3723.0 957.8 3723.1 963.0 3723.1 968.3 3723.2 973.5 3723.2 978.7 3723.3 984.0 3723.3 989.2 3723.4 994.5 3723.4 999.7 3723.5 1005.0 3723.5 1010.2 3723.6 1015.5 3723.6 1020.7 3723.6 1026.0 3723.7 1031.2 3723.7 1036.4 3723.8 1041.7 3723.8 1046.9 3723.8 1052.2 3723.9 1057.4 3723.9 1062.7 3723.9 1067.9 3724.0 1073.2 3724.0 1078.4 3724.0 1083.6 3724.1 1088.9 3724.1 1094.1 3724.1 1099.4 3724.2 1104.6 3724.2 1109.9 3724.2 1115.1 3724.2 1120.4 3724.3 1125.6 3724.3 1130.8 3724.3 1136.1 3724.3 1141.3 3724.4 1146.6 3724.4 1151.8 3724.4 1157.1 3724.4 1162.3 3724.5 1167.6 3724.5 1172.8 3724.5 1178.1 3724.5 1183.3 3724.6 1188.5 3724.6 1193.8 3724.6 1199.0 3724.6 1204.3 3724.7 1209.5 3724.7 1214.8 3724.7 1220.0 3724.7 1225.3 3724.7 1230.5 3724.8 1235.7 3724.8 1241.0 3724.8 1246.2 3724.8 1251.5 3724.8 1256.7 3724.8 1262.0 3724.9 1267.2 3724.9 1272.5 3724.9 1277.7 3724.9 1282.9 3724.9 1288.2 3724.9 1293.4 3725.0 1298.7 3725.0 1303.9 3725.0 1309.2 3725.0 1314.4 3725.0 1319.7 3725.0 1324.9 3725.1 1330.2 3725.1 1335.4 3725.1 1340.6 3725.1 1345.9 3725.1 1351.1 3725.1" fill="none" stroke="#ff0000" stroke-width="3.3" stroke-dasharray="41 13.2" stroke-linejoin="round"/>
<text x="1106.8" y="3043.5" font-family="Liberation Sans, sans-serif" font-size="40.7" text-anchor="middle" >Haloxyfop</text>
<rect x="964.6" y="3071.5" width="295.9" height="370" fill="#fff" stroke="#000" stroke-width="3.0"/>
<path d="M985 3109.4H1148.1" stroke="#ff0000" stroke-width="3"/>
<circle cx="1066.9" cy="3142" r="10.45" fill="#000"/>
<text x="1187.7" y="3119.68" font-family="Liberation Sans, sans-serif" font-size="29.2">S0</text>
<path d="M985 3174.6H1148.1" stroke="#0000ff" stroke-width="3"/>
<circle cx="1066.9" cy="3207.2" r="9.1" fill="#fff" stroke="#000" stroke-width="2.8"/>
<text x="1187.7" y="3184.88" font-family="Liberation Sans, sans-serif" font-size="29.2">S3</text>
<path d="M985 3239.8H1148.1" stroke="#800000" stroke-width="3"/>
<path d="M1056.35 3266.1H1077.45L1066.9 3284.4Z" fill="#000"/>
<text x="1187.7" y="3250.08" font-family="Liberation Sans, sans-serif" font-size="29.2">S7</text>
<path d="M985 3305H1148.1" stroke="#000000" stroke-width="3"/>
<path d="M1059 3342H1074.8L1066.9 3328.9Z" fill="#fff" stroke="#000" stroke-width="3.0" stroke-linejoin="miter"/>
<text x="1187.7" y="3315.28" font-family="Liberation Sans, sans-serif" font-size="29.2">S11</text>
<path d="M985 3370.2H1133" stroke="#ff0000" stroke-width="3" stroke-dasharray="41 13.2"/>
<rect x="1057.7" y="3393.5" width="18.4" height="18.6" fill="#000"/>
<text x="1187.7" y="3380.48" font-family="Liberation Sans, sans-serif" font-size="29.2">W4</text>
<text x="843.5" y="3843.6" font-family="Liberation Sans, sans-serif" font-size="35.9" text-anchor="middle" >Haloxyfop (g ai/ha)</text>
<text transform="translate(198.7 3352.8) rotate(-90)" font-family="Liberation Sans, sans-serif" font-size="35.8" text-anchor="middle">Survival (%)</text>
<text x="39.5" y="3860.9" font-family="Liberation Serif, serif" font-size="102" textLength="119" lengthAdjust="spacingAndGlyphs">(d)</text>
</g>
<g id="panel_e">
<rect x="305.6" y="3944.6" width="1070.3" height="747.8" fill="none" stroke="#000" stroke-width="3.0"/>
<path d="M305.6 4692.4V4704.9M484.04 4692.4V4704.9M662.47 4692.4V4704.9M840.91 4692.4V4704.9M1019.34 4692.4V4704.9M1197.78 4692.4V4704.9M1376.21 4692.4V4704.9M305.6 4692.4H293.1M305.6 4585.56H293.1M305.6 4478.72H293.1M305.6 4371.88H293.1M305.6 4265.04H293.1M305.6 4158.2H293.1M305.6 4051.36H293.1M305.6 3944.52H293.1" stroke="#000" stroke-width="3.0" fill="none"/>
<g font-family="Liberation Sans, sans-serif" font-size="29.8" fill="#000">
<text x="305.6" y="4744.59" text-anchor="middle">0</text>
<text x="484.04" y="4744.59" text-anchor="middle">50</text>
<text x="662.47" y="4744.59" text-anchor="middle">100</text>
<text x="840.91" y="4744.59" text-anchor="middle">150</text>
<text x="1019.34" y="4744.59" text-anchor="middle">200</text>
<text x="1197.78" y="4744.59" text-anchor="middle">250</text>
<text x="1376.21" y="4744.59" text-anchor="middle">300</text>
<text x="281.2" y="4702.49" text-anchor="end">-20</text>
<text x="281.2" y="4595.65" text-anchor="end">0</text>
<text x="281.2" y="4488.81" text-anchor="end">20</text>
<text x="281.2" y="4381.97" text-anchor="end">40</text>
<text x="281.2" y="4275.13" text-anchor="end">60</text>
<text x="281.2" y="4168.29" text-anchor="end">80</text>
<text x="281.2" y="4061.45" text-anchor="end">100</text>
<text x="281.2" y="3954.61" text-anchor="end">120</text>
</g>
<path d="M337.72 4141.64V4200.4M325.42 4141.64H350.02M325.42 4200.4H350.02M369.84 4133.09V4208.95M357.54 4133.09H382.14M357.54 4208.95H382.14M434.07 4472.31V4508.64M421.77 4472.31H446.37M421.77 4508.64H446.37M562.55 4473.38V4518.78M550.25 4473.38H574.85M550.25 4518.78H574.85" stroke="#000" stroke-width="3.0" fill="none"/>
<circle cx="305.6" cy="4051.36" r="10.45" fill="#000"/>
<circle cx="337.72" cy="4171.02" r="10.45" fill="#000"/>
<circle cx="369.84" cy="4171.02" r="10.45" fill="#000"/>
<circle cx="434.07" cy="4481.39" r="10.45" fill="#000"/>
<circle cx="562.55" cy="4496.35" r="10.45" fill="#000"/>
<circle cx="819.49" cy="4585.56" r="10.45" fill="#000"/>
<circle cx="1333.39" cy="4585.56" r="10.45" fill="#000"/>
<path d="M337.72 4063.11V4100.51M325.42 4063.11H350.02M325.42 4100.51H350.02M369.84 4101.04V4182.24M357.54 4101.04H382.14M357.54 4182.24H382.14M434.07 4191.85V4298.16M421.77 4191.85H446.37M421.77 4298.16H446.37M562.55 4417.29V4473.38M550.25 4417.29H574.85M550.25 4473.38H574.85M819.49 4395.92V4449.34M807.19 4395.92H831.79M807.19 4449.34H831.79M1333.39 4555.11V4583.96M1321.09 4555.11H1345.69M1321.09 4583.96H1345.69" stroke="#000" stroke-width="3.0" fill="none"/>
<circle cx="305.6" cy="4051.36" r="9.1" fill="#fff" stroke="#000" stroke-width="2.8"/>
<circle cx="337.72" cy="4081.81" r="9.1" fill="#fff" stroke="#000" stroke-width="2.8"/>
<circle cx="369.84" cy="4140.57" r="9.1" fill="#fff" stroke="#000" stroke-width="2.8"/>
<circle cx="434.07" cy="4244.21" r="9.1" fill="#fff" stroke="#000" stroke-width="2.8"/>
<circle cx="562.55" cy="4452.01" r="9.1" fill="#fff" stroke="#000" stroke-width="2.8"/>
<circle cx="819.49" cy="4422.09" r="9.1" fill="#fff" stroke="#000" stroke-width="2.8"/>
<circle cx="1333.39" cy="4569.53" r="9.1" fill="#fff" stroke="#000" stroke-width="2.8"/>
<path d="M337.72 4126.68V4151.79M325.42 4151.79H350.02M369.84 4126.68V4213.76M357.54 4126.68H382.14M357.54 4213.76H382.14M434.07 4323.27V4433.31M421.77 4323.27H446.37M421.77 4433.31H446.37M562.55 4379.89V4464.83M550.25 4379.89H574.85M550.25 4464.83H574.85M819.49 4473.38V4519.85M807.19 4473.38H831.79M807.19 4519.85H831.79" stroke="#000" stroke-width="3.0" fill="none"/>
<path d="M295.05 4045.06H316.15L305.6 4063.36Z" fill="#000"/>
<path d="M327.17 4120.38H348.27L337.72 4138.68Z" fill="#000"/>
<path d="M359.29 4133.74H380.39L369.84 4152.04Z" fill="#000"/>
<path d="M423.52 4371.99H444.62L434.07 4390.29Z" fill="#000"/>
<path d="M552 4416.86H573.1L562.55 4435.16Z" fill="#000"/>
<path d="M808.94 4492.72H830.04L819.49 4511.02Z" fill="#000"/>
<path d="M1322.84 4579.26H1343.94L1333.39 4597.56Z" fill="#000"/>
<path d="M337.72 4109.05V4188.65M325.42 4188.65H350.02M434.07 4433.31V4472.31M421.77 4433.31H446.37M421.77 4472.31H446.37M562.55 4556.18V4581.82M550.25 4556.18H574.85M550.25 4581.82H574.85M819.49 4555.11V4583.96M807.19 4555.11H831.79M807.19 4583.96H831.79" stroke="#000" stroke-width="3.0" fill="none"/>
<path d="M297.7 4057.66H313.5L305.6 4044.56Z" fill="#fff" stroke="#000" stroke-width="3.0" stroke-linejoin="miter"/>
<path d="M329.82 4115.35H345.62L337.72 4102.25Z" fill="#fff" stroke="#000" stroke-width="3.0" stroke-linejoin="miter"/>
<path d="M361.94 4148.47H377.74L369.84 4135.37Z" fill="#fff" stroke="#000" stroke-width="3.0" stroke-linejoin="miter"/>
<path d="M426.17 4456.17H441.97L434.07 4443.07Z" fill="#fff" stroke="#000" stroke-width="3.0" stroke-linejoin="miter"/>
<path d="M554.65 4575.3H570.45L562.55 4562.2Z" fill="#fff" stroke="#000" stroke-width="3.0" stroke-linejoin="miter"/>
<path d="M811.59 4575.83H827.39L819.49 4562.73Z" fill="#fff" stroke="#000" stroke-width="3.0" stroke-linejoin="miter"/>
<path d="M1325.49 4591.86H1341.29L1333.39 4578.76Z" fill="#fff" stroke="#000" stroke-width="3.0" stroke-linejoin="miter"/>
<path d="M337.72 4200.4V4318.46M325.42 4200.4H350.02M325.42 4318.46H350.02M369.84 4196.66V4323.8M357.54 4196.66H382.14M357.54 4323.8H382.14" stroke="#000" stroke-width="3.0" fill="none"/>
<rect x="296.4" y="4042.06" width="18.4" height="18.6" fill="#000"/>
<rect x="328.52" y="4250.4" width="18.4" height="18.6" fill="#000"/>
<rect x="360.64" y="4250.4" width="18.4" height="18.6" fill="#000"/>
<rect x="424.87" y="4576.26" width="18.4" height="18.6" fill="#000"/>
<rect x="553.35" y="4576.26" width="18.4" height="18.6" fill="#000"/>
<rect x="810.29" y="4576.26" width="18.4" height="18.6" fill="#000"/>
<rect x="1324.19" y="4576.26" width="18.4" height="18.6" fill="#000"/>
<path d="M305.6 4081.8 306.5 4081.8 306.6 4081.8 307.5 4081.8 307.5 4081.8 308.4 4081.8 308.5 4081.8 309.3 4081.9 309.5 4081.9 310.3 4081.9 310.4 4082.0 310.8 4082.0 311.2 4082.0 311.4 4082.0 312.1 4082.1 312.4 4082.2 313.1 4082.3 313.4 4082.3 314.0 4082.5 314.3 4082.5 314.9 4082.7 315.3 4082.8 315.9 4082.9 315.9 4083.0 316.3 4083.1 317.2 4083.4 318.2 4083.8 319.2 4084.3 320.1 4084.8 321.1 4085.3 321.1 4085.3 322.1 4086.0 323.1 4086.7 324.0 4087.5 325.0 4088.3 326.0 4089.2 326.3 4089.5 326.9 4090.2 327.9 4091.3 328.9 4092.5 329.8 4093.8 330.8 4095.1 331.4 4096.0 331.8 4096.5 332.7 4098.0 333.7 4099.6 334.7 4101.3 335.7 4103.1 336.6 4104.9 336.6 4104.9 337.6 4106.9 338.6 4108.9 339.5 4111.1 340.5 4113.3 341.5 4115.6 341.8 4116.3 342.4 4118.0 343.4 4120.5 344.4 4123.1 345.4 4125.8 346.3 4128.5 346.9 4130.2 347.3 4131.3 348.3 4134.3 349.2 4137.3 350.2 4140.3 351.2 4143.5 352.1 4146.5 352.1 4146.7 353.1 4150.0 354.1 4153.4 355.1 4156.8 356.0 4160.3 357.0 4163.9 357.2 4164.8 358.0 4167.5 358.9 4171.2 359.9 4174.9 360.9 4178.7 361.8 4182.5 362.4 4184.8 362.8 4186.4 363.8 4190.3 364.7 4194.2 365.7 4198.2 366.7 4202.2 367.6 4205.9 367.7 4206.3 368.6 4210.3 369.6 4214.4 370.6 4218.5 371.5 4222.7 372.5 4226.8 372.7 4227.8 373.5 4231.0 374.4 4235.1 375.4 4239.3 376.4 4243.4 377.4 4247.6 377.9 4250.0 378.3 4251.8 379.3 4255.9 380.3 4260.1 381.2 4264.2 382.2 4268.3 383.1 4272.0 383.2 4272.4 384.1 4276.5 385.1 4280.6 386.1 4284.7 387.0 4288.7 388.0 4292.7 388.2 4293.6 389.0 4296.7 390.0 4300.6 390.9 4304.6 391.9 4308.5 392.9 4312.3 393.4 4314.5 393.8 4316.2 394.8 4320.0 395.8 4323.7 396.7 4327.5 397.7 4331.1 398.6 4334.4 398.7 4334.8 399.7 4338.4 400.6 4342.0 401.6 4345.5 402.6 4349.0 403.5 4352.5 403.7 4353.2 404.5 4355.9 405.5 4359.3 406.4 4362.6 407.4 4365.9 408.4 4369.1 408.9 4370.8 409.3 4372.3 410.3 4375.5 411.3 4378.6 412.3 4381.7 413.2 4384.7 414.1 4387.3 414.2 4387.7 415.2 4390.7 416.1 4393.6 417.1 4396.4 418.1 4399.3 419.0 4402.1 419.2 4402.6 420.0 4404.8 421.0 4407.5 422.0 4410.2 422.9 4412.8 423.9 4415.3 424.4 4416.7 424.9 4417.9 425.8 4420.4 426.8 4422.8 427.8 4425.3 428.7 4427.7 429.6 4429.6 429.7 4430.0 430.7 4432.3 431.6 4434.6 432.6 4436.8 433.6 4439.0 434.6 4441.2 434.7 4441.5 435.5 4443.3 436.5 4445.4 437.5 4447.5 438.4 4449.5 439.4 4451.5 439.9 4452.4 440.4 4453.4 441.3 4455.4 442.3 4457.2 443.3 4459.1 444.3 4460.9 445.0 4462.4 445.2 4462.7 446.2 4464.5 447.2 4466.3 448.1 4468.0 449.1 4469.7 450.1 4471.3 450.2 4471.6 451.0 4472.9 452.0 4474.5 453.0 4476.1 454.0 4477.7 454.9 4479.2 455.4 4479.9 455.9 4480.7 456.9 4482.2 457.8 4483.6 458.8 4485.0 459.8 4486.4 460.5 4487.5 465.7 4494.5 470.9 4500.9 476.0 4506.7 481.2 4512.1 486.4 4517.0 491.5 4521.5 496.7 4525.6 501.9 4529.4 507.0 4532.9 512.2 4536.1 517.4 4539.1 522.5 4541.8 527.7 4544.3 532.8 4546.7 538.0 4548.9 543.2 4550.9 548.3 4552.7 553.5 4554.5 558.7 4556.1 563.8 4557.6 569.0 4559.0 574.2 4560.4 579.3 4561.6 584.5 4562.7 589.7 4563.8 594.8 4564.8 600.0 4565.8 605.2 4566.7 610.3 4567.5 615.5 4568.3 620.6 4569.1 625.8 4569.8 631.0 4570.4 636.1 4571.1 641.3 4571.7 646.5 4572.2 651.6 4572.7 656.8 4573.3 662.0 4573.7 667.1 4574.2 672.3 4574.6 677.5 4575.0 682.6 4575.4 687.8 4575.8 693.0 4576.1 698.1 4576.5 703.3 4576.8 708.5 4577.1 713.6 4577.4 718.8 4577.6 723.9 4577.9 729.1 4578.2 734.3 4578.4 739.4 4578.6 744.6 4578.9 749.8 4579.1 754.9 4579.3 760.1 4579.5 765.3 4579.6 770.4 4579.8 775.6 4580.0 780.8 4580.2 785.9 4580.3 791.1 4580.5 796.3 4580.6 801.4 4580.8 806.6 4580.9 811.7 4581.0 816.9 4581.1 822.1 4581.3 827.2 4581.4 832.4 4581.5 837.6 4581.6 842.7 4581.7 847.9 4581.8 853.1 4581.9 858.2 4582.0 863.4 4582.1 868.6 4582.2 873.7 4582.3 878.9 4582.3 884.1 4582.4 889.2 4582.5 894.4 4582.6 899.5 4582.6 904.7 4582.7 909.9 4582.8 915.0 4582.8 920.2 4582.9 925.4 4583.0 930.5 4583.0 935.7 4583.1 940.9 4583.1 946.0 4583.2 951.2 4583.2 956.4 4583.3 961.5 4583.3 966.7 4583.4 971.9 4583.4 977.0 4583.5 982.2 4583.5 987.3 4583.6 992.5 4583.6 997.7 4583.6 1002.8 4583.7 1008.0 4583.7 1013.2 4583.8 1018.3 4583.8 1023.5 4583.8 1028.7 4583.9 1033.8 4583.9 1039.0 4583.9 1044.2 4584.0 1049.3 4584.0 1054.5 4584.0 1059.7 4584.0 1064.8 4584.1 1070.0 4584.1 1075.1 4584.1 1080.3 4584.2 1085.5 4584.2 1090.6 4584.2 1095.8 4584.2 1101.0 4584.3 1106.1 4584.3 1111.3 4584.3 1116.5 4584.3 1121.6 4584.3 1126.8 4584.4 1132.0 4584.4 1137.1 4584.4 1142.3 4584.4 1147.5 4584.4 1152.6 4584.5 1157.8 4584.5 1162.9 4584.5 1168.1 4584.5 1173.3 4584.5 1178.4 4584.5 1183.6 4584.6 1188.8 4584.6 1193.9 4584.6 1199.1 4584.6 1204.3 4584.6 1209.4 4584.6 1214.6 4584.7 1219.8 4584.7 1224.9 4584.7 1230.1 4584.7 1235.3 4584.7 1240.4 4584.7 1245.6 4584.7 1250.7 4584.7 1255.9 4584.8 1261.1 4584.8 1266.2 4584.8 1271.4 4584.8 1276.6 4584.8 1281.7 4584.8 1286.9 4584.8 1292.1 4584.8 1297.2 4584.8 1302.4 4584.9 1307.6 4584.9 1312.7 4584.9 1317.9 4584.9 1323.1 4584.9 1328.2 4584.9 1333.4 4584.9" fill="none" stroke="#ff0000" stroke-width="3.5" stroke-linejoin="round"/>
<path d="M305.6 4042.8 306.5 4043.1 306.6 4043.2 307.5 4043.7 307.5 4043.7 308.4 4044.4 308.5 4044.5 309.3 4045.2 309.5 4045.3 310.3 4046.1 310.4 4046.2 310.8 4046.6 311.2 4047.0 311.4 4047.2 312.1 4048.0 312.4 4048.3 313.1 4049.1 313.4 4049.5 314.0 4050.3 314.3 4050.7 314.9 4051.5 315.3 4051.9 315.9 4052.7 315.9 4052.8 316.3 4053.2 317.2 4054.6 318.2 4056.0 319.2 4057.4 320.1 4058.9 321.1 4060.3 321.1 4060.4 322.1 4061.9 323.1 4063.4 324.0 4065.0 325.0 4066.7 326.0 4068.3 326.3 4068.8 326.9 4070.0 327.9 4071.6 328.9 4073.3 329.8 4075.1 330.8 4076.8 331.4 4077.9 331.8 4078.6 332.7 4080.3 333.7 4082.1 334.7 4083.9 335.7 4085.7 336.6 4087.5 336.6 4087.6 337.6 4089.4 338.6 4091.2 339.5 4093.1 340.5 4095.0 341.5 4096.8 341.8 4097.4 342.4 4098.7 343.4 4100.6 344.4 4102.5 345.4 4104.4 346.3 4106.3 346.9 4107.5 347.3 4108.2 348.3 4110.1 349.2 4112.0 350.2 4114.0 351.2 4115.9 352.1 4117.7 352.1 4117.8 353.1 4119.7 354.1 4121.6 355.1 4123.6 356.0 4125.5 357.0 4127.4 357.2 4127.9 358.0 4129.3 358.9 4131.3 359.9 4133.2 360.9 4135.1 361.8 4137.0 362.4 4138.2 362.8 4138.9 363.8 4140.8 364.7 4142.8 365.7 4144.7 366.7 4146.6 367.6 4148.3 367.7 4148.5 368.6 4150.4 369.6 4152.3 370.6 4154.1 371.5 4156.0 372.5 4157.9 372.7 4158.4 373.5 4159.8 374.4 4161.6 375.4 4163.5 376.4 4165.4 377.4 4167.2 377.9 4168.3 378.3 4169.1 379.3 4170.9 380.3 4172.7 381.2 4174.6 382.2 4176.4 383.1 4178.0 383.2 4178.2 384.1 4180.0 385.1 4181.8 386.1 4183.6 387.0 4185.4 388.0 4187.2 388.2 4187.6 389.0 4189.0 390.0 4190.7 390.9 4192.5 391.9 4194.3 392.9 4196.0 393.4 4197.0 393.8 4197.7 394.8 4199.5 395.8 4201.2 396.7 4202.9 397.7 4204.6 398.6 4206.1 398.7 4206.3 399.7 4208.0 400.6 4209.7 401.6 4211.4 402.6 4213.1 403.5 4214.7 403.7 4215.1 404.5 4216.4 405.5 4218.0 406.4 4219.7 407.4 4221.3 408.4 4222.9 408.9 4223.8 409.3 4224.5 410.3 4226.2 411.3 4227.8 412.3 4229.4 413.2 4230.9 414.1 4232.3 414.2 4232.5 415.2 4234.1 416.1 4235.6 417.1 4237.2 418.1 4238.7 419.0 4240.3 419.2 4240.6 420.0 4241.8 421.0 4243.3 422.0 4244.8 422.9 4246.3 423.9 4247.8 424.4 4248.6 424.9 4249.3 425.8 4250.8 426.8 4252.3 427.8 4253.7 428.7 4255.2 429.6 4256.4 429.7 4256.7 430.7 4258.1 431.6 4259.5 432.6 4261.0 433.6 4262.4 434.6 4263.8 434.7 4264.0 435.5 4265.2 436.5 4266.6 437.5 4268.0 438.4 4269.3 439.4 4270.7 439.9 4271.4 440.4 4272.1 441.3 4273.4 442.3 4274.8 443.3 4276.1 444.3 4277.5 445.0 4278.5 445.2 4278.8 446.2 4280.1 447.2 4281.4 448.1 4282.7 449.1 4284.0 450.1 4285.3 450.2 4285.5 451.0 4286.6 452.0 4287.9 453.0 4289.1 454.0 4290.4 454.9 4291.6 455.4 4292.2 455.9 4292.9 456.9 4294.1 457.8 4295.4 458.8 4296.6 459.8 4297.8 460.5 4298.8 465.7 4305.1 470.9 4311.2 476.0 4317.2 481.2 4323.0 486.4 4328.6 491.5 4334.0 496.7 4339.3 501.9 4344.4 507.0 4349.4 512.2 4354.2 517.4 4358.8 522.5 4363.4 527.7 4367.8 532.8 4372.0 538.0 4376.2 543.2 4380.2 548.3 4384.1 553.5 4387.9 558.7 4391.6 563.8 4395.1 569.0 4398.6 574.2 4402.0 579.3 4405.3 584.5 4408.5 589.7 4411.6 594.8 4414.6 600.0 4417.6 605.2 4420.4 610.3 4423.2 615.5 4426.0 620.6 4428.6 625.8 4431.2 631.0 4433.7 636.1 4436.1 641.3 4438.5 646.5 4440.8 651.6 4443.1 656.8 4445.3 662.0 4447.5 667.1 4449.6 672.3 4451.6 677.5 4453.6 682.6 4455.6 687.8 4457.5 693.0 4459.4 698.1 4461.2 703.3 4463.0 708.5 4464.7 713.6 4466.4 718.8 4468.1 723.9 4469.7 729.1 4471.3 734.3 4472.8 739.4 4474.4 744.6 4475.8 749.8 4477.3 754.9 4478.7 760.1 4480.1 765.3 4481.5 770.4 4482.8 775.6 4484.1 780.8 4485.4 785.9 4486.7 791.1 4487.9 796.3 4489.1 801.4 4490.3 806.6 4491.4 811.7 4492.6 816.9 4493.7 822.1 4494.8 827.2 4495.8 832.4 4496.9 837.6 4497.9 842.7 4498.9 847.9 4499.9 853.1 4500.9 858.2 4501.8 863.4 4502.8 868.6 4503.7 873.7 4504.6 878.9 4505.5 884.1 4506.3 889.2 4507.2 894.4 4508.0 899.5 4508.9 904.7 4509.7 909.9 4510.5 915.0 4511.2 920.2 4512.0 925.4 4512.8 930.5 4513.5 935.7 4514.2 940.9 4515.0 946.0 4515.7 951.2 4516.4 956.4 4517.1 961.5 4517.7 966.7 4518.4 971.9 4519.0 977.0 4519.7 982.2 4520.3 987.3 4520.9 992.5 4521.5 997.7 4522.1 1002.8 4522.7 1008.0 4523.3 1013.2 4523.9 1018.3 4524.5 1023.5 4525.0 1028.7 4525.6 1033.8 4526.1 1039.0 4526.6 1044.2 4527.2 1049.3 4527.7 1054.5 4528.2 1059.7 4528.7 1064.8 4529.2 1070.0 4529.7 1075.1 4530.1 1080.3 4530.6 1085.5 4531.1 1090.6 4531.5 1095.8 4532.0 1101.0 4532.4 1106.1 4532.9 1111.3 4533.3 1116.5 4533.8 1121.6 4534.2 1126.8 4534.6 1132.0 4535.0 1137.1 4535.4 1142.3 4535.8 1147.5 4536.2 1152.6 4536.6 1157.8 4537.0 1162.9 4537.4 1168.1 4537.7 1173.3 4538.1 1178.4 4538.5 1183.6 4538.8 1188.8 4539.2 1193.9 4539.5 1199.1 4539.9 1204.3 4540.2 1209.4 4540.6 1214.6 4540.9 1219.8 4541.2 1224.9 4541.6 1230.1 4541.9 1235.3 4542.2 1240.4 4542.5 1245.6 4542.8 1250.7 4543.1 1255.9 4543.4 1261.1 4543.7 1266.2 4544.0 1271.4 4544.3 1276.6 4544.6 1281.7 4544.9 1286.9 4545.2 1292.1 4545.5 1297.2 4545.7 1302.4 4546.0 1307.6 4546.3 1312.7 4546.5 1317.9 4546.8 1323.1 4547.1 1328.2 4547.3 1333.4 4547.6" fill="none" stroke="#0000ff" stroke-width="3.3" stroke-linejoin="round"/>
<path d="M305.6 4048.2 306.5 4048.8 306.6 4048.8 307.5 4049.8 307.5 4049.9 308.4 4051.1 308.5 4051.2 309.3 4052.5 309.5 4052.7 310.3 4054.1 310.4 4054.4 310.8 4054.9 311.2 4055.7 311.4 4056.1 312.1 4057.5 312.4 4058.0 313.1 4059.4 313.4 4059.9 314.0 4061.3 314.3 4062.0 314.9 4063.3 315.3 4064.1 315.9 4065.4 315.9 4065.5 316.3 4066.3 317.2 4068.5 318.2 4070.8 319.2 4073.1 320.1 4075.5 321.1 4077.9 321.1 4077.9 322.1 4080.4 323.1 4082.9 324.0 4085.4 325.0 4087.9 326.0 4090.5 326.3 4091.3 326.9 4093.1 327.9 4095.7 328.9 4098.3 329.8 4100.9 330.8 4103.6 331.4 4105.3 331.8 4106.2 332.7 4108.9 333.7 4111.6 334.7 4114.3 335.7 4116.9 336.6 4119.5 336.6 4119.6 337.6 4122.3 338.6 4125.0 339.5 4127.7 340.5 4130.4 341.5 4133.1 341.8 4133.8 342.4 4135.7 343.4 4138.4 344.4 4141.1 345.4 4143.7 346.3 4146.4 346.9 4148.0 347.3 4149.1 348.3 4151.7 349.2 4154.3 350.2 4156.9 351.2 4159.6 352.1 4162.0 352.1 4162.2 353.1 4164.7 354.1 4167.3 355.1 4169.9 356.0 4172.4 357.0 4175.0 357.2 4175.7 358.0 4177.5 358.9 4180.0 359.9 4182.5 360.9 4185.0 361.8 4187.5 362.4 4189.0 362.8 4190.0 363.8 4192.4 364.7 4194.9 365.7 4197.3 366.7 4199.7 367.6 4201.9 367.7 4202.1 368.6 4204.4 369.6 4206.8 370.6 4209.1 371.5 4211.5 372.5 4213.8 372.7 4214.3 373.5 4216.1 374.4 4218.3 375.4 4220.6 376.4 4222.9 377.4 4225.1 377.9 4226.4 378.3 4227.3 379.3 4229.5 380.3 4231.7 381.2 4233.9 382.2 4236.0 383.1 4237.9 383.2 4238.2 384.1 4240.3 385.1 4242.4 386.1 4244.5 387.0 4246.6 388.0 4248.6 388.2 4249.1 389.0 4250.7 390.0 4252.7 390.9 4254.7 391.9 4256.7 392.9 4258.7 393.4 4259.8 393.8 4260.6 394.8 4262.6 395.8 4264.5 396.7 4266.4 397.7 4268.4 398.6 4270.0 398.7 4270.2 399.7 4272.1 400.6 4274.0 401.6 4275.8 402.6 4277.7 403.5 4279.5 403.7 4279.8 404.5 4281.3 405.5 4283.1 406.4 4284.8 407.4 4286.6 408.4 4288.3 408.9 4289.3 409.3 4290.1 410.3 4291.8 411.3 4293.5 412.3 4295.2 413.2 4296.9 414.1 4298.3 414.2 4298.5 415.2 4300.2 416.1 4301.8 417.1 4303.4 418.1 4305.0 419.0 4306.6 419.2 4306.9 420.0 4308.2 421.0 4309.8 422.0 4311.4 422.9 4312.9 423.9 4314.4 424.4 4315.2 424.9 4316.0 425.8 4317.5 426.8 4319.0 427.8 4320.5 428.7 4321.9 429.6 4323.2 429.7 4323.4 430.7 4324.8 431.6 4326.3 432.6 4327.7 433.6 4329.1 434.6 4330.5 434.7 4330.7 435.5 4331.9 436.5 4333.3 437.5 4334.7 438.4 4336.0 439.4 4337.4 439.9 4338.0 440.4 4338.7 441.3 4340.0 442.3 4341.3 443.3 4342.7 444.3 4343.9 445.0 4345.0 445.2 4345.2 446.2 4346.5 447.2 4347.8 448.1 4349.0 449.1 4350.3 450.1 4351.5 450.2 4351.7 451.0 4352.7 452.0 4353.9 453.0 4355.2 454.0 4356.4 454.9 4357.5 455.4 4358.1 455.9 4358.7 456.9 4359.9 457.8 4361.0 458.8 4362.2 459.8 4363.3 460.5 4364.2 465.7 4370.1 470.9 4375.8 476.0 4381.2 481.2 4386.5 486.4 4391.5 491.5 4396.3 496.7 4400.9 501.9 4405.4 507.0 4409.7 512.2 4413.8 517.4 4417.8 522.5 4421.6 527.7 4425.3 532.8 4428.9 538.0 4432.3 543.2 4435.6 548.3 4438.8 553.5 4441.9 558.7 4444.9 563.8 4447.8 569.0 4450.6 574.2 4453.3 579.3 4455.9 584.5 4458.5 589.7 4460.9 594.8 4463.3 600.0 4465.6 605.2 4467.8 610.3 4470.0 615.5 4472.1 620.6 4474.1 625.8 4476.1 631.0 4478.0 636.1 4479.9 641.3 4481.7 646.5 4483.5 651.6 4485.2 656.8 4486.9 662.0 4488.5 667.1 4490.1 672.3 4491.6 677.5 4493.1 682.6 4494.5 687.8 4496.0 693.0 4497.3 698.1 4498.7 703.3 4500.0 708.5 4501.3 713.6 4502.5 718.8 4503.7 723.9 4504.9 729.1 4506.1 734.3 4507.2 739.4 4508.3 744.6 4509.4 749.8 4510.5 754.9 4511.5 760.1 4512.5 765.3 4513.5 770.4 4514.4 775.6 4515.4 780.8 4516.3 785.9 4517.2 791.1 4518.1 796.3 4518.9 801.4 4519.8 806.6 4520.6 811.7 4521.4 816.9 4522.2 822.1 4523.0 827.2 4523.8 832.4 4524.5 837.6 4525.2 842.7 4525.9 847.9 4526.6 853.1 4527.3 858.2 4528.0 863.4 4528.7 868.6 4529.3 873.7 4529.9 878.9 4530.6 884.1 4531.2 889.2 4531.8 894.4 4532.4 899.5 4532.9 904.7 4533.5 909.9 4534.1 915.0 4534.6 920.2 4535.1 925.4 4535.7 930.5 4536.2 935.7 4536.7 940.9 4537.2 946.0 4537.7 951.2 4538.2 956.4 4538.7 961.5 4539.1 966.7 4539.6 971.9 4540.0 977.0 4540.5 982.2 4540.9 987.3 4541.3 992.5 4541.8 997.7 4542.2 1002.8 4542.6 1008.0 4543.0 1013.2 4543.4 1018.3 4543.8 1023.5 4544.2 1028.7 4544.5 1033.8 4544.9 1039.0 4545.3 1044.2 4545.6 1049.3 4546.0 1054.5 4546.4 1059.7 4546.7 1064.8 4547.0 1070.0 4547.4 1075.1 4547.7 1080.3 4548.0 1085.5 4548.3 1090.6 4548.7 1095.8 4549.0 1101.0 4549.3 1106.1 4549.6 1111.3 4549.9 1116.5 4550.2 1121.6 4550.5 1126.8 4550.8 1132.0 4551.0 1137.1 4551.3 1142.3 4551.6 1147.5 4551.9 1152.6 4552.1 1157.8 4552.4 1162.9 4552.7 1168.1 4552.9 1173.3 4553.2 1178.4 4553.4 1183.6 4553.7 1188.8 4553.9 1193.9 4554.1 1199.1 4554.4 1204.3 4554.6 1209.4 4554.8 1214.6 4555.1 1219.8 4555.3 1224.9 4555.5 1230.1 4555.7 1235.3 4556.0 1240.4 4556.2 1245.6 4556.4 1250.7 4556.6 1255.9 4556.8 1261.1 4557.0 1266.2 4557.2 1271.4 4557.4 1276.6 4557.6 1281.7 4557.8 1286.9 4558.0 1292.1 4558.2 1297.2 4558.4 1302.4 4558.5 1307.6 4558.7 1312.7 4558.9 1317.9 4559.1 1323.1 4559.3 1328.2 4559.4 1333.4 4559.6" fill="none" stroke="#800000" stroke-width="3.5" stroke-linejoin="round"/>
<path d="M305.6 4077.0 306.5 4077.0 306.6 4077.0 307.5 4077.0 307.5 4077.0 308.4 4077.0 308.5 4077.0 309.3 4077.0 309.5 4077.0 310.3 4077.0 310.4 4077.0 310.8 4077.0 311.2 4077.0 311.4 4077.0 312.1 4077.0 312.4 4077.0 313.1 4077.0 313.4 4077.0 314.0 4077.0 314.3 4077.0 314.9 4077.0 315.3 4077.0 315.9 4077.0 315.9 4077.0 316.3 4077.1 317.2 4077.1 318.2 4077.1 319.2 4077.1 320.1 4077.2 321.1 4077.2 321.1 4077.2 322.1 4077.3 323.1 4077.4 324.0 4077.5 325.0 4077.6 326.0 4077.7 326.3 4077.8 326.9 4077.9 327.9 4078.0 328.9 4078.2 329.8 4078.5 330.8 4078.7 331.4 4078.9 331.8 4079.0 332.7 4079.3 333.7 4079.7 334.7 4080.1 335.7 4080.5 336.6 4081.0 336.6 4081.0 337.6 4081.5 338.6 4082.1 339.5 4082.8 340.5 4083.5 341.5 4084.2 341.8 4084.5 342.4 4085.1 343.4 4086.0 344.4 4086.9 345.4 4088.0 346.3 4089.1 346.9 4089.8 347.3 4090.3 348.3 4091.6 349.2 4092.9 350.2 4094.4 351.2 4095.9 352.1 4097.5 352.1 4097.6 353.1 4099.3 354.1 4101.2 355.1 4103.1 356.0 4105.2 357.0 4107.3 357.2 4107.9 358.0 4109.6 358.9 4112.0 359.9 4114.5 360.9 4117.1 361.8 4119.8 362.4 4121.5 362.8 4122.7 363.8 4125.6 364.7 4128.7 365.7 4131.9 366.7 4135.2 367.6 4138.4 367.7 4138.7 368.6 4142.2 369.6 4145.9 370.6 4149.6 371.5 4153.5 372.5 4157.5 372.7 4158.5 373.5 4161.6 374.4 4165.8 375.4 4170.1 376.4 4174.5 377.4 4179.0 377.9 4181.6 378.3 4183.6 379.3 4188.2 380.3 4193.0 381.2 4197.8 382.2 4202.7 383.1 4207.2 383.2 4207.7 384.1 4212.7 385.1 4217.8 386.1 4222.9 387.0 4228.1 388.0 4233.3 388.2 4234.5 389.0 4238.6 390.0 4243.9 390.9 4249.2 391.9 4254.6 392.9 4259.9 393.4 4262.9 393.8 4265.3 394.8 4270.6 395.8 4276.0 396.7 4281.4 397.7 4286.7 398.6 4291.4 398.7 4292.0 399.7 4297.4 400.6 4302.6 401.6 4307.9 402.6 4313.1 403.5 4318.3 403.7 4319.4 404.5 4323.5 405.5 4328.6 406.4 4333.6 407.4 4338.6 408.4 4343.6 408.9 4346.2 409.3 4348.5 410.3 4353.3 411.3 4358.1 412.3 4362.8 413.2 4367.5 414.1 4371.4 414.2 4372.1 415.2 4376.6 416.1 4381.0 417.1 4385.4 418.1 4389.7 419.0 4394.0 419.2 4394.8 420.0 4398.1 421.0 4402.2 422.0 4406.3 422.9 4410.2 423.9 4414.1 424.4 4416.0 424.9 4417.9 425.8 4421.6 426.8 4425.3 427.8 4428.8 428.7 4432.3 429.6 4435.2 429.7 4435.8 430.7 4439.1 431.6 4442.4 432.6 4445.7 433.6 4448.8 434.6 4451.9 434.7 4452.4 435.5 4454.9 436.5 4457.9 437.5 4460.8 438.4 4463.6 439.4 4466.3 439.9 4467.7 440.4 4469.0 441.3 4471.6 442.3 4474.2 443.3 4476.7 444.3 4479.2 445.0 4481.1 445.2 4481.6 446.2 4483.9 447.2 4486.2 448.1 4488.4 449.1 4490.6 450.1 4492.7 450.2 4493.0 451.0 4494.8 452.0 4496.8 453.0 4498.8 454.0 4500.7 454.9 4502.6 455.4 4503.5 455.9 4504.4 456.9 4506.2 457.8 4508.0 458.8 4509.7 459.8 4511.3 460.5 4512.6 465.7 4520.7 470.9 4527.7 476.0 4533.9 481.2 4539.3 486.4 4544.1 491.5 4548.3 496.7 4552.0 501.9 4555.3 507.0 4558.2 512.2 4560.8 517.4 4563.1 522.5 4565.1 527.7 4566.9 532.8 4568.6 538.0 4570.0 543.2 4571.3 548.3 4572.5 553.5 4573.6 558.7 4574.5 563.8 4575.4 569.0 4576.2 574.2 4576.9 579.3 4577.5 584.5 4578.1 589.7 4578.6 594.8 4579.1 600.0 4579.6 605.2 4580.0 610.3 4580.4 615.5 4580.7 620.6 4581.0 625.8 4581.3 631.0 4581.6 636.1 4581.8 641.3 4582.1 646.5 4582.3 651.6 4582.5 656.8 4582.6 662.0 4582.8 667.1 4583.0 672.3 4583.1 677.5 4583.3 682.6 4583.4 687.8 4583.5 693.0 4583.6 698.1 4583.7 703.3 4583.8 708.5 4583.9 713.6 4584.0 718.8 4584.1 723.9 4584.1 729.1 4584.2 734.3 4584.3 739.4 4584.3 744.6 4584.4 749.8 4584.4 754.9 4584.5 760.1 4584.5 765.3 4584.6 770.4 4584.6 775.6 4584.7 780.8 4584.7 785.9 4584.8 791.1 4584.8 796.3 4584.8 801.4 4584.9 806.6 4584.9 811.7 4584.9 816.9 4584.9 822.1 4585.0 827.2 4585.0 832.4 4585.0 837.6 4585.0 842.7 4585.1 847.9 4585.1 853.1 4585.1 858.2 4585.1 863.4 4585.1 868.6 4585.1 873.7 4585.2 878.9 4585.2 884.1 4585.2 889.2 4585.2 894.4 4585.2 899.5 4585.2 904.7 4585.2 909.9 4585.2 915.0 4585.3 920.2 4585.3 925.4 4585.3 930.5 4585.3 935.7 4585.3 940.9 4585.3 946.0 4585.3 951.2 4585.3 956.4 4585.3 961.5 4585.3 966.7 4585.3 971.9 4585.4 977.0 4585.4 982.2 4585.4 987.3 4585.4 992.5 4585.4 997.7 4585.4 1002.8 4585.4 1008.0 4585.4 1013.2 4585.4 1018.3 4585.4 1023.5 4585.4 1028.7 4585.4 1033.8 4585.4 1039.0 4585.4 1044.2 4585.4 1049.3 4585.4 1054.5 4585.4 1059.7 4585.4 1064.8 4585.4 1070.0 4585.4 1075.1 4585.4 1080.3 4585.4 1085.5 4585.5 1090.6 4585.5 1095.8 4585.5 1101.0 4585.5 1106.1 4585.5 1111.3 4585.5 1116.5 4585.5 1121.6 4585.5 1126.8 4585.5 1132.0 4585.5 1137.1 4585.5 1142.3 4585.5 1147.5 4585.5 1152.6 4585.5 1157.8 4585.5 1162.9 4585.5 1168.1 4585.5 1173.3 4585.5 1178.4 4585.5 1183.6 4585.5 1188.8 4585.5 1193.9 4585.5 1199.1 4585.5 1204.3 4585.5 1209.4 4585.5 1214.6 4585.5 1219.8 4585.5 1224.9 4585.5 1230.1 4585.5 1235.3 4585.5 1240.4 4585.5 1245.6 4585.5 1250.7 4585.5 1255.9 4585.5 1261.1 4585.5 1266.2 4585.5 1271.4 4585.5 1276.6 4585.5 1281.7 4585.5 1286.9 4585.5 1292.1 4585.5 1297.2 4585.5 1302.4 4585.5 1307.6 4585.5 1312.7 4585.5 1317.9 4585.5 1323.1 4585.5 1328.2 4585.5 1333.4 4585.5" fill="none" stroke="#000000" stroke-width="3.3" stroke-linejoin="round"/>
<path d="M305.6 4081.8 306.5 4081.9 306.6 4081.9 307.5 4082.1 307.5 4082.1 308.4 4082.4 308.5 4082.5 309.3 4083.0 309.5 4083.1 310.3 4083.7 310.4 4083.8 310.8 4084.1 311.2 4084.6 311.4 4084.8 312.1 4085.7 312.4 4086.0 313.1 4087.0 313.4 4087.5 314.0 4088.5 314.3 4089.1 314.9 4090.3 315.3 4091.0 315.9 4092.2 315.9 4092.3 316.3 4093.1 317.2 4095.4 318.2 4097.9 319.2 4100.6 320.1 4103.6 321.1 4106.7 321.1 4106.7 322.1 4110.1 323.1 4113.6 324.0 4117.4 325.0 4121.3 326.0 4125.4 326.3 4126.6 326.9 4129.6 327.9 4134.0 328.9 4138.5 329.8 4143.2 330.8 4148.0 331.4 4151.1 331.8 4152.9 332.7 4158.0 333.7 4163.1 334.7 4168.3 335.7 4173.6 336.6 4178.7 336.6 4178.9 337.6 4184.3 338.6 4189.8 339.5 4195.3 340.5 4200.8 341.5 4206.4 341.8 4208.0 342.4 4212.0 343.4 4217.6 344.4 4223.1 345.4 4228.7 346.3 4234.3 346.9 4237.7 347.3 4239.9 348.3 4245.4 349.2 4250.9 350.2 4256.4 351.2 4261.8 352.1 4266.9 352.1 4267.2 353.1 4272.5 354.1 4277.8 355.1 4283.0 356.0 4288.2 357.0 4293.3 357.2 4294.7 358.0 4298.4 358.9 4303.4 359.9 4308.3 360.9 4313.2 361.8 4318.0 362.4 4320.8 362.8 4322.7 363.8 4327.3 364.7 4331.9 365.7 4336.4 366.7 4340.8 367.6 4344.8 367.7 4345.2 368.6 4349.5 369.6 4353.7 370.6 4357.8 371.5 4361.9 372.5 4365.8 372.7 4366.8 373.5 4369.8 374.4 4373.6 375.4 4377.4 376.4 4381.1 377.4 4384.7 377.9 4386.7 378.3 4388.2 379.3 4391.7 380.3 4395.1 381.2 4398.5 382.2 4401.8 383.1 4404.7 383.2 4405.0 384.1 4408.1 385.1 4411.2 386.1 4414.2 387.0 4417.2 388.0 4420.1 388.2 4420.7 389.0 4422.9 390.0 4425.7 390.9 4428.5 391.9 4431.1 392.9 4433.7 393.4 4435.2 393.8 4436.3 394.8 4438.8 395.8 4441.3 396.7 4443.7 397.7 4446.0 398.6 4448.1 398.7 4448.4 399.7 4450.6 400.6 4452.8 401.6 4455.0 402.6 4457.1 403.5 4459.2 403.7 4459.6 404.5 4461.3 405.5 4463.2 406.4 4465.2 407.4 4467.1 408.4 4469.0 408.9 4470.0 409.3 4470.8 410.3 4472.6 411.3 4474.4 412.3 4476.1 413.2 4477.8 414.1 4479.3 414.2 4479.5 415.2 4481.1 416.1 4482.7 417.1 4484.3 418.1 4485.8 419.0 4487.3 419.2 4487.6 420.0 4488.8 421.0 4490.2 422.0 4491.6 422.9 4493.0 423.9 4494.4 424.4 4495.1 424.9 4495.7 425.8 4497.0 426.8 4498.3 427.8 4499.5 428.7 4500.8 429.6 4501.8 429.7 4502.0 430.7 4503.2 431.6 4504.3 432.6 4505.5 433.6 4506.6 434.6 4507.7 434.7 4507.9 435.5 4508.8 436.5 4509.8 437.5 4510.9 438.4 4511.9 439.4 4512.9 439.9 4513.4 440.4 4513.9 441.3 4514.8 442.3 4515.8 443.3 4516.7 444.3 4517.6 445.0 4518.4 445.2 4518.5 446.2 4519.4 447.2 4520.3 448.1 4521.1 449.1 4521.9 450.1 4522.8 450.2 4522.9 451.0 4523.6 452.0 4524.3 453.0 4525.1 454.0 4525.9 454.9 4526.6 455.4 4527.0 455.9 4527.4 456.9 4528.1 457.8 4528.8 458.8 4529.5 459.8 4530.2 460.5 4530.7 465.7 4534.2 470.9 4537.3 476.0 4540.2 481.2 4542.8 486.4 4545.2 491.5 4547.5 496.7 4549.5 501.9 4551.4 507.0 4553.2 512.2 4554.9 517.4 4556.4 522.5 4557.8 527.7 4559.1 532.8 4560.4 538.0 4561.5 543.2 4562.6 548.3 4563.6 553.5 4564.6 558.7 4565.5 563.8 4566.3 569.0 4567.1 574.2 4567.8 579.3 4568.5 584.5 4569.2 589.7 4569.8 594.8 4570.4 600.0 4571.0 605.2 4571.5 610.3 4572.0 615.5 4572.5 620.6 4573.0 625.8 4573.4 631.0 4573.8 636.1 4574.2 641.3 4574.6 646.5 4574.9 651.6 4575.3 656.8 4575.6 662.0 4575.9 667.1 4576.2 672.3 4576.5 677.5 4576.7 682.6 4577.0 687.8 4577.2 693.0 4577.5 698.1 4577.7 703.3 4577.9 708.5 4578.1 713.6 4578.3 718.8 4578.5 723.9 4578.7 729.1 4578.9 734.3 4579.1 739.4 4579.2 744.6 4579.4 749.8 4579.6 754.9 4579.7 760.1 4579.8 765.3 4580.0 770.4 4580.1 775.6 4580.2 780.8 4580.4 785.9 4580.5 791.1 4580.6 796.3 4580.7 801.4 4580.8 806.6 4580.9 811.7 4581.0 816.9 4581.1 822.1 4581.2 827.2 4581.3 832.4 4581.4 837.6 4581.5 842.7 4581.6 847.9 4581.7 853.1 4581.8 858.2 4581.8 863.4 4581.9 868.6 4582.0 873.7 4582.0 878.9 4582.1 884.1 4582.2 889.2 4582.2 894.4 4582.3 899.5 4582.4 904.7 4582.4 909.9 4582.5 915.0 4582.5 920.2 4582.6 925.4 4582.7 930.5 4582.7 935.7 4582.8 940.9 4582.8 946.0 4582.9 951.2 4582.9 956.4 4582.9 961.5 4583.0 966.7 4583.0 971.9 4583.1 977.0 4583.1 982.2 4583.2 987.3 4583.2 992.5 4583.2 997.7 4583.3 1002.8 4583.3 1008.0 4583.4 1013.2 4583.4 1018.3 4583.4 1023.5 4583.5 1028.7 4583.5 1033.8 4583.5 1039.0 4583.5 1044.2 4583.6 1049.3 4583.6 1054.5 4583.6 1059.7 4583.7 1064.8 4583.7 1070.0 4583.7 1075.1 4583.8 1080.3 4583.8 1085.5 4583.8 1090.6 4583.8 1095.8 4583.9 1101.0 4583.9 1106.1 4583.9 1111.3 4583.9 1116.5 4583.9 1121.6 4584.0 1126.8 4584.0 1132.0 4584.0 1137.1 4584.0 1142.3 4584.1 1147.5 4584.1 1152.6 4584.1 1157.8 4584.1 1162.9 4584.1 1168.1 4584.2 1173.3 4584.2 1178.4 4584.2 1183.6 4584.2 1188.8 4584.2 1193.9 4584.2 1199.1 4584.3 1204.3 4584.3 1209.4 4584.3 1214.6 4584.3 1219.8 4584.3 1224.9 4584.3 1230.1 4584.3 1235.3 4584.4 1240.4 4584.4 1245.6 4584.4 1250.7 4584.4 1255.9 4584.4 1261.1 4584.4 1266.2 4584.4 1271.4 4584.5 1276.6 4584.5 1281.7 4584.5 1286.9 4584.5 1292.1 4584.5 1297.2 4584.5 1302.4 4584.5 1307.6 4584.5 1312.7 4584.6 1317.9 4584.6 1323.1 4584.6 1328.2 4584.6 1333.4 4584.6" fill="none" stroke="#ff0000" stroke-width="3.3" stroke-dasharray="41 13.2" stroke-linejoin="round"/>
<text x="912.6" y="4024.2" font-family="Liberation Sans, sans-serif" font-size="42" text-anchor="middle" >Clethodim</text>
<rect x="892.4" y="4052.6" width="296.1" height="369.4" fill="#fff" stroke="#000" stroke-width="3.0"/>
<path d="M913.3 4090H1075.7" stroke="#ff0000" stroke-width="4"/>
<circle cx="994.5" cy="4122.75" r="10.45" fill="#000"/>
<text x="1115.3" y="4100.28" font-family="Liberation Sans, sans-serif" font-size="29.2">S0</text>
<path d="M913.3 4155.5H1075.7" stroke="#0000ff" stroke-width="3"/>
<circle cx="994.5" cy="4188.25" r="9.1" fill="#fff" stroke="#000" stroke-width="2.8"/>
<text x="1115.3" y="4165.78" font-family="Liberation Sans, sans-serif" font-size="29.2">S3</text>
<path d="M913.3 4221H1075.7" stroke="#800000" stroke-width="4"/>
<path d="M983.95 4247.45H1005.05L994.5 4265.75Z" fill="#000"/>
<text x="1115.3" y="4231.28" font-family="Liberation Sans, sans-serif" font-size="29.2">S7</text>
<path d="M913.3 4286.5H1075.7" stroke="#000000" stroke-width="3"/>
<path d="M986.6 4323.65H1002.4L994.5 4310.55Z" fill="#fff" stroke="#000" stroke-width="3.0" stroke-linejoin="miter"/>
<text x="1115.3" y="4296.78" font-family="Liberation Sans, sans-serif" font-size="29.2">S11</text>
<path d="M913.3 4352H1061" stroke="#ff0000" stroke-width="3" stroke-dasharray="41 13.2"/>
<rect x="985.3" y="4375.45" width="18.4" height="18.6" fill="#000"/>
<text x="1115.3" y="4362.28" font-family="Liberation Sans, sans-serif" font-size="29.2">W4</text>
<text x="840.5" y="4809.3" font-family="Liberation Sans, sans-serif" font-size="35.9" text-anchor="middle" >Clethodim (g ai/ha)</text>
<text transform="translate(196.5 4318.3) rotate(-90)" font-family="Liberation Sans, sans-serif" font-size="35.8" text-anchor="middle">Survival (%)</text>
<text x="42.5" y="4827.5" font-family="Liberation Serif, serif" font-size="102" textLength="113" lengthAdjust="spacingAndGlyphs">(e)</text>
</g>
</svg>
</body></html>
